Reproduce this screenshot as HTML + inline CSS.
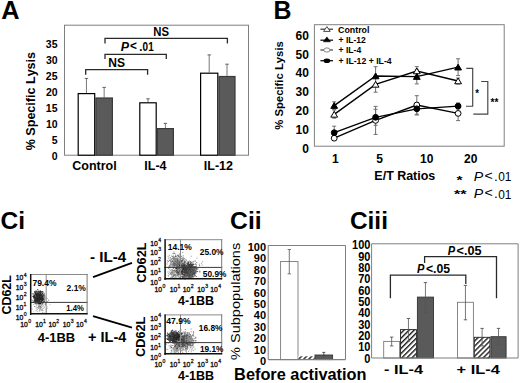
<!DOCTYPE html>
<html><head><meta charset="utf-8"><style>
html,body{margin:0;padding:0;background:#fff;}
svg{display:block;font-family:"Liberation Sans", sans-serif;font-kerning:none;}
</style></head><body>
<svg width="520" height="383" viewBox="0 0 520 383">
<defs>
<pattern id="hatch" patternUnits="userSpaceOnUse" width="3.6" height="4" patternTransform="rotate(45)">
<rect width="3.6" height="4" fill="#fff"/><line x1="0.7" y1="0" x2="0.7" y2="4" stroke="#111" stroke-width="1.35"/>
</pattern>
</defs>
<rect width="520" height="383" fill="#fff"/>
<text transform="translate(1.27,18.90) scale(0.9937,1.0000)" font-size="25.5" font-weight="bold" font-style="normal" fill="#000" >A</text>
<rect x="64.5" y="25.2" width="184" height="130" fill="none" stroke="#7f7f7f" stroke-width="1"/>
<text x="51.79" y="160.00" font-size="10.5" font-weight="bold">0</text>
<text x="51.65" y="143.98" font-size="10.5" font-weight="bold">5</text>
<text x="45.95" y="127.96" font-size="10.5" font-weight="bold">10</text>
<text x="45.81" y="111.94" font-size="10.5" font-weight="bold">15</text>
<text x="45.95" y="95.92" font-size="10.5" font-weight="bold">20</text>
<text x="45.81" y="79.90" font-size="10.5" font-weight="bold">25</text>
<text x="45.95" y="63.88" font-size="10.5" font-weight="bold">30</text>
<text x="45.81" y="47.86" font-size="10.5" font-weight="bold">35</text>
<text transform="translate(34.76,150.31) rotate(-90) scale(1.0058,1.0000)" font-size="12.5" font-weight="bold" font-style="normal" fill="#000">% Specific Lysis</text>
<line x1="86.44999999999999" y1="78.5" x2="86.44999999999999" y2="93.0" stroke="#6a6a6a" stroke-width="0.9"/>
<line x1="84.74999999999999" y1="78.5" x2="88.14999999999999" y2="78.5" stroke="#6a6a6a" stroke-width="1.1"/>
<line x1="104.15" y1="87.4" x2="104.15" y2="97.4" stroke="#6a6a6a" stroke-width="0.9"/>
<line x1="102.45" y1="87.4" x2="105.85000000000001" y2="87.4" stroke="#6a6a6a" stroke-width="1.1"/>
<line x1="148.0" y1="98.8" x2="148.0" y2="102.2" stroke="#6a6a6a" stroke-width="0.9"/>
<line x1="146.3" y1="98.8" x2="149.7" y2="98.8" stroke="#6a6a6a" stroke-width="1.1"/>
<line x1="165.4" y1="123.4" x2="165.4" y2="128.0" stroke="#6a6a6a" stroke-width="0.9"/>
<line x1="163.70000000000002" y1="123.4" x2="167.1" y2="123.4" stroke="#6a6a6a" stroke-width="1.1"/>
<line x1="209.2" y1="54.9" x2="209.2" y2="72.6" stroke="#6a6a6a" stroke-width="0.9"/>
<line x1="207.5" y1="54.9" x2="210.89999999999998" y2="54.9" stroke="#6a6a6a" stroke-width="1.1"/>
<line x1="227.0" y1="64.2" x2="227.0" y2="75.9" stroke="#6a6a6a" stroke-width="0.9"/>
<line x1="225.3" y1="64.2" x2="228.7" y2="64.2" stroke="#6a6a6a" stroke-width="1.1"/>
<rect x="78.19999999999999" y="93.6" width="16.500000000000014" height="61.599999999999994" fill="#fff" stroke="#000" stroke-width="1.2"/>
<rect x="95.89999999999999" y="98.0" width="16.500000000000014" height="57.19999999999999" fill="#5a5a5a" stroke="#3a3a3a" stroke-width="1.2"/>
<rect x="139.79999999999998" y="102.8" width="16.400000000000034" height="52.39999999999999" fill="#fff" stroke="#000" stroke-width="1.2"/>
<rect x="157.4" y="128.6" width="16.0" height="26.599999999999994" fill="#5a5a5a" stroke="#3a3a3a" stroke-width="1.2"/>
<rect x="200.6" y="73.19999999999999" width="17.200000000000017" height="82.0" fill="#fff" stroke="#000" stroke-width="1.2"/>
<rect x="219.0" y="76.5" width="16.0" height="78.69999999999999" fill="#5a5a5a" stroke="#3a3a3a" stroke-width="1.2"/>
<polyline points="105,43.5 105,38.4 227.4,38.4 227.4,43.5" fill="none" stroke="#2a2a2a" stroke-width="1.3"/>
<polyline points="105,58.9 105,54.3 166.3,54.3 166.3,58.9" fill="none" stroke="#2a2a2a" stroke-width="1.3"/>
<polyline points="85.7,74.8 85.7,69.7 147.6,69.7 147.6,74.8" fill="none" stroke="#2a2a2a" stroke-width="1.3"/>
<text transform="translate(153.24,36.30) scale(0.9481,1.0000)" font-size="12" font-weight="bold" font-style="normal" fill="#000" >NS</text>
<text transform="translate(108.19,66.60) scale(1.0066,1.0000)" font-size="12" font-weight="bold" font-style="normal" fill="#000" >NS</text>
<text transform="translate(120.78,50.70) scale(1.0371,1.0000)" font-size="12" font-weight="bold" font-style="italic" fill="#000" >P</text>
<text transform="translate(129.91,50.00) scale(0.9805,1.0000)" font-size="12" font-weight="bold" font-style="normal" fill="#000" >&lt;</text>
<text transform="translate(139.23,50.70) scale(0.9449,1.0000)" font-size="12" font-weight="bold" font-style="normal" fill="#000" >.</text>
<text transform="translate(142.61,50.90) scale(0.8294,1.0000)" font-size="12" font-weight="bold" font-style="normal" fill="#000" >01</text>
<text transform="translate(72.27,169.80) scale(1.0000,1.0000)" font-size="12.5" font-weight="bold" font-style="normal" fill="#000">Control</text>
<text transform="translate(144.30,169.80) scale(1.0000,1.0000)" font-size="12.5" font-weight="bold" font-style="normal" fill="#000">IL-4</text>
<text transform="translate(203.84,169.80) scale(1.0000,1.0000)" font-size="12.5" font-weight="bold" font-style="normal" fill="#000">IL-12</text>
<text transform="translate(273.43,18.90) scale(1.0257,1.0600)" font-size="24.3" font-weight="bold" font-style="normal" fill="#000" >B</text>
<rect x="314.4" y="24.7" width="189.8" height="121.5" fill="none" stroke="#7f7f7f" stroke-width="1"/>
<text x="302.22" y="153.00" font-size="12" font-weight="bold">0</text>
<text x="295.54" y="134.10" font-size="12" font-weight="bold">10</text>
<text x="295.54" y="115.20" font-size="12" font-weight="bold">20</text>
<text x="295.54" y="96.30" font-size="12" font-weight="bold">30</text>
<text x="295.54" y="77.40" font-size="12" font-weight="bold">40</text>
<text x="295.54" y="58.50" font-size="12" font-weight="bold">50</text>
<text x="295.54" y="39.60" font-size="12" font-weight="bold">60</text>
<text transform="translate(282.89,129.78) rotate(-90) scale(1.0021,1.0000)" font-size="11.3" font-weight="bold" font-style="normal" fill="#000">% Specific Lysis</text>
<line x1="334.2" y1="110" x2="334.2" y2="118.2" stroke="#6f6f6f" stroke-width="1"/>
<line x1="332.2" y1="110" x2="336.2" y2="110" stroke="#6f6f6f" stroke-width="1"/>
<line x1="332.2" y1="118.2" x2="336.2" y2="118.2" stroke="#6f6f6f" stroke-width="1"/>
<line x1="375.6" y1="76.6" x2="375.6" y2="92.2" stroke="#6f6f6f" stroke-width="1"/>
<line x1="373.6" y1="76.6" x2="377.6" y2="76.6" stroke="#6f6f6f" stroke-width="1"/>
<line x1="373.6" y1="92.2" x2="377.6" y2="92.2" stroke="#6f6f6f" stroke-width="1"/>
<line x1="416.8" y1="66.6" x2="416.8" y2="75.4" stroke="#6f6f6f" stroke-width="1"/>
<line x1="414.8" y1="66.6" x2="418.8" y2="66.6" stroke="#6f6f6f" stroke-width="1"/>
<line x1="414.8" y1="75.4" x2="418.8" y2="75.4" stroke="#6f6f6f" stroke-width="1"/>
<line x1="458.1" y1="78" x2="458.1" y2="84" stroke="#6f6f6f" stroke-width="1"/>
<line x1="456.1" y1="78" x2="460.1" y2="78" stroke="#6f6f6f" stroke-width="1"/>
<line x1="456.1" y1="84" x2="460.1" y2="84" stroke="#6f6f6f" stroke-width="1"/>
<line x1="334.2" y1="101.8" x2="334.2" y2="109.4" stroke="#6f6f6f" stroke-width="1"/>
<line x1="332.2" y1="101.8" x2="336.2" y2="101.8" stroke="#6f6f6f" stroke-width="1"/>
<line x1="332.2" y1="109.4" x2="336.2" y2="109.4" stroke="#6f6f6f" stroke-width="1"/>
<line x1="375.6" y1="66.7" x2="375.6" y2="85.3" stroke="#6f6f6f" stroke-width="1"/>
<line x1="373.6" y1="66.7" x2="377.6" y2="66.7" stroke="#6f6f6f" stroke-width="1"/>
<line x1="373.6" y1="85.3" x2="377.6" y2="85.3" stroke="#6f6f6f" stroke-width="1"/>
<line x1="416.8" y1="69.3" x2="416.8" y2="83.9" stroke="#6f6f6f" stroke-width="1"/>
<line x1="414.8" y1="69.3" x2="418.8" y2="69.3" stroke="#6f6f6f" stroke-width="1"/>
<line x1="414.8" y1="83.9" x2="418.8" y2="83.9" stroke="#6f6f6f" stroke-width="1"/>
<line x1="458.1" y1="58.8" x2="458.1" y2="75.6" stroke="#6f6f6f" stroke-width="1"/>
<line x1="456.1" y1="58.8" x2="460.1" y2="58.8" stroke="#6f6f6f" stroke-width="1"/>
<line x1="456.1" y1="75.6" x2="460.1" y2="75.6" stroke="#6f6f6f" stroke-width="1"/>
<line x1="334.2" y1="136" x2="334.2" y2="140.4" stroke="#6f6f6f" stroke-width="1"/>
<line x1="332.2" y1="136" x2="336.2" y2="136" stroke="#6f6f6f" stroke-width="1"/>
<line x1="332.2" y1="140.4" x2="336.2" y2="140.4" stroke="#6f6f6f" stroke-width="1"/>
<line x1="375.6" y1="106.4" x2="375.6" y2="134.4" stroke="#6f6f6f" stroke-width="1"/>
<line x1="373.6" y1="106.4" x2="377.6" y2="106.4" stroke="#6f6f6f" stroke-width="1"/>
<line x1="373.6" y1="134.4" x2="377.6" y2="134.4" stroke="#6f6f6f" stroke-width="1"/>
<line x1="416.8" y1="95.7" x2="416.8" y2="114.3" stroke="#6f6f6f" stroke-width="1"/>
<line x1="414.8" y1="95.7" x2="418.8" y2="95.7" stroke="#6f6f6f" stroke-width="1"/>
<line x1="414.8" y1="114.3" x2="418.8" y2="114.3" stroke="#6f6f6f" stroke-width="1"/>
<line x1="458.1" y1="106.2" x2="458.1" y2="120.6" stroke="#6f6f6f" stroke-width="1"/>
<line x1="456.1" y1="106.2" x2="460.1" y2="106.2" stroke="#6f6f6f" stroke-width="1"/>
<line x1="456.1" y1="120.6" x2="460.1" y2="120.6" stroke="#6f6f6f" stroke-width="1"/>
<line x1="334.2" y1="126.2" x2="334.2" y2="139.2" stroke="#6f6f6f" stroke-width="1"/>
<line x1="332.2" y1="126.2" x2="336.2" y2="126.2" stroke="#6f6f6f" stroke-width="1"/>
<line x1="332.2" y1="139.2" x2="336.2" y2="139.2" stroke="#6f6f6f" stroke-width="1"/>
<line x1="375.6" y1="109.3" x2="375.6" y2="125.3" stroke="#6f6f6f" stroke-width="1"/>
<line x1="373.6" y1="109.3" x2="377.6" y2="109.3" stroke="#6f6f6f" stroke-width="1"/>
<line x1="373.6" y1="125.3" x2="377.6" y2="125.3" stroke="#6f6f6f" stroke-width="1"/>
<line x1="416.8" y1="102.6" x2="416.8" y2="115" stroke="#6f6f6f" stroke-width="1"/>
<line x1="414.8" y1="102.6" x2="418.8" y2="102.6" stroke="#6f6f6f" stroke-width="1"/>
<line x1="414.8" y1="115" x2="418.8" y2="115" stroke="#6f6f6f" stroke-width="1"/>
<line x1="458.1" y1="103" x2="458.1" y2="109" stroke="#6f6f6f" stroke-width="1"/>
<line x1="456.1" y1="103" x2="460.1" y2="103" stroke="#6f6f6f" stroke-width="1"/>
<line x1="456.1" y1="109" x2="460.1" y2="109" stroke="#6f6f6f" stroke-width="1"/>
<polyline points="334.2,114.4 375.6,84.4 416.8,71.0 458.1,81.0" fill="none" stroke="#000" stroke-width="1.35"/>
<polyline points="334.2,105.6 375.6,76.0 416.8,76.6 458.1,67.2" fill="none" stroke="#000" stroke-width="1.35"/>
<polyline points="334.2,138.2 375.6,120.4 416.8,105.0 458.1,113.4" fill="none" stroke="#000" stroke-width="1.35"/>
<polyline points="334.2,132.7 375.6,117.3 416.8,108.8 458.1,106.1" fill="none" stroke="#000" stroke-width="1.35"/>
<polygon points="334.2,111.39 330.8,117.17 337.59999999999997,117.17" fill="#fff" stroke="#000" stroke-width="1"/>
<polygon points="375.6,81.39 372.20000000000005,87.17 379.0,87.17" fill="#fff" stroke="#000" stroke-width="1"/>
<polygon points="416.8,67.99 413.40000000000003,73.77 420.2,73.77" fill="#fff" stroke="#000" stroke-width="1"/>
<polygon points="458.1,77.99 454.70000000000005,83.77 461.5,83.77" fill="#fff" stroke="#000" stroke-width="1"/>
<polygon points="334.2,102.59 330.8,108.37 337.59999999999997,108.37" fill="#000" stroke="#000" stroke-width="1"/>
<polygon points="375.6,72.99 372.20000000000005,78.77 379.0,78.77" fill="#000" stroke="#000" stroke-width="1"/>
<polygon points="416.8,73.59 413.40000000000003,79.37 420.2,79.37" fill="#000" stroke="#000" stroke-width="1"/>
<polygon points="458.1,64.19 454.70000000000005,69.97 461.5,69.97" fill="#000" stroke="#000" stroke-width="1"/>
<circle cx="334.2" cy="138.2" r="2.9" fill="#fff" stroke="#000" stroke-width="1"/>
<circle cx="375.6" cy="120.4" r="2.9" fill="#fff" stroke="#000" stroke-width="1"/>
<circle cx="416.8" cy="105.0" r="2.9" fill="#fff" stroke="#000" stroke-width="1"/>
<circle cx="458.1" cy="113.4" r="2.9" fill="#fff" stroke="#000" stroke-width="1"/>
<circle cx="334.2" cy="132.7" r="2.9" fill="#000" stroke="#000" stroke-width="1"/>
<circle cx="375.6" cy="117.3" r="2.9" fill="#000" stroke="#000" stroke-width="1"/>
<circle cx="416.8" cy="108.8" r="2.9" fill="#000" stroke="#000" stroke-width="1"/>
<circle cx="458.1" cy="106.1" r="2.9" fill="#000" stroke="#000" stroke-width="1"/>
<line x1="320.4" y1="29.2" x2="333.0" y2="29.2" stroke="#333" stroke-width="1.2"/>
<line x1="320.4" y1="40.2" x2="333.0" y2="40.2" stroke="#111" stroke-width="1.3"/>
<line x1="320.4" y1="50.0" x2="333.0" y2="50.0" stroke="#444" stroke-width="1.2"/>
<line x1="320.4" y1="60.7" x2="333.0" y2="60.7" stroke="#111" stroke-width="1.3"/>
<polygon points="326.9,26.6 323.6,31.4 330.2,31.4" fill="#fff" stroke="#333" stroke-width="0.9"/>
<polygon points="326.9,36.9 323.4,41.8 330.4,41.8" fill="#000" stroke="#000" stroke-width="0.6"/>
<ellipse cx="326.9" cy="50.0" rx="3.1" ry="2.1" fill="#fff" stroke="#777" stroke-width="0.9"/>
<ellipse cx="326.9" cy="60.7" rx="3.3" ry="2.3" fill="#000"/>
<text transform="translate(338.04,32.60) scale(1.0067,1.0000)" font-size="8.8" font-weight="bold" font-style="normal" fill="#000" >Control</text>
<text transform="translate(338.54,43.40) scale(0.9708,1.0000)" font-size="8.8" font-weight="bold" font-style="normal" fill="#000" >+ IL-12</text>
<text transform="translate(338.54,53.40) scale(0.9776,1.0000)" font-size="8.8" font-weight="bold" font-style="normal" fill="#000" >+ IL-4</text>
<text transform="translate(338.54,63.70) scale(0.9873,1.0000)" font-size="8.8" font-weight="bold" font-style="normal" fill="#000" >+ IL-12 + IL-4</text>
<polyline points="466.3,68.4 472.7,68.4 472.7,106.2 466,106.2" fill="none" stroke="#444" stroke-width="1.15"/>
<polyline points="481.2,81.5 487.8,81.5 487.8,114.1 473.3,114.1" fill="none" stroke="#444" stroke-width="1.15"/>
<text transform="translate(475.37,96.80) scale(0.9604,1.0000)" font-size="10" font-weight="bold" font-style="normal" fill="#000" >*</text>
<text transform="translate(490.47,105.50) scale(1.0072,1.0000)" font-size="10" font-weight="bold" font-style="normal" fill="#000" >**</text>
<text transform="translate(331.95,162.80) scale(1.0000,1.0000)" font-size="12" font-weight="bold" font-style="normal" fill="#000">1</text>
<text transform="translate(376.15,162.80) scale(1.0000,1.0000)" font-size="12" font-weight="bold" font-style="normal" fill="#000">5</text>
<text transform="translate(419.99,162.80) scale(1.0000,1.0000)" font-size="12" font-weight="bold" font-style="normal" fill="#000">10</text>
<text transform="translate(464.06,162.80) scale(1.0000,1.0000)" font-size="12" font-weight="bold" font-style="normal" fill="#000">20</text>
<text transform="translate(374.37,180.10) scale(0.9971,1.0000)" font-size="12.5" font-weight="bold" font-style="normal" fill="#000" >E/T Ratios</text>
<text transform="translate(456.45,184.00) scale(1.4158,1.0000)" font-size="11" font-weight="bold" font-style="normal" fill="#000" >*</text>
<text transform="translate(473.67,180.60) scale(1.0466,1.0000)" font-size="13.5" font-weight="normal" font-style="italic" fill="#000" >P</text>
<text transform="translate(484.50,179.60) scale(1.0520,1.0000)" font-size="13.5" font-weight="normal" font-style="normal" fill="#000" >&lt;</text>
<text transform="translate(494.05,180.60) scale(1.0114,1.0000)" font-size="13.5" font-weight="normal" font-style="normal" fill="#000" >.</text>
<text transform="translate(498.13,180.80) scale(0.8822,1.0000)" font-size="13.5" font-weight="normal" font-style="normal" fill="#000" >01</text>
<text transform="translate(454.05,198.00) scale(1.4674,1.0000)" font-size="11" font-weight="bold" font-style="normal" fill="#000" >**</text>
<text transform="translate(473.67,198.30) scale(1.0466,1.0000)" font-size="13.5" font-weight="normal" font-style="italic" fill="#000" >P</text>
<text transform="translate(484.50,197.30) scale(1.0520,1.0000)" font-size="13.5" font-weight="normal" font-style="normal" fill="#000" >&lt;</text>
<text transform="translate(494.05,198.30) scale(1.0114,1.0000)" font-size="13.5" font-weight="normal" font-style="normal" fill="#000" >.</text>
<text transform="translate(498.13,198.50) scale(0.8822,1.0000)" font-size="13.5" font-weight="normal" font-style="normal" fill="#000" >01</text>
<text transform="translate(0.59,228.60) scale(1.0018,1.0000)" font-size="24.5" font-weight="bold" font-style="normal" fill="#000" >Ci</text>
<path d="M37.5 298.2h1.0v1.0h-1.0zM37.5 296.3h1.0v1.0h-1.0zM36.1 296.5h1.0v1.0h-1.0zM40.2 298.0h1.0v1.0h-1.0zM40.1 297.6h1.0v1.0h-1.0zM38.8 297.4h1.0v1.0h-1.0zM34.7 299.0h1.0v1.0h-1.0zM39.0 298.1h1.0v1.0h-1.0zM34.6 293.0h1.0v1.0h-1.0zM36.2 295.9h1.0v1.0h-1.0zM38.6 296.9h1.0v1.0h-1.0zM39.0 295.5h1.0v1.0h-1.0zM38.6 297.9h1.0v1.0h-1.0zM36.7 301.0h1.0v1.0h-1.0zM39.1 299.8h1.0v1.0h-1.0zM36.8 295.3h1.0v1.0h-1.0zM37.3 296.8h1.0v1.0h-1.0zM39.3 297.6h1.0v1.0h-1.0zM37.1 294.8h1.0v1.0h-1.0zM37.0 299.8h1.0v1.0h-1.0zM36.4 297.6h1.0v1.0h-1.0zM38.9 293.6h1.0v1.0h-1.0zM38.1 300.0h1.0v1.0h-1.0zM34.0 296.3h1.0v1.0h-1.0zM37.8 295.1h1.0v1.0h-1.0zM39.0 296.9h1.0v1.0h-1.0zM35.1 298.9h1.0v1.0h-1.0zM39.3 299.2h1.0v1.0h-1.0zM40.9 297.8h1.0v1.0h-1.0zM38.2 294.0h1.0v1.0h-1.0zM39.2 295.6h1.0v1.0h-1.0zM37.1 294.1h1.0v1.0h-1.0zM36.1 295.8h1.0v1.0h-1.0zM40.6 292.3h1.0v1.0h-1.0zM35.1 297.6h1.0v1.0h-1.0zM40.9 298.3h1.0v1.0h-1.0zM34.2 291.2h1.0v1.0h-1.0zM38.7 295.3h1.0v1.0h-1.0zM35.8 299.2h1.0v1.0h-1.0zM40.2 297.4h1.0v1.0h-1.0zM38.5 298.0h1.0v1.0h-1.0zM41.2 298.4h1.0v1.0h-1.0zM39.0 298.3h1.0v1.0h-1.0zM34.9 299.9h1.0v1.0h-1.0zM39.9 298.2h1.0v1.0h-1.0zM34.1 295.5h1.0v1.0h-1.0zM39.7 292.8h1.0v1.0h-1.0zM37.6 299.3h1.0v1.0h-1.0zM35.4 300.7h1.0v1.0h-1.0zM39.1 296.7h1.0v1.0h-1.0zM38.6 298.5h1.0v1.0h-1.0zM38.2 299.6h1.0v1.0h-1.0zM36.7 296.0h1.0v1.0h-1.0zM40.1 297.1h1.0v1.0h-1.0zM36.2 299.2h1.0v1.0h-1.0zM40.9 296.0h1.0v1.0h-1.0zM35.2 296.7h1.0v1.0h-1.0zM37.7 296.3h1.0v1.0h-1.0zM40.8 294.6h1.0v1.0h-1.0zM40.5 294.1h1.0v1.0h-1.0zM36.4 298.5h1.0v1.0h-1.0zM40.3 299.0h1.0v1.0h-1.0zM38.7 297.3h1.0v1.0h-1.0zM38.3 298.3h1.0v1.0h-1.0zM37.6 297.6h1.0v1.0h-1.0zM39.1 297.0h1.0v1.0h-1.0zM39.5 298.3h1.0v1.0h-1.0zM42.0 297.7h1.0v1.0h-1.0zM37.1 296.1h1.0v1.0h-1.0zM38.0 299.1h1.0v1.0h-1.0zM37.3 297.9h1.0v1.0h-1.0zM41.7 291.1h1.0v1.0h-1.0zM35.8 297.6h1.0v1.0h-1.0zM38.8 297.5h1.0v1.0h-1.0zM37.1 298.5h1.0v1.0h-1.0zM38.6 295.8h1.0v1.0h-1.0zM42.9 297.8h1.0v1.0h-1.0zM36.9 296.8h1.0v1.0h-1.0zM37.5 296.9h1.0v1.0h-1.0zM32.5 295.9h1.0v1.0h-1.0zM40.0 294.3h1.0v1.0h-1.0zM37.9 299.2h1.0v1.0h-1.0zM39.7 300.4h1.0v1.0h-1.0zM34.6 296.2h1.0v1.0h-1.0zM37.3 298.4h1.0v1.0h-1.0zM40.2 290.8h1.0v1.0h-1.0zM40.2 293.7h1.0v1.0h-1.0zM39.4 293.6h1.0v1.0h-1.0zM38.4 299.7h1.0v1.0h-1.0zM37.7 297.4h1.0v1.0h-1.0zM39.6 297.3h1.0v1.0h-1.0zM37.8 300.5h1.0v1.0h-1.0zM40.1 296.3h1.0v1.0h-1.0zM43.5 294.4h1.0v1.0h-1.0zM39.8 296.4h1.0v1.0h-1.0zM38.3 298.6h1.0v1.0h-1.0zM38.4 298.5h1.0v1.0h-1.0zM34.9 293.5h1.0v1.0h-1.0zM39.2 294.8h1.0v1.0h-1.0zM35.9 293.6h1.0v1.0h-1.0zM40.5 298.7h1.0v1.0h-1.0zM40.9 294.8h1.0v1.0h-1.0zM38.0 294.4h1.0v1.0h-1.0zM39.5 300.7h1.0v1.0h-1.0zM36.2 300.6h1.0v1.0h-1.0zM40.0 296.6h1.0v1.0h-1.0zM34.1 300.2h1.0v1.0h-1.0zM37.8 295.6h1.0v1.0h-1.0zM38.8 297.9h1.0v1.0h-1.0zM41.0 294.7h1.0v1.0h-1.0zM40.3 300.4h1.0v1.0h-1.0zM40.9 296.6h1.0v1.0h-1.0zM36.5 299.3h1.0v1.0h-1.0zM38.2 297.3h1.0v1.0h-1.0zM40.8 296.4h1.0v1.0h-1.0zM33.4 296.1h1.0v1.0h-1.0zM34.3 298.9h1.0v1.0h-1.0zM38.6 295.6h1.0v1.0h-1.0zM38.0 298.9h1.0v1.0h-1.0zM38.2 300.1h1.0v1.0h-1.0zM37.9 299.4h1.0v1.0h-1.0zM41.0 300.7h1.0v1.0h-1.0zM36.7 299.0h1.0v1.0h-1.0zM34.2 294.5h1.0v1.0h-1.0zM34.1 299.5h1.0v1.0h-1.0zM35.5 297.0h1.0v1.0h-1.0zM37.6 296.9h1.0v1.0h-1.0zM36.8 297.5h1.0v1.0h-1.0zM41.6 297.1h1.0v1.0h-1.0zM39.1 299.3h1.0v1.0h-1.0zM37.6 294.1h1.0v1.0h-1.0zM36.9 299.5h1.0v1.0h-1.0zM34.7 295.6h1.0v1.0h-1.0zM40.0 298.8h1.0v1.0h-1.0zM38.0 298.9h1.0v1.0h-1.0zM38.3 294.3h1.0v1.0h-1.0zM34.9 295.5h1.0v1.0h-1.0zM39.8 295.7h1.0v1.0h-1.0zM36.2 295.2h1.0v1.0h-1.0zM34.9 296.7h1.0v1.0h-1.0zM35.6 297.8h1.0v1.0h-1.0zM33.3 297.8h1.0v1.0h-1.0zM36.7 292.5h1.0v1.0h-1.0zM39.4 296.4h1.0v1.0h-1.0zM33.5 295.0h1.0v1.0h-1.0zM38.6 295.9h1.0v1.0h-1.0zM39.6 298.7h1.0v1.0h-1.0zM39.3 297.8h1.0v1.0h-1.0zM40.7 298.5h1.0v1.0h-1.0zM38.9 292.2h1.0v1.0h-1.0zM39.8 300.0h1.0v1.0h-1.0zM37.4 295.9h1.0v1.0h-1.0zM41.9 293.0h1.0v1.0h-1.0zM38.9 302.6h1.0v1.0h-1.0zM36.1 298.6h1.0v1.0h-1.0zM41.8 296.7h1.0v1.0h-1.0zM39.1 299.1h1.0v1.0h-1.0zM36.2 296.8h1.0v1.0h-1.0zM38.6 298.9h1.0v1.0h-1.0zM37.9 296.6h1.0v1.0h-1.0zM36.0 296.2h1.0v1.0h-1.0zM39.8 297.2h1.0v1.0h-1.0zM36.3 295.1h1.0v1.0h-1.0zM43.3 299.6h1.0v1.0h-1.0zM39.3 291.0h1.0v1.0h-1.0zM39.2 298.1h1.0v1.0h-1.0zM41.4 298.0h1.0v1.0h-1.0zM37.9 298.2h1.0v1.0h-1.0zM34.1 299.4h1.0v1.0h-1.0zM38.6 295.4h1.0v1.0h-1.0zM40.7 301.2h1.0v1.0h-1.0zM35.2 295.5h1.0v1.0h-1.0zM38.6 297.4h1.0v1.0h-1.0zM37.2 294.8h1.0v1.0h-1.0zM42.2 299.4h1.0v1.0h-1.0zM35.6 293.9h1.0v1.0h-1.0zM41.4 299.3h1.0v1.0h-1.0zM41.6 298.9h1.0v1.0h-1.0zM36.3 297.6h1.0v1.0h-1.0zM33.7 295.3h1.0v1.0h-1.0zM37.9 298.2h1.0v1.0h-1.0zM36.5 296.7h1.0v1.0h-1.0zM38.9 297.9h1.0v1.0h-1.0zM39.3 297.5h1.0v1.0h-1.0zM37.4 298.8h1.0v1.0h-1.0zM38.1 295.1h1.0v1.0h-1.0zM36.7 297.0h1.0v1.0h-1.0zM37.8 297.4h1.0v1.0h-1.0zM38.0 297.4h1.0v1.0h-1.0zM37.7 294.1h1.0v1.0h-1.0zM38.8 299.4h1.0v1.0h-1.0zM38.9 296.6h1.0v1.0h-1.0zM38.9 294.8h1.0v1.0h-1.0zM34.2 297.1h1.0v1.0h-1.0zM36.1 298.7h1.0v1.0h-1.0zM35.8 291.0h1.0v1.0h-1.0zM35.9 300.6h1.0v1.0h-1.0zM37.2 293.9h1.0v1.0h-1.0zM36.5 298.2h1.0v1.0h-1.0zM39.0 297.4h1.0v1.0h-1.0zM41.0 298.6h1.0v1.0h-1.0zM38.0 298.4h1.0v1.0h-1.0zM41.3 299.2h1.0v1.0h-1.0zM40.0 294.5h1.0v1.0h-1.0zM37.7 298.7h1.0v1.0h-1.0zM37.4 299.5h1.0v1.0h-1.0zM39.2 299.1h1.0v1.0h-1.0zM37.6 302.9h1.0v1.0h-1.0zM40.5 296.5h1.0v1.0h-1.0zM38.2 303.0h1.0v1.0h-1.0zM37.3 299.0h1.0v1.0h-1.0zM40.0 297.0h1.0v1.0h-1.0zM35.7 297.4h1.0v1.0h-1.0zM38.7 299.6h1.0v1.0h-1.0zM39.6 297.1h1.0v1.0h-1.0zM39.7 298.2h1.0v1.0h-1.0zM38.4 297.1h1.0v1.0h-1.0zM37.5 298.6h1.0v1.0h-1.0zM35.9 295.6h1.0v1.0h-1.0zM38.0 293.6h1.0v1.0h-1.0zM37.1 292.4h1.0v1.0h-1.0zM36.6 298.3h1.0v1.0h-1.0zM39.1 296.9h1.0v1.0h-1.0zM37.5 293.7h1.0v1.0h-1.0zM41.7 298.2h1.0v1.0h-1.0zM40.2 295.0h1.0v1.0h-1.0zM37.6 292.8h1.0v1.0h-1.0zM39.6 299.2h1.0v1.0h-1.0zM34.2 296.9h1.0v1.0h-1.0zM39.3 292.9h1.0v1.0h-1.0zM34.3 294.6h1.0v1.0h-1.0zM36.7 293.8h1.0v1.0h-1.0zM38.1 297.6h1.0v1.0h-1.0zM39.3 298.6h1.0v1.0h-1.0zM41.0 299.7h1.0v1.0h-1.0zM35.4 295.8h1.0v1.0h-1.0zM35.9 294.5h1.0v1.0h-1.0zM37.8 297.0h1.0v1.0h-1.0zM39.0 293.4h1.0v1.0h-1.0zM35.5 296.9h1.0v1.0h-1.0zM37.6 296.3h1.0v1.0h-1.0zM37.9 295.3h1.0v1.0h-1.0zM39.4 297.8h1.0v1.0h-1.0zM37.8 295.5h1.0v1.0h-1.0zM37.7 290.7h1.0v1.0h-1.0zM36.0 297.1h1.0v1.0h-1.0zM35.0 297.5h1.0v1.0h-1.0zM38.3 293.8h1.0v1.0h-1.0zM37.5 296.3h1.0v1.0h-1.0zM38.9 298.4h1.0v1.0h-1.0zM37.9 295.0h1.0v1.0h-1.0zM37.7 296.8h1.0v1.0h-1.0zM39.5 297.7h1.0v1.0h-1.0zM36.6 293.9h1.0v1.0h-1.0zM37.3 295.3h1.0v1.0h-1.0zM35.8 296.7h1.0v1.0h-1.0zM37.0 297.2h1.0v1.0h-1.0zM39.0 296.1h1.0v1.0h-1.0zM42.6 296.3h1.0v1.0h-1.0zM40.2 297.3h1.0v1.0h-1.0zM40.2 291.5h1.0v1.0h-1.0zM36.5 297.6h1.0v1.0h-1.0zM39.2 302.4h1.0v1.0h-1.0zM38.6 299.9h1.0v1.0h-1.0zM39.5 299.2h1.0v1.0h-1.0zM39.0 296.6h1.0v1.0h-1.0zM39.0 294.5h1.0v1.0h-1.0zM40.4 294.7h1.0v1.0h-1.0zM38.5 301.9h1.0v1.0h-1.0zM37.6 297.0h1.0v1.0h-1.0zM40.3 297.1h1.0v1.0h-1.0zM36.4 297.6h1.0v1.0h-1.0zM39.2 298.6h1.0v1.0h-1.0zM36.5 301.0h1.0v1.0h-1.0zM41.3 297.0h1.0v1.0h-1.0zM38.5 296.0h1.0v1.0h-1.0zM40.8 295.4h1.0v1.0h-1.0zM39.3 295.9h1.0v1.0h-1.0zM36.6 298.7h1.0v1.0h-1.0zM40.7 297.0h1.0v1.0h-1.0zM36.6 298.9h1.0v1.0h-1.0zM37.9 297.7h1.0v1.0h-1.0zM41.0 299.6h1.0v1.0h-1.0zM37.0 302.3h1.0v1.0h-1.0zM38.0 298.8h1.0v1.0h-1.0zM36.7 296.9h1.0v1.0h-1.0zM34.5 301.1h1.0v1.0h-1.0zM40.7 294.2h1.0v1.0h-1.0zM35.0 293.3h1.0v1.0h-1.0zM40.4 295.9h1.0v1.0h-1.0zM37.9 296.3h1.0v1.0h-1.0zM37.8 294.5h1.0v1.0h-1.0zM38.0 293.7h1.0v1.0h-1.0zM37.9 297.7h1.0v1.0h-1.0zM38.9 296.5h1.0v1.0h-1.0zM36.2 297.4h1.0v1.0h-1.0zM37.0 300.6h1.0v1.0h-1.0zM39.5 296.7h1.0v1.0h-1.0zM37.1 295.4h1.0v1.0h-1.0zM36.1 296.2h1.0v1.0h-1.0zM38.6 298.2h1.0v1.0h-1.0zM39.1 301.8h1.0v1.0h-1.0zM36.6 297.0h1.0v1.0h-1.0zM43.6 292.7h1.0v1.0h-1.0zM37.0 297.4h1.0v1.0h-1.0zM38.3 297.9h1.0v1.0h-1.0zM37.5 297.8h1.0v1.0h-1.0zM38.1 298.8h1.0v1.0h-1.0zM34.2 295.0h1.0v1.0h-1.0zM38.0 294.6h1.0v1.0h-1.0zM35.9 298.4h1.0v1.0h-1.0zM36.7 298.5h1.0v1.0h-1.0zM39.5 297.7h1.0v1.0h-1.0zM39.0 296.8h1.0v1.0h-1.0zM35.2 296.9h1.0v1.0h-1.0zM38.9 295.8h1.0v1.0h-1.0zM37.8 298.7h1.0v1.0h-1.0zM36.2 298.5h1.0v1.0h-1.0zM41.7 295.7h1.0v1.0h-1.0zM38.3 296.7h1.0v1.0h-1.0zM41.1 297.7h1.0v1.0h-1.0zM39.8 295.4h1.0v1.0h-1.0zM38.0 297.0h1.0v1.0h-1.0zM34.4 300.3h1.0v1.0h-1.0zM39.8 293.0h1.0v1.0h-1.0zM39.5 296.7h1.0v1.0h-1.0zM38.9 297.8h1.0v1.0h-1.0zM35.0 296.5h1.0v1.0h-1.0zM41.0 295.7h1.0v1.0h-1.0zM36.0 293.9h1.0v1.0h-1.0zM35.6 297.8h1.0v1.0h-1.0zM41.4 298.0h1.0v1.0h-1.0zM38.5 302.1h1.0v1.0h-1.0zM37.0 295.4h1.0v1.0h-1.0zM39.1 298.3h1.0v1.0h-1.0zM36.0 294.3h1.0v1.0h-1.0zM38.6 297.6h1.0v1.0h-1.0zM35.4 296.5h1.0v1.0h-1.0zM36.9 298.1h1.0v1.0h-1.0zM37.8 296.8h1.0v1.0h-1.0zM37.3 299.4h1.0v1.0h-1.0zM40.8 296.2h1.0v1.0h-1.0zM39.7 295.3h1.0v1.0h-1.0zM38.1 298.7h1.0v1.0h-1.0zM41.0 296.1h1.0v1.0h-1.0zM37.9 297.5h1.0v1.0h-1.0zM35.0 297.0h1.0v1.0h-1.0zM36.6 297.9h1.0v1.0h-1.0zM35.7 292.5h1.0v1.0h-1.0zM38.1 297.6h1.0v1.0h-1.0zM36.9 299.0h1.0v1.0h-1.0zM37.5 295.6h1.0v1.0h-1.0zM39.0 293.4h1.0v1.0h-1.0zM36.6 297.0h1.0v1.0h-1.0zM39.7 296.6h1.0v1.0h-1.0zM38.6 295.5h1.0v1.0h-1.0zM38.6 300.8h1.0v1.0h-1.0zM36.6 302.4h1.0v1.0h-1.0zM36.7 297.0h1.0v1.0h-1.0zM38.3 299.4h1.0v1.0h-1.0zM35.5 292.2h1.0v1.0h-1.0zM39.2 298.8h1.0v1.0h-1.0zM39.2 303.1h1.0v1.0h-1.0zM38.4 297.6h1.0v1.0h-1.0zM39.9 297.8h1.0v1.0h-1.0zM41.3 294.2h1.0v1.0h-1.0zM37.2 289.1h1.0v1.0h-1.0zM39.6 296.1h1.0v1.0h-1.0zM39.8 302.0h1.0v1.0h-1.0zM38.0 296.4h1.0v1.0h-1.0zM37.0 295.1h1.0v1.0h-1.0zM36.7 298.5h1.0v1.0h-1.0zM38.1 297.2h1.0v1.0h-1.0zM37.7 299.1h1.0v1.0h-1.0zM39.0 296.7h1.0v1.0h-1.0zM39.3 296.7h1.0v1.0h-1.0zM35.7 300.3h1.0v1.0h-1.0zM38.9 294.8h1.0v1.0h-1.0zM40.2 297.8h1.0v1.0h-1.0zM34.9 300.7h1.0v1.0h-1.0zM38.7 299.1h1.0v1.0h-1.0zM38.4 296.7h1.0v1.0h-1.0zM34.9 299.2h1.0v1.0h-1.0zM38.1 296.3h1.0v1.0h-1.0zM38.7 297.2h1.0v1.0h-1.0zM39.4 296.1h1.0v1.0h-1.0zM37.9 292.1h1.0v1.0h-1.0zM37.2 298.6h1.0v1.0h-1.0zM40.7 296.2h1.0v1.0h-1.0zM37.8 300.6h1.0v1.0h-1.0zM37.3 298.7h1.0v1.0h-1.0zM41.4 297.1h1.0v1.0h-1.0zM40.5 295.4h1.0v1.0h-1.0zM38.4 296.8h1.0v1.0h-1.0zM38.2 299.6h1.0v1.0h-1.0zM42.8 295.5h1.0v1.0h-1.0zM36.8 298.1h1.0v1.0h-1.0zM35.9 298.1h1.0v1.0h-1.0zM39.1 296.4h1.0v1.0h-1.0zM39.1 293.4h1.0v1.0h-1.0zM39.5 293.4h1.0v1.0h-1.0zM36.6 295.7h1.0v1.0h-1.0zM37.2 299.0h1.0v1.0h-1.0zM38.2 296.1h1.0v1.0h-1.0zM39.1 300.6h1.0v1.0h-1.0zM38.0 297.8h1.0v1.0h-1.0zM40.5 297.6h1.0v1.0h-1.0zM35.4 302.7h1.0v1.0h-1.0zM42.4 292.4h1.0v1.0h-1.0zM37.9 298.0h1.0v1.0h-1.0zM39.9 298.5h1.0v1.0h-1.0zM37.5 294.6h1.0v1.0h-1.0zM38.2 299.4h1.0v1.0h-1.0zM35.8 294.6h1.0v1.0h-1.0zM38.0 292.5h1.0v1.0h-1.0zM37.5 296.0h1.0v1.0h-1.0zM38.9 295.4h1.0v1.0h-1.0zM36.2 296.1h1.0v1.0h-1.0zM37.9 295.5h1.0v1.0h-1.0zM38.0 298.7h1.0v1.0h-1.0zM40.4 300.9h1.0v1.0h-1.0zM36.4 296.0h1.0v1.0h-1.0zM33.0 301.4h1.0v1.0h-1.0zM36.6 296.9h1.0v1.0h-1.0zM39.0 293.9h1.0v1.0h-1.0zM38.9 296.9h1.0v1.0h-1.0zM34.3 297.7h1.0v1.0h-1.0zM40.4 292.7h1.0v1.0h-1.0zM39.6 297.5h1.0v1.0h-1.0zM38.9 298.0h1.0v1.0h-1.0zM40.6 296.5h1.0v1.0h-1.0zM39.7 296.1h1.0v1.0h-1.0zM39.5 295.1h1.0v1.0h-1.0zM37.8 301.0h1.0v1.0h-1.0zM38.9 296.6h1.0v1.0h-1.0zM35.7 295.2h1.0v1.0h-1.0zM38.4 299.2h1.0v1.0h-1.0zM38.9 298.2h1.0v1.0h-1.0zM37.9 300.1h1.0v1.0h-1.0zM37.2 295.7h1.0v1.0h-1.0zM39.8 297.1h1.0v1.0h-1.0zM37.4 295.7h1.0v1.0h-1.0zM37.5 298.4h1.0v1.0h-1.0zM38.7 294.2h1.0v1.0h-1.0zM38.9 297.4h1.0v1.0h-1.0zM36.0 298.8h1.0v1.0h-1.0zM37.4 296.2h1.0v1.0h-1.0zM39.6 300.0h1.0v1.0h-1.0zM36.6 298.0h1.0v1.0h-1.0zM36.2 302.3h1.0v1.0h-1.0zM37.0 299.7h1.0v1.0h-1.0zM36.7 298.9h1.0v1.0h-1.0zM42.4 291.2h1.0v1.0h-1.0zM37.1 298.2h1.0v1.0h-1.0zM37.8 295.5h1.0v1.0h-1.0zM42.3 297.2h1.0v1.0h-1.0zM34.7 299.0h1.0v1.0h-1.0zM34.6 299.6h1.0v1.0h-1.0zM36.8 297.3h1.0v1.0h-1.0zM40.5 297.3h1.0v1.0h-1.0zM35.2 293.1h1.0v1.0h-1.0zM40.4 298.7h1.0v1.0h-1.0zM36.4 299.0h1.0v1.0h-1.0zM39.0 298.5h1.0v1.0h-1.0zM33.5 296.3h1.0v1.0h-1.0zM39.8 298.7h1.0v1.0h-1.0zM39.8 291.3h1.0v1.0h-1.0zM38.3 298.1h1.0v1.0h-1.0zM43.1 294.8h1.0v1.0h-1.0zM37.3 297.1h1.0v1.0h-1.0zM39.8 296.0h1.0v1.0h-1.0zM40.3 295.2h1.0v1.0h-1.0zM38.5 295.8h1.0v1.0h-1.0zM38.3 295.4h1.0v1.0h-1.0zM34.8 299.5h1.0v1.0h-1.0zM38.6 295.7h1.0v1.0h-1.0zM38.4 299.3h1.0v1.0h-1.0zM36.0 296.7h1.0v1.0h-1.0zM39.1 298.2h1.0v1.0h-1.0zM37.3 292.2h1.0v1.0h-1.0zM40.5 297.8h1.0v1.0h-1.0zM38.0 296.4h1.0v1.0h-1.0zM38.5 296.0h1.0v1.0h-1.0zM36.0 295.3h1.0v1.0h-1.0zM36.8 295.6h1.0v1.0h-1.0zM35.7 298.5h1.0v1.0h-1.0zM35.4 298.5h1.0v1.0h-1.0zM36.0 297.8h1.0v1.0h-1.0zM40.7 297.5h1.0v1.0h-1.0zM36.5 297.1h1.0v1.0h-1.0zM38.3 293.0h1.0v1.0h-1.0zM36.8 297.4h1.0v1.0h-1.0zM37.1 297.2h1.0v1.0h-1.0zM39.5 298.8h1.0v1.0h-1.0zM39.8 298.4h1.0v1.0h-1.0zM37.4 297.0h1.0v1.0h-1.0zM37.5 296.3h1.0v1.0h-1.0zM37.6 293.0h1.0v1.0h-1.0zM37.3 296.9h1.0v1.0h-1.0zM36.1 296.9h1.0v1.0h-1.0zM39.0 296.6h1.0v1.0h-1.0zM42.2 291.0h1.0v1.0h-1.0zM37.6 292.8h1.0v1.0h-1.0zM40.0 303.1h1.0v1.0h-1.0zM33.0 297.3h1.0v1.0h-1.0zM39.0 296.3h1.0v1.0h-1.0zM39.1 291.8h1.0v1.0h-1.0zM39.7 297.9h1.0v1.0h-1.0zM38.0 295.6h1.0v1.0h-1.0zM39.3 295.9h1.0v1.0h-1.0zM38.4 295.8h1.0v1.0h-1.0zM33.5 296.9h1.0v1.0h-1.0zM38.4 298.7h1.0v1.0h-1.0zM36.2 296.9h1.0v1.0h-1.0zM39.2 297.3h1.0v1.0h-1.0zM40.5 301.6h1.0v1.0h-1.0zM36.2 292.6h1.0v1.0h-1.0zM39.7 300.5h1.0v1.0h-1.0zM39.8 298.9h1.0v1.0h-1.0zM36.8 295.4h1.0v1.0h-1.0zM39.8 294.9h1.0v1.0h-1.0zM34.4 294.7h1.0v1.0h-1.0zM43.0 301.4h1.0v1.0h-1.0zM36.6 295.3h1.0v1.0h-1.0zM38.5 295.3h1.0v1.0h-1.0zM40.6 296.8h1.0v1.0h-1.0zM35.8 300.0h1.0v1.0h-1.0zM36.8 297.5h1.0v1.0h-1.0zM38.0 296.3h1.0v1.0h-1.0zM38.6 295.4h1.0v1.0h-1.0zM34.3 291.9h1.0v1.0h-1.0zM35.5 295.3h1.0v1.0h-1.0zM38.0 297.1h1.0v1.0h-1.0zM39.1 297.3h1.0v1.0h-1.0zM36.4 295.4h1.0v1.0h-1.0zM33.8 296.6h1.0v1.0h-1.0zM39.0 298.2h1.0v1.0h-1.0zM37.8 296.6h1.0v1.0h-1.0zM39.9 297.0h1.0v1.0h-1.0zM39.5 298.3h1.0v1.0h-1.0zM38.4 300.0h1.0v1.0h-1.0zM36.9 296.2h1.0v1.0h-1.0zM36.4 295.2h1.0v1.0h-1.0zM41.1 301.0h1.0v1.0h-1.0zM38.0 298.3h1.0v1.0h-1.0zM40.4 298.9h1.0v1.0h-1.0zM40.4 294.1h1.0v1.0h-1.0zM36.7 298.0h1.0v1.0h-1.0zM40.9 297.2h1.0v1.0h-1.0zM36.3 296.2h1.0v1.0h-1.0zM36.7 295.0h1.0v1.0h-1.0zM41.0 295.6h1.0v1.0h-1.0zM38.0 302.0h1.0v1.0h-1.0zM40.4 297.8h1.0v1.0h-1.0zM36.8 297.9h1.0v1.0h-1.0zM41.2 298.4h1.0v1.0h-1.0zM40.5 297.2h1.0v1.0h-1.0zM39.0 296.5h1.0v1.0h-1.0zM38.9 300.0h1.0v1.0h-1.0zM35.1 296.9h1.0v1.0h-1.0zM38.5 295.7h1.0v1.0h-1.0zM37.4 298.8h1.0v1.0h-1.0zM42.0 298.4h1.0v1.0h-1.0zM38.7 293.4h1.0v1.0h-1.0zM41.9 297.2h1.0v1.0h-1.0zM37.9 294.4h1.0v1.0h-1.0zM37.9 294.5h1.0v1.0h-1.0zM38.1 298.1h1.0v1.0h-1.0zM38.1 297.6h1.0v1.0h-1.0zM36.3 300.3h1.0v1.0h-1.0zM36.7 292.8h1.0v1.0h-1.0zM37.6 295.2h1.0v1.0h-1.0zM36.0 296.2h1.0v1.0h-1.0zM38.6 294.3h1.0v1.0h-1.0zM37.7 300.3h1.0v1.0h-1.0zM39.4 296.7h1.0v1.0h-1.0zM38.3 296.7h1.0v1.0h-1.0zM37.9 298.7h1.0v1.0h-1.0zM37.8 291.5h1.0v1.0h-1.0zM38.0 295.0h1.0v1.0h-1.0zM39.3 295.6h1.0v1.0h-1.0zM38.3 302.0h1.0v1.0h-1.0zM35.9 294.4h1.0v1.0h-1.0zM35.2 291.5h1.0v1.0h-1.0zM34.2 297.8h1.0v1.0h-1.0zM36.7 292.7h1.0v1.0h-1.0zM35.0 298.4h1.0v1.0h-1.0zM36.4 296.2h1.0v1.0h-1.0zM38.7 300.1h1.0v1.0h-1.0zM41.9 299.4h1.0v1.0h-1.0zM38.3 297.4h1.0v1.0h-1.0zM41.6 300.3h1.0v1.0h-1.0zM37.4 298.1h1.0v1.0h-1.0zM38.6 297.1h1.0v1.0h-1.0zM37.0 293.9h1.0v1.0h-1.0zM36.9 293.4h1.0v1.0h-1.0zM40.4 298.2h1.0v1.0h-1.0zM35.6 300.2h1.0v1.0h-1.0zM39.8 292.6h1.0v1.0h-1.0zM41.7 298.9h1.0v1.0h-1.0zM42.1 294.2h1.0v1.0h-1.0zM39.1 298.0h1.0v1.0h-1.0zM38.4 297.4h1.0v1.0h-1.0zM40.1 293.6h1.0v1.0h-1.0zM35.5 293.8h1.0v1.0h-1.0zM36.9 295.6h1.0v1.0h-1.0zM38.7 297.6h1.0v1.0h-1.0zM38.1 295.4h1.0v1.0h-1.0zM37.1 299.2h1.0v1.0h-1.0zM39.5 297.2h1.0v1.0h-1.0zM37.4 300.6h1.0v1.0h-1.0zM36.8 298.5h1.0v1.0h-1.0zM40.3 296.4h1.0v1.0h-1.0zM39.7 294.4h1.0v1.0h-1.0zM40.0 297.5h1.0v1.0h-1.0zM34.8 298.5h1.0v1.0h-1.0zM36.2 299.9h1.0v1.0h-1.0zM36.6 296.6h1.0v1.0h-1.0zM38.6 296.2h1.0v1.0h-1.0zM38.5 295.7h1.0v1.0h-1.0zM39.3 297.0h1.0v1.0h-1.0zM38.4 290.7h1.0v1.0h-1.0zM40.3 297.1h1.0v1.0h-1.0zM34.4 297.2h1.0v1.0h-1.0zM38.9 299.5h1.0v1.0h-1.0zM35.8 300.6h1.0v1.0h-1.0zM37.7 302.5h1.0v1.0h-1.0zM37.7 298.6h1.0v1.0h-1.0zM37.3 294.4h1.0v1.0h-1.0zM40.2 299.1h1.0v1.0h-1.0zM41.1 299.0h1.0v1.0h-1.0zM36.9 293.2h1.0v1.0h-1.0zM36.7 295.4h1.0v1.0h-1.0zM36.4 298.3h1.0v1.0h-1.0zM38.7 296.4h1.0v1.0h-1.0zM38.3 296.7h1.0v1.0h-1.0zM38.4 298.7h1.0v1.0h-1.0zM39.9 295.4h1.0v1.0h-1.0zM35.0 300.3h1.0v1.0h-1.0zM38.2 299.5h1.0v1.0h-1.0zM34.7 296.2h1.0v1.0h-1.0zM38.1 293.7h1.0v1.0h-1.0zM37.0 298.7h1.0v1.0h-1.0zM40.2 300.7h1.0v1.0h-1.0zM36.3 293.8h1.0v1.0h-1.0zM39.0 299.2h1.0v1.0h-1.0zM38.4 294.0h1.0v1.0h-1.0zM39.6 298.8h1.0v1.0h-1.0zM39.1 295.9h1.0v1.0h-1.0zM38.6 298.8h1.0v1.0h-1.0z" fill="#000" fill-opacity="0.7"/>
<path d="M36.8 291.2h1.0v1.0h-1.0zM39.7 299.1h1.0v1.0h-1.0zM38.6 300.5h1.0v1.0h-1.0zM36.7 297.2h1.0v1.0h-1.0zM37.6 299.4h1.0v1.0h-1.0zM43.7 296.6h1.0v1.0h-1.0zM45.2 302.7h1.0v1.0h-1.0zM41.1 299.5h1.0v1.0h-1.0zM44.3 296.9h1.0v1.0h-1.0zM38.2 293.9h1.0v1.0h-1.0zM40.1 302.1h1.0v1.0h-1.0zM40.3 298.9h1.0v1.0h-1.0zM38.0 298.1h1.0v1.0h-1.0zM34.0 301.1h1.0v1.0h-1.0zM37.3 293.7h1.0v1.0h-1.0zM36.2 294.7h1.0v1.0h-1.0zM41.3 301.1h1.0v1.0h-1.0zM34.3 300.6h1.0v1.0h-1.0zM41.4 295.5h1.0v1.0h-1.0zM33.8 295.0h1.0v1.0h-1.0zM36.6 298.7h1.0v1.0h-1.0zM37.5 290.6h1.0v1.0h-1.0zM39.3 292.3h1.0v1.0h-1.0zM41.5 293.4h1.0v1.0h-1.0zM36.4 294.6h1.0v1.0h-1.0zM36.9 301.9h1.0v1.0h-1.0zM41.3 299.5h1.0v1.0h-1.0zM39.6 292.2h1.0v1.0h-1.0zM36.9 295.6h1.0v1.0h-1.0zM35.5 299.2h1.0v1.0h-1.0zM36.2 295.1h1.0v1.0h-1.0zM35.3 290.5h1.0v1.0h-1.0zM40.5 302.0h1.0v1.0h-1.0zM39.2 294.2h1.0v1.0h-1.0zM42.5 298.5h1.0v1.0h-1.0zM41.6 302.5h1.0v1.0h-1.0zM42.2 296.0h1.0v1.0h-1.0zM42.0 300.1h1.0v1.0h-1.0zM33.7 296.1h1.0v1.0h-1.0zM34.0 297.1h1.0v1.0h-1.0zM40.5 293.9h1.0v1.0h-1.0zM32.0 301.9h1.0v1.0h-1.0zM39.8 302.5h1.0v1.0h-1.0zM34.4 301.1h1.0v1.0h-1.0zM45.2 304.3h1.0v1.0h-1.0zM37.9 298.4h1.0v1.0h-1.0zM38.1 300.9h1.0v1.0h-1.0zM41.9 297.8h1.0v1.0h-1.0zM34.3 300.0h1.0v1.0h-1.0zM37.1 299.6h1.0v1.0h-1.0zM39.4 303.0h1.0v1.0h-1.0zM42.2 296.0h1.0v1.0h-1.0zM39.7 303.5h1.0v1.0h-1.0zM36.9 299.0h1.0v1.0h-1.0zM42.4 301.8h1.0v1.0h-1.0zM40.3 293.0h1.0v1.0h-1.0zM34.6 298.3h1.0v1.0h-1.0zM39.8 306.2h1.0v1.0h-1.0zM35.8 301.4h1.0v1.0h-1.0zM41.1 291.8h1.0v1.0h-1.0zM36.0 298.1h1.0v1.0h-1.0zM37.0 297.0h1.0v1.0h-1.0zM40.1 294.7h1.0v1.0h-1.0zM40.1 295.3h1.0v1.0h-1.0zM36.9 299.3h1.0v1.0h-1.0zM36.8 298.5h1.0v1.0h-1.0zM43.7 297.6h1.0v1.0h-1.0zM38.1 300.0h1.0v1.0h-1.0zM37.4 301.2h1.0v1.0h-1.0zM34.5 299.6h1.0v1.0h-1.0zM37.0 294.8h1.0v1.0h-1.0zM44.3 294.6h1.0v1.0h-1.0zM44.2 299.7h1.0v1.0h-1.0zM43.2 294.2h1.0v1.0h-1.0zM42.4 302.5h1.0v1.0h-1.0zM38.2 297.1h1.0v1.0h-1.0zM46.5 298.1h1.0v1.0h-1.0zM37.2 295.4h1.0v1.0h-1.0zM40.0 298.6h1.0v1.0h-1.0zM39.2 303.4h1.0v1.0h-1.0zM37.6 299.1h1.0v1.0h-1.0zM43.3 294.1h1.0v1.0h-1.0zM41.9 303.7h1.0v1.0h-1.0zM34.3 293.8h1.0v1.0h-1.0zM35.3 291.2h1.0v1.0h-1.0zM40.0 291.2h1.0v1.0h-1.0zM40.2 302.4h1.0v1.0h-1.0zM33.4 296.4h1.0v1.0h-1.0zM32.5 300.1h1.0v1.0h-1.0zM36.2 296.6h1.0v1.0h-1.0zM38.8 299.4h1.0v1.0h-1.0zM37.5 297.6h1.0v1.0h-1.0zM36.9 297.9h1.0v1.0h-1.0zM34.8 297.7h1.0v1.0h-1.0zM32.4 295.8h1.0v1.0h-1.0zM44.7 297.8h1.0v1.0h-1.0zM34.6 298.4h1.0v1.0h-1.0zM35.5 291.9h1.0v1.0h-1.0zM36.2 300.0h1.0v1.0h-1.0zM39.8 297.2h1.0v1.0h-1.0zM35.6 293.8h1.0v1.0h-1.0zM42.9 298.3h1.0v1.0h-1.0zM35.6 290.3h1.0v1.0h-1.0zM34.2 305.9h1.0v1.0h-1.0zM34.9 297.2h1.0v1.0h-1.0zM39.3 297.0h1.0v1.0h-1.0zM37.7 292.8h1.0v1.0h-1.0zM35.2 303.2h1.0v1.0h-1.0zM36.2 300.4h1.0v1.0h-1.0zM33.2 296.6h1.0v1.0h-1.0zM39.4 301.0h1.0v1.0h-1.0zM35.0 299.5h1.0v1.0h-1.0zM39.8 295.0h1.0v1.0h-1.0zM40.1 294.4h1.0v1.0h-1.0zM36.1 297.4h1.0v1.0h-1.0zM35.4 292.5h1.0v1.0h-1.0zM37.2 300.1h1.0v1.0h-1.0zM37.3 301.8h1.0v1.0h-1.0zM34.9 293.0h1.0v1.0h-1.0zM43.6 298.9h1.0v1.0h-1.0zM41.6 294.7h1.0v1.0h-1.0zM41.2 298.4h1.0v1.0h-1.0zM40.7 297.6h1.0v1.0h-1.0zM42.5 295.3h1.0v1.0h-1.0zM35.5 292.5h1.0v1.0h-1.0zM42.3 295.0h1.0v1.0h-1.0zM35.3 294.3h1.0v1.0h-1.0zM37.2 293.2h1.0v1.0h-1.0zM37.7 295.4h1.0v1.0h-1.0zM36.8 294.2h1.0v1.0h-1.0zM38.7 295.9h1.0v1.0h-1.0zM39.0 298.3h1.0v1.0h-1.0zM39.7 290.1h1.0v1.0h-1.0zM36.9 294.8h1.0v1.0h-1.0zM41.1 292.1h1.0v1.0h-1.0zM36.3 296.5h1.0v1.0h-1.0zM37.5 300.9h1.0v1.0h-1.0zM37.2 300.8h1.0v1.0h-1.0zM33.9 291.3h1.0v1.0h-1.0zM42.5 299.0h1.0v1.0h-1.0zM40.2 297.9h1.0v1.0h-1.0zM40.1 293.4h1.0v1.0h-1.0zM41.6 295.7h1.0v1.0h-1.0zM41.8 297.8h1.0v1.0h-1.0zM32.3 293.1h1.0v1.0h-1.0zM42.2 297.0h1.0v1.0h-1.0zM37.3 298.3h1.0v1.0h-1.0zM37.2 295.6h1.0v1.0h-1.0zM38.9 298.0h1.0v1.0h-1.0zM43.5 297.7h1.0v1.0h-1.0zM44.6 303.6h1.0v1.0h-1.0zM44.1 301.1h1.0v1.0h-1.0zM39.0 298.0h1.0v1.0h-1.0zM38.1 295.0h1.0v1.0h-1.0zM38.4 295.3h1.0v1.0h-1.0zM43.8 299.3h1.0v1.0h-1.0zM37.2 291.0h1.0v1.0h-1.0zM38.4 296.1h1.0v1.0h-1.0zM35.1 293.6h1.0v1.0h-1.0zM31.4 299.4h1.0v1.0h-1.0zM38.4 306.3h1.0v1.0h-1.0zM38.5 297.0h1.0v1.0h-1.0zM43.2 298.0h1.0v1.0h-1.0zM39.1 296.2h1.0v1.0h-1.0zM36.7 302.6h1.0v1.0h-1.0zM41.8 303.3h1.0v1.0h-1.0zM37.5 297.6h1.0v1.0h-1.0zM35.8 300.8h1.0v1.0h-1.0zM34.1 299.4h1.0v1.0h-1.0zM42.1 302.3h1.0v1.0h-1.0zM35.6 301.2h1.0v1.0h-1.0zM36.3 294.9h1.0v1.0h-1.0zM34.4 301.4h1.0v1.0h-1.0zM43.9 295.5h1.0v1.0h-1.0zM36.2 296.3h1.0v1.0h-1.0zM46.6 300.9h1.0v1.0h-1.0zM36.9 291.4h1.0v1.0h-1.0zM36.4 301.5h1.0v1.0h-1.0zM44.6 296.6h1.0v1.0h-1.0zM36.4 295.8h1.0v1.0h-1.0zM32.6 300.6h1.0v1.0h-1.0zM35.1 301.1h1.0v1.0h-1.0zM33.1 293.2h1.0v1.0h-1.0zM39.5 294.9h1.0v1.0h-1.0zM41.1 297.5h1.0v1.0h-1.0zM34.8 299.6h1.0v1.0h-1.0zM41.3 291.0h1.0v1.0h-1.0zM44.4 299.2h1.0v1.0h-1.0zM41.0 291.2h1.0v1.0h-1.0zM36.3 296.3h1.0v1.0h-1.0zM42.0 292.5h1.0v1.0h-1.0zM35.8 290.6h1.0v1.0h-1.0zM37.8 298.7h1.0v1.0h-1.0zM33.2 295.5h1.0v1.0h-1.0zM40.2 302.9h1.0v1.0h-1.0zM40.7 296.5h1.0v1.0h-1.0zM34.8 294.3h1.0v1.0h-1.0zM36.5 298.0h1.0v1.0h-1.0zM38.4 303.2h1.0v1.0h-1.0zM39.5 293.9h1.0v1.0h-1.0zM43.5 300.7h1.0v1.0h-1.0zM38.9 295.0h1.0v1.0h-1.0zM32.6 294.0h1.0v1.0h-1.0zM41.5 294.8h1.0v1.0h-1.0zM34.4 298.2h1.0v1.0h-1.0zM39.4 299.6h1.0v1.0h-1.0zM40.7 302.3h1.0v1.0h-1.0zM35.9 300.8h1.0v1.0h-1.0zM35.4 299.9h1.0v1.0h-1.0zM39.2 298.3h1.0v1.0h-1.0zM41.7 297.4h1.0v1.0h-1.0zM42.2 300.5h1.0v1.0h-1.0zM39.0 295.6h1.0v1.0h-1.0zM36.2 295.7h1.0v1.0h-1.0zM38.0 297.4h1.0v1.0h-1.0zM48.1 299.7h1.0v1.0h-1.0zM41.1 294.6h1.0v1.0h-1.0zM36.3 296.4h1.0v1.0h-1.0z" fill="#000" fill-opacity="0.5"/>
<path d="M40.1 303.0h0.9v0.9h-0.9zM44.8 304.6h0.9v0.9h-0.9zM43.1 298.6h0.9v0.9h-0.9zM39.5 307.4h0.9v0.9h-0.9zM40.1 308.5h0.9v0.9h-0.9zM40.4 307.1h0.9v0.9h-0.9zM33.3 304.1h0.9v0.9h-0.9zM31.8 308.6h0.9v0.9h-0.9zM40.5 305.8h0.9v0.9h-0.9zM36.8 304.5h0.9v0.9h-0.9zM45.6 312.4h0.9v0.9h-0.9zM39.3 310.9h0.9v0.9h-0.9zM34.3 299.9h0.9v0.9h-0.9zM37.9 303.5h0.9v0.9h-0.9zM37.7 307.1h0.9v0.9h-0.9zM49.5 304.3h0.9v0.9h-0.9zM39.7 307.4h0.9v0.9h-0.9zM39.4 309.7h0.9v0.9h-0.9zM45.4 302.3h0.9v0.9h-0.9zM40.0 305.6h0.9v0.9h-0.9zM40.7 301.3h0.9v0.9h-0.9zM33.7 298.6h0.9v0.9h-0.9zM41.2 307.2h0.9v0.9h-0.9zM39.7 298.5h0.9v0.9h-0.9zM38.3 303.9h0.9v0.9h-0.9zM34.8 303.4h0.9v0.9h-0.9zM41.8 308.4h0.9v0.9h-0.9zM39.4 308.2h0.9v0.9h-0.9zM37.5 306.7h0.9v0.9h-0.9zM39.6 308.4h0.9v0.9h-0.9zM39.3 306.0h0.9v0.9h-0.9zM39.1 304.3h0.9v0.9h-0.9zM46.9 308.2h0.9v0.9h-0.9zM44.1 301.2h0.9v0.9h-0.9zM41.8 309.3h0.9v0.9h-0.9zM45.7 311.0h0.9v0.9h-0.9zM42.0 302.5h0.9v0.9h-0.9zM36.6 307.4h0.9v0.9h-0.9zM41.2 303.0h0.9v0.9h-0.9zM38.2 305.1h0.9v0.9h-0.9zM39.7 307.6h0.9v0.9h-0.9zM38.6 302.3h0.9v0.9h-0.9zM43.6 311.9h0.9v0.9h-0.9zM39.2 310.0h0.9v0.9h-0.9zM41.0 308.7h0.9v0.9h-0.9zM41.1 303.9h0.9v0.9h-0.9zM41.4 309.9h0.9v0.9h-0.9zM36.5 313.2h0.9v0.9h-0.9zM46.4 312.7h0.9v0.9h-0.9zM46.1 309.0h0.9v0.9h-0.9zM38.4 304.5h0.9v0.9h-0.9zM36.8 306.9h0.9v0.9h-0.9zM39.4 308.8h0.9v0.9h-0.9zM47.0 306.4h0.9v0.9h-0.9zM41.7 308.1h0.9v0.9h-0.9zM40.4 305.8h0.9v0.9h-0.9zM39.1 303.7h0.9v0.9h-0.9zM40.1 306.4h0.9v0.9h-0.9zM40.6 303.6h0.9v0.9h-0.9zM39.6 306.7h0.9v0.9h-0.9zM41.5 302.9h0.9v0.9h-0.9zM40.9 309.8h0.9v0.9h-0.9zM41.5 305.2h0.9v0.9h-0.9zM37.9 305.7h0.9v0.9h-0.9zM41.9 311.8h0.9v0.9h-0.9zM39.0 304.3h0.9v0.9h-0.9zM40.7 307.2h0.9v0.9h-0.9zM36.5 304.0h0.9v0.9h-0.9zM39.2 308.8h0.9v0.9h-0.9zM35.6 303.0h0.9v0.9h-0.9zM41.1 302.3h0.9v0.9h-0.9zM39.9 307.7h0.9v0.9h-0.9zM39.1 303.0h0.9v0.9h-0.9zM39.3 305.4h0.9v0.9h-0.9zM40.6 303.6h0.9v0.9h-0.9zM43.1 300.8h0.9v0.9h-0.9zM38.9 306.5h0.9v0.9h-0.9zM42.7 304.4h0.9v0.9h-0.9zM41.3 304.6h0.9v0.9h-0.9zM41.9 312.4h0.9v0.9h-0.9zM38.2 308.0h0.9v0.9h-0.9zM36.4 309.8h0.9v0.9h-0.9zM43.5 306.6h0.9v0.9h-0.9zM35.8 307.9h0.9v0.9h-0.9zM43.3 310.2h0.9v0.9h-0.9zM42.2 300.3h0.9v0.9h-0.9zM37.3 311.3h0.9v0.9h-0.9zM35.5 310.3h0.9v0.9h-0.9zM45.7 309.1h0.9v0.9h-0.9zM43.2 305.4h0.9v0.9h-0.9zM35.5 306.2h0.9v0.9h-0.9zM38.8 306.3h0.9v0.9h-0.9zM41.8 306.0h0.9v0.9h-0.9zM40.1 307.9h0.9v0.9h-0.9zM39.5 312.8h0.9v0.9h-0.9zM41.0 306.8h0.9v0.9h-0.9zM38.8 304.4h0.9v0.9h-0.9zM43.9 307.0h0.9v0.9h-0.9zM35.9 304.6h0.9v0.9h-0.9zM39.0 305.0h0.9v0.9h-0.9zM43.1 302.6h0.9v0.9h-0.9zM41.1 307.0h0.9v0.9h-0.9zM35.6 306.7h0.9v0.9h-0.9zM39.2 308.2h0.9v0.9h-0.9zM38.0 307.5h0.9v0.9h-0.9zM34.0 302.8h0.9v0.9h-0.9zM42.1 310.0h0.9v0.9h-0.9zM39.5 304.5h0.9v0.9h-0.9zM43.1 299.4h0.9v0.9h-0.9zM36.9 308.8h0.9v0.9h-0.9zM41.7 303.0h0.9v0.9h-0.9zM33.3 311.4h0.9v0.9h-0.9zM40.0 303.5h0.9v0.9h-0.9zM39.7 309.6h0.9v0.9h-0.9zM41.9 299.4h0.9v0.9h-0.9zM42.0 300.4h0.9v0.9h-0.9zM43.3 307.9h0.9v0.9h-0.9z" fill="#000" fill-opacity="0.35"/>
<line x1="46.2" y1="274.0" x2="46.2" y2="314.4" stroke="#8a8a8a" stroke-width="1"/>
<line x1="30.0" y1="302.4" x2="87.6" y2="302.4" stroke="#3a3a3a" stroke-width="1"/>
<line x1="30.0" y1="274.5" x2="87.6" y2="274.5" stroke="#8a8a8a" stroke-width="1"/>
<line x1="87.1" y1="274.0" x2="87.1" y2="314.4" stroke="#777" stroke-width="1"/>
<line x1="30.7" y1="274.0" x2="30.7" y2="315.0" stroke="#111" stroke-width="1.5"/>
<line x1="30.0" y1="313.7" x2="87.6" y2="313.7" stroke="#111" stroke-width="1.5"/>
<text transform="translate(15.78,280.40) scale(0.86,1.0)" font-size="7.9" fill="#111" stroke="#111" stroke-width="0.4">10</text>
<text transform="translate(23.86,276.90) scale(0.86,1)" font-size="6.00" fill="#111" stroke="#111" stroke-width="0.3">4</text>
<text transform="translate(15.78,289.70) scale(0.86,1.0)" font-size="7.9" fill="#111" stroke="#111" stroke-width="0.4">10</text>
<text transform="translate(23.78,286.20) scale(0.86,1)" font-size="6.00" fill="#111" stroke="#111" stroke-width="0.3">3</text>
<text transform="translate(15.78,299.70) scale(0.86,1.0)" font-size="7.9" fill="#111" stroke="#111" stroke-width="0.4">10</text>
<text transform="translate(23.71,296.20) scale(0.86,1)" font-size="6.00" fill="#111" stroke="#111" stroke-width="0.3">2</text>
<text transform="translate(15.78,309.80) scale(0.86,1.0)" font-size="7.9" fill="#111" stroke="#111" stroke-width="0.4">10</text>
<text transform="translate(23.58,306.30) scale(0.86,1)" font-size="6.00" fill="#111" stroke="#111" stroke-width="0.3">1</text>
<text transform="translate(15.78,319.60) scale(0.86,1.0)" font-size="7.9" fill="#111" stroke="#111" stroke-width="0.4">10</text>
<text transform="translate(23.77,316.10) scale(0.86,1)" font-size="6.00" fill="#111" stroke="#111" stroke-width="0.3">0</text>
<text transform="translate(20.18,326.80) scale(0.86,1.0)" font-size="7.9" fill="#111" stroke="#111" stroke-width="0.4">10</text>
<text transform="translate(28.17,323.30) scale(0.86,1)" font-size="6.00" fill="#111" stroke="#111" stroke-width="0.3">0</text>
<text transform="translate(35.28,326.80) scale(0.86,1.0)" font-size="7.9" fill="#111" stroke="#111" stroke-width="0.4">10</text>
<text transform="translate(43.08,323.30) scale(0.86,1)" font-size="6.00" fill="#111" stroke="#111" stroke-width="0.3">1</text>
<text transform="translate(48.38,326.80) scale(0.86,1.0)" font-size="7.9" fill="#111" stroke="#111" stroke-width="0.4">10</text>
<text transform="translate(56.31,323.30) scale(0.86,1)" font-size="6.00" fill="#111" stroke="#111" stroke-width="0.3">2</text>
<text transform="translate(62.78,326.80) scale(0.86,1.0)" font-size="7.9" fill="#111" stroke="#111" stroke-width="0.4">10</text>
<text transform="translate(70.78,323.30) scale(0.86,1)" font-size="6.00" fill="#111" stroke="#111" stroke-width="0.3">3</text>
<text transform="translate(75.88,326.80) scale(0.86,1.0)" font-size="7.9" fill="#111" stroke="#111" stroke-width="0.4">10</text>
<text transform="translate(83.96,323.30) scale(0.86,1)" font-size="6.00" fill="#111" stroke="#111" stroke-width="0.3">4</text>
<text transform="translate(32.43,286.00) scale(0.9879,1.0000)" font-size="8.6" font-weight="bold" font-style="normal" fill="#000" >79.4%</text>
<text transform="translate(66.61,290.80) scale(0.9855,1.0000)" font-size="8.6" font-weight="bold" font-style="normal" fill="#000" >2.1%</text>
<text transform="translate(66.21,311.20) scale(0.9026,1.0000)" font-size="8.6" font-weight="bold" font-style="normal" fill="#000" >1.4%</text>
<text transform="translate(11.03,314.41) rotate(-90) scale(0.9923,1.0000)" font-size="12.5" font-weight="bold" font-style="normal" fill="#000">CD62L</text>
<text transform="translate(37.80,341.60) scale(1.0518,1.0000)" font-size="12.3" font-weight="bold" font-style="normal" fill="#000" >4-1BB</text>
<path d="M196.6 268.3h1.0v1.0h-1.0zM188.5 273.8h1.0v1.0h-1.0zM186.2 268.0h1.0v1.0h-1.0zM187.2 270.1h1.0v1.0h-1.0zM184.6 271.9h1.0v1.0h-1.0zM190.5 270.5h1.0v1.0h-1.0zM194.6 269.2h1.0v1.0h-1.0zM193.2 268.5h1.0v1.0h-1.0zM191.2 263.9h1.0v1.0h-1.0zM189.2 269.7h1.0v1.0h-1.0zM186.7 268.3h1.0v1.0h-1.0zM187.2 267.9h1.0v1.0h-1.0zM180.6 268.3h1.0v1.0h-1.0zM186.5 268.6h1.0v1.0h-1.0zM184.7 269.9h1.0v1.0h-1.0zM191.3 269.5h1.0v1.0h-1.0zM186.7 274.8h1.0v1.0h-1.0zM192.0 273.3h1.0v1.0h-1.0zM192.7 269.2h1.0v1.0h-1.0zM188.0 274.0h1.0v1.0h-1.0zM186.5 269.9h1.0v1.0h-1.0zM189.9 271.5h1.0v1.0h-1.0zM187.5 273.5h1.0v1.0h-1.0zM187.9 272.7h1.0v1.0h-1.0zM192.4 272.5h1.0v1.0h-1.0zM191.1 266.5h1.0v1.0h-1.0zM183.8 268.3h1.0v1.0h-1.0zM190.2 275.3h1.0v1.0h-1.0zM184.1 271.3h1.0v1.0h-1.0zM185.4 267.9h1.0v1.0h-1.0zM187.5 272.6h1.0v1.0h-1.0zM189.3 274.2h1.0v1.0h-1.0zM185.0 273.2h1.0v1.0h-1.0zM191.8 270.5h1.0v1.0h-1.0zM190.2 268.4h1.0v1.0h-1.0zM184.6 269.0h1.0v1.0h-1.0zM186.8 275.7h1.0v1.0h-1.0zM189.2 271.3h1.0v1.0h-1.0zM191.2 267.7h1.0v1.0h-1.0zM191.8 271.5h1.0v1.0h-1.0zM183.0 272.3h1.0v1.0h-1.0zM190.5 271.8h1.0v1.0h-1.0zM194.2 268.9h1.0v1.0h-1.0zM190.3 272.8h1.0v1.0h-1.0zM185.3 274.3h1.0v1.0h-1.0zM183.3 266.0h1.0v1.0h-1.0zM190.4 266.7h1.0v1.0h-1.0zM188.1 264.9h1.0v1.0h-1.0zM188.7 266.6h1.0v1.0h-1.0zM189.7 265.2h1.0v1.0h-1.0zM190.1 269.4h1.0v1.0h-1.0zM188.7 270.1h1.0v1.0h-1.0zM189.0 265.9h1.0v1.0h-1.0zM179.3 270.4h1.0v1.0h-1.0zM185.1 268.8h1.0v1.0h-1.0zM190.0 263.7h1.0v1.0h-1.0zM185.8 268.3h1.0v1.0h-1.0zM184.7 271.4h1.0v1.0h-1.0zM188.0 267.6h1.0v1.0h-1.0zM185.0 273.0h1.0v1.0h-1.0zM186.1 272.2h1.0v1.0h-1.0zM190.1 264.1h1.0v1.0h-1.0zM184.6 270.3h1.0v1.0h-1.0zM189.7 272.9h1.0v1.0h-1.0zM191.4 273.7h1.0v1.0h-1.0zM187.2 269.6h1.0v1.0h-1.0zM191.3 268.9h1.0v1.0h-1.0zM192.3 265.1h1.0v1.0h-1.0zM190.9 269.7h1.0v1.0h-1.0zM181.4 273.5h1.0v1.0h-1.0zM189.6 270.4h1.0v1.0h-1.0zM184.6 268.8h1.0v1.0h-1.0zM193.9 267.6h1.0v1.0h-1.0zM176.0 267.5h1.0v1.0h-1.0zM184.2 269.9h1.0v1.0h-1.0zM187.1 267.3h1.0v1.0h-1.0zM185.5 273.8h1.0v1.0h-1.0zM183.3 276.8h1.0v1.0h-1.0zM186.5 266.7h1.0v1.0h-1.0zM191.3 272.2h1.0v1.0h-1.0zM184.7 272.8h1.0v1.0h-1.0zM181.9 267.3h1.0v1.0h-1.0zM192.6 269.5h1.0v1.0h-1.0zM183.8 272.0h1.0v1.0h-1.0zM191.8 270.2h1.0v1.0h-1.0zM182.0 269.2h1.0v1.0h-1.0zM190.0 272.8h1.0v1.0h-1.0zM195.2 269.5h1.0v1.0h-1.0zM186.8 270.2h1.0v1.0h-1.0zM192.8 267.2h1.0v1.0h-1.0zM193.2 261.2h1.0v1.0h-1.0zM191.4 268.1h1.0v1.0h-1.0zM190.2 272.6h1.0v1.0h-1.0zM184.2 270.0h1.0v1.0h-1.0zM189.4 272.2h1.0v1.0h-1.0zM185.2 267.0h1.0v1.0h-1.0zM187.8 269.6h1.0v1.0h-1.0zM183.1 273.4h1.0v1.0h-1.0zM186.6 275.0h1.0v1.0h-1.0zM191.6 270.4h1.0v1.0h-1.0zM191.1 266.6h1.0v1.0h-1.0zM187.3 268.4h1.0v1.0h-1.0zM183.9 270.4h1.0v1.0h-1.0zM188.0 275.0h1.0v1.0h-1.0zM176.4 268.1h1.0v1.0h-1.0zM185.2 268.8h1.0v1.0h-1.0zM190.0 271.6h1.0v1.0h-1.0zM188.6 268.7h1.0v1.0h-1.0zM190.3 271.5h1.0v1.0h-1.0zM181.9 269.4h1.0v1.0h-1.0zM183.6 266.4h1.0v1.0h-1.0zM189.0 270.5h1.0v1.0h-1.0zM188.9 267.4h1.0v1.0h-1.0zM187.8 267.3h1.0v1.0h-1.0zM189.9 272.6h1.0v1.0h-1.0zM194.8 274.5h1.0v1.0h-1.0zM185.6 268.8h1.0v1.0h-1.0zM185.1 271.3h1.0v1.0h-1.0zM195.6 272.6h1.0v1.0h-1.0zM180.6 266.2h1.0v1.0h-1.0zM183.8 272.0h1.0v1.0h-1.0zM188.5 271.3h1.0v1.0h-1.0zM194.9 267.6h1.0v1.0h-1.0zM185.4 276.8h1.0v1.0h-1.0zM189.7 267.7h1.0v1.0h-1.0zM181.2 265.3h1.0v1.0h-1.0zM179.7 270.5h1.0v1.0h-1.0zM188.7 273.6h1.0v1.0h-1.0zM188.0 268.0h1.0v1.0h-1.0zM185.8 276.6h1.0v1.0h-1.0zM182.1 270.9h1.0v1.0h-1.0zM188.6 272.3h1.0v1.0h-1.0zM187.0 271.9h1.0v1.0h-1.0zM191.4 269.8h1.0v1.0h-1.0zM186.9 269.7h1.0v1.0h-1.0zM185.0 269.6h1.0v1.0h-1.0zM187.4 271.0h1.0v1.0h-1.0zM193.3 274.6h1.0v1.0h-1.0zM186.9 272.3h1.0v1.0h-1.0zM189.6 272.8h1.0v1.0h-1.0zM188.6 271.2h1.0v1.0h-1.0zM186.8 267.7h1.0v1.0h-1.0zM191.6 274.6h1.0v1.0h-1.0zM190.9 271.7h1.0v1.0h-1.0zM189.5 268.8h1.0v1.0h-1.0zM182.1 272.5h1.0v1.0h-1.0zM189.2 268.5h1.0v1.0h-1.0zM185.0 274.5h1.0v1.0h-1.0zM182.0 276.1h1.0v1.0h-1.0zM190.8 278.1h1.0v1.0h-1.0zM185.9 270.2h1.0v1.0h-1.0zM186.7 270.8h1.0v1.0h-1.0zM187.7 267.8h1.0v1.0h-1.0zM192.4 267.7h1.0v1.0h-1.0zM186.7 272.1h1.0v1.0h-1.0zM186.6 268.9h1.0v1.0h-1.0zM189.8 269.1h1.0v1.0h-1.0zM184.0 270.0h1.0v1.0h-1.0zM187.7 275.9h1.0v1.0h-1.0zM184.6 273.5h1.0v1.0h-1.0zM185.7 269.1h1.0v1.0h-1.0zM187.3 271.2h1.0v1.0h-1.0zM191.6 276.1h1.0v1.0h-1.0zM186.2 274.7h1.0v1.0h-1.0zM192.1 273.0h1.0v1.0h-1.0zM185.8 273.3h1.0v1.0h-1.0zM188.1 271.5h1.0v1.0h-1.0zM187.5 272.5h1.0v1.0h-1.0zM192.5 274.0h1.0v1.0h-1.0zM187.8 273.6h1.0v1.0h-1.0zM193.7 267.2h1.0v1.0h-1.0zM193.8 265.9h1.0v1.0h-1.0zM190.5 272.3h1.0v1.0h-1.0zM193.8 271.2h1.0v1.0h-1.0zM186.8 267.7h1.0v1.0h-1.0zM184.0 272.8h1.0v1.0h-1.0zM187.6 267.9h1.0v1.0h-1.0zM190.4 267.8h1.0v1.0h-1.0zM186.9 268.8h1.0v1.0h-1.0zM194.5 275.1h1.0v1.0h-1.0zM187.9 265.1h1.0v1.0h-1.0zM189.5 270.5h1.0v1.0h-1.0zM189.8 272.2h1.0v1.0h-1.0zM187.3 273.4h1.0v1.0h-1.0zM191.5 271.0h1.0v1.0h-1.0zM187.0 268.7h1.0v1.0h-1.0zM191.0 266.7h1.0v1.0h-1.0zM187.9 267.8h1.0v1.0h-1.0zM183.5 272.3h1.0v1.0h-1.0zM188.4 270.4h1.0v1.0h-1.0zM191.6 265.4h1.0v1.0h-1.0zM188.3 271.3h1.0v1.0h-1.0zM191.5 266.7h1.0v1.0h-1.0zM191.1 271.0h1.0v1.0h-1.0zM193.4 274.1h1.0v1.0h-1.0zM190.5 277.4h1.0v1.0h-1.0zM188.5 268.9h1.0v1.0h-1.0zM187.3 267.2h1.0v1.0h-1.0zM188.4 264.1h1.0v1.0h-1.0zM188.2 271.7h1.0v1.0h-1.0zM192.1 269.2h1.0v1.0h-1.0zM193.5 268.2h1.0v1.0h-1.0zM188.0 264.1h1.0v1.0h-1.0zM185.8 267.7h1.0v1.0h-1.0zM193.8 272.0h1.0v1.0h-1.0zM184.6 272.0h1.0v1.0h-1.0zM190.2 269.5h1.0v1.0h-1.0zM188.6 269.3h1.0v1.0h-1.0zM186.6 264.6h1.0v1.0h-1.0zM188.2 274.4h1.0v1.0h-1.0zM193.5 269.4h1.0v1.0h-1.0zM185.9 269.6h1.0v1.0h-1.0zM191.7 271.4h1.0v1.0h-1.0zM186.4 271.5h1.0v1.0h-1.0zM187.8 272.0h1.0v1.0h-1.0zM187.1 265.6h1.0v1.0h-1.0zM188.7 272.7h1.0v1.0h-1.0zM184.6 270.0h1.0v1.0h-1.0zM191.6 269.1h1.0v1.0h-1.0zM186.2 276.8h1.0v1.0h-1.0zM191.4 273.6h1.0v1.0h-1.0zM185.2 275.5h1.0v1.0h-1.0zM182.7 268.6h1.0v1.0h-1.0zM191.1 274.6h1.0v1.0h-1.0zM185.2 268.2h1.0v1.0h-1.0zM189.2 264.1h1.0v1.0h-1.0zM190.7 272.1h1.0v1.0h-1.0zM186.9 272.0h1.0v1.0h-1.0zM191.2 271.3h1.0v1.0h-1.0zM190.3 275.2h1.0v1.0h-1.0zM186.8 270.8h1.0v1.0h-1.0zM186.7 273.6h1.0v1.0h-1.0zM187.1 271.8h1.0v1.0h-1.0zM189.0 270.5h1.0v1.0h-1.0zM194.5 270.0h1.0v1.0h-1.0zM193.4 272.9h1.0v1.0h-1.0zM193.1 269.8h1.0v1.0h-1.0zM191.7 272.7h1.0v1.0h-1.0zM186.4 271.2h1.0v1.0h-1.0zM188.1 270.2h1.0v1.0h-1.0zM193.0 268.0h1.0v1.0h-1.0zM182.6 264.7h1.0v1.0h-1.0zM186.9 268.2h1.0v1.0h-1.0zM188.5 272.1h1.0v1.0h-1.0zM194.6 271.3h1.0v1.0h-1.0zM190.1 268.0h1.0v1.0h-1.0zM190.5 274.6h1.0v1.0h-1.0zM193.2 264.1h1.0v1.0h-1.0zM191.6 275.3h1.0v1.0h-1.0zM191.4 265.5h1.0v1.0h-1.0zM187.4 272.2h1.0v1.0h-1.0zM189.9 267.7h1.0v1.0h-1.0zM185.4 273.4h1.0v1.0h-1.0zM183.9 274.9h1.0v1.0h-1.0zM188.6 271.3h1.0v1.0h-1.0zM183.9 268.4h1.0v1.0h-1.0zM190.9 265.6h1.0v1.0h-1.0zM195.7 265.8h1.0v1.0h-1.0zM184.3 270.4h1.0v1.0h-1.0zM190.2 272.6h1.0v1.0h-1.0zM187.2 269.6h1.0v1.0h-1.0zM187.7 268.5h1.0v1.0h-1.0zM179.6 273.4h1.0v1.0h-1.0zM189.4 270.8h1.0v1.0h-1.0zM186.3 271.1h1.0v1.0h-1.0zM188.5 270.1h1.0v1.0h-1.0zM192.3 264.8h1.0v1.0h-1.0zM189.4 266.9h1.0v1.0h-1.0zM187.4 275.1h1.0v1.0h-1.0zM184.8 270.0h1.0v1.0h-1.0zM186.5 273.3h1.0v1.0h-1.0zM185.1 265.0h1.0v1.0h-1.0zM190.3 269.2h1.0v1.0h-1.0zM187.4 273.7h1.0v1.0h-1.0zM185.4 269.1h1.0v1.0h-1.0zM189.0 271.6h1.0v1.0h-1.0zM186.7 273.6h1.0v1.0h-1.0zM196.2 269.0h1.0v1.0h-1.0zM195.0 263.6h1.0v1.0h-1.0zM193.4 269.2h1.0v1.0h-1.0zM189.0 269.2h1.0v1.0h-1.0zM186.3 266.3h1.0v1.0h-1.0zM187.1 274.4h1.0v1.0h-1.0zM192.4 269.2h1.0v1.0h-1.0zM186.7 268.1h1.0v1.0h-1.0zM184.4 276.0h1.0v1.0h-1.0zM190.8 270.7h1.0v1.0h-1.0zM186.8 267.1h1.0v1.0h-1.0zM193.1 272.8h1.0v1.0h-1.0zM185.2 273.4h1.0v1.0h-1.0zM184.7 272.3h1.0v1.0h-1.0zM185.2 269.0h1.0v1.0h-1.0zM190.2 271.7h1.0v1.0h-1.0zM192.0 267.6h1.0v1.0h-1.0zM194.0 274.6h1.0v1.0h-1.0zM188.5 271.8h1.0v1.0h-1.0zM185.8 269.8h1.0v1.0h-1.0zM183.9 270.6h1.0v1.0h-1.0zM189.2 274.6h1.0v1.0h-1.0zM191.8 272.9h1.0v1.0h-1.0zM187.2 269.6h1.0v1.0h-1.0zM187.3 271.0h1.0v1.0h-1.0zM181.8 272.7h1.0v1.0h-1.0zM183.1 268.7h1.0v1.0h-1.0zM188.6 268.7h1.0v1.0h-1.0zM194.2 270.0h1.0v1.0h-1.0zM193.9 274.0h1.0v1.0h-1.0zM186.8 271.6h1.0v1.0h-1.0zM193.0 269.2h1.0v1.0h-1.0zM188.8 268.5h1.0v1.0h-1.0zM188.7 269.2h1.0v1.0h-1.0zM188.8 273.5h1.0v1.0h-1.0zM193.3 270.7h1.0v1.0h-1.0zM189.2 273.0h1.0v1.0h-1.0zM187.5 266.9h1.0v1.0h-1.0zM192.3 267.3h1.0v1.0h-1.0zM191.7 267.2h1.0v1.0h-1.0zM194.8 267.0h1.0v1.0h-1.0zM191.4 275.1h1.0v1.0h-1.0zM185.2 275.0h1.0v1.0h-1.0zM185.7 264.7h1.0v1.0h-1.0zM191.0 272.5h1.0v1.0h-1.0zM187.8 262.3h1.0v1.0h-1.0zM188.3 269.3h1.0v1.0h-1.0zM187.2 269.4h1.0v1.0h-1.0zM182.3 268.5h1.0v1.0h-1.0zM194.7 275.2h1.0v1.0h-1.0zM187.3 268.0h1.0v1.0h-1.0zM189.9 273.7h1.0v1.0h-1.0zM191.0 266.6h1.0v1.0h-1.0zM189.1 270.7h1.0v1.0h-1.0zM193.5 274.1h1.0v1.0h-1.0zM190.3 274.2h1.0v1.0h-1.0zM187.1 275.2h1.0v1.0h-1.0zM187.0 271.6h1.0v1.0h-1.0zM191.7 267.4h1.0v1.0h-1.0zM186.1 264.7h1.0v1.0h-1.0zM189.1 270.1h1.0v1.0h-1.0zM187.4 271.9h1.0v1.0h-1.0zM181.2 270.2h1.0v1.0h-1.0zM188.8 269.5h1.0v1.0h-1.0zM191.2 275.9h1.0v1.0h-1.0zM187.0 267.3h1.0v1.0h-1.0zM186.4 270.6h1.0v1.0h-1.0zM190.5 267.6h1.0v1.0h-1.0zM192.0 267.1h1.0v1.0h-1.0zM191.4 271.7h1.0v1.0h-1.0zM190.1 277.1h1.0v1.0h-1.0zM187.6 269.8h1.0v1.0h-1.0zM190.1 273.0h1.0v1.0h-1.0zM183.9 271.2h1.0v1.0h-1.0zM185.9 272.3h1.0v1.0h-1.0zM193.2 270.5h1.0v1.0h-1.0zM188.1 270.9h1.0v1.0h-1.0zM178.3 272.7h1.0v1.0h-1.0zM190.4 270.8h1.0v1.0h-1.0zM187.1 268.0h1.0v1.0h-1.0zM187.9 274.1h1.0v1.0h-1.0zM188.1 274.6h1.0v1.0h-1.0zM179.6 268.8h1.0v1.0h-1.0zM189.4 270.3h1.0v1.0h-1.0zM182.8 268.2h1.0v1.0h-1.0zM192.8 266.2h1.0v1.0h-1.0zM185.1 266.8h1.0v1.0h-1.0zM186.6 272.3h1.0v1.0h-1.0zM190.6 263.9h1.0v1.0h-1.0zM193.5 268.4h1.0v1.0h-1.0zM186.5 275.6h1.0v1.0h-1.0zM188.2 266.4h1.0v1.0h-1.0zM186.3 268.0h1.0v1.0h-1.0zM185.0 269.2h1.0v1.0h-1.0zM191.5 271.4h1.0v1.0h-1.0zM185.1 270.7h1.0v1.0h-1.0zM188.6 272.7h1.0v1.0h-1.0zM187.4 271.7h1.0v1.0h-1.0zM195.8 270.6h1.0v1.0h-1.0zM184.8 271.3h1.0v1.0h-1.0zM185.7 269.1h1.0v1.0h-1.0zM189.2 271.4h1.0v1.0h-1.0zM187.5 273.0h1.0v1.0h-1.0zM187.8 266.2h1.0v1.0h-1.0zM191.5 269.1h1.0v1.0h-1.0zM192.7 268.2h1.0v1.0h-1.0zM190.5 271.3h1.0v1.0h-1.0zM179.2 265.6h1.0v1.0h-1.0zM184.6 274.8h1.0v1.0h-1.0zM182.0 273.2h1.0v1.0h-1.0zM192.3 271.9h1.0v1.0h-1.0zM190.8 268.7h1.0v1.0h-1.0zM188.5 271.0h1.0v1.0h-1.0zM190.0 272.5h1.0v1.0h-1.0zM187.8 268.1h1.0v1.0h-1.0zM186.6 271.6h1.0v1.0h-1.0zM182.8 266.3h1.0v1.0h-1.0zM187.1 268.5h1.0v1.0h-1.0zM187.6 261.9h1.0v1.0h-1.0zM187.3 269.5h1.0v1.0h-1.0zM191.2 264.0h1.0v1.0h-1.0zM187.4 271.8h1.0v1.0h-1.0zM190.2 274.1h1.0v1.0h-1.0zM192.1 267.0h1.0v1.0h-1.0zM190.7 269.2h1.0v1.0h-1.0zM185.7 275.2h1.0v1.0h-1.0zM186.3 267.6h1.0v1.0h-1.0zM187.1 267.6h1.0v1.0h-1.0zM192.0 271.5h1.0v1.0h-1.0zM193.3 271.6h1.0v1.0h-1.0zM186.4 273.6h1.0v1.0h-1.0zM186.2 268.8h1.0v1.0h-1.0zM187.9 270.4h1.0v1.0h-1.0zM192.6 268.4h1.0v1.0h-1.0zM189.7 270.2h1.0v1.0h-1.0zM184.1 266.8h1.0v1.0h-1.0zM187.7 271.6h1.0v1.0h-1.0zM189.6 271.8h1.0v1.0h-1.0zM188.7 268.9h1.0v1.0h-1.0zM190.0 267.1h1.0v1.0h-1.0zM183.8 269.2h1.0v1.0h-1.0zM183.5 268.7h1.0v1.0h-1.0zM185.9 268.5h1.0v1.0h-1.0zM188.3 267.8h1.0v1.0h-1.0zM187.0 264.9h1.0v1.0h-1.0zM189.0 267.5h1.0v1.0h-1.0zM189.9 261.3h1.0v1.0h-1.0zM185.7 271.1h1.0v1.0h-1.0zM180.0 269.2h1.0v1.0h-1.0zM188.8 270.6h1.0v1.0h-1.0zM183.3 271.0h1.0v1.0h-1.0zM189.0 267.2h1.0v1.0h-1.0zM191.1 270.1h1.0v1.0h-1.0zM188.6 268.9h1.0v1.0h-1.0zM190.4 270.6h1.0v1.0h-1.0zM192.4 271.7h1.0v1.0h-1.0zM186.4 269.6h1.0v1.0h-1.0zM191.7 269.1h1.0v1.0h-1.0zM189.8 272.0h1.0v1.0h-1.0zM187.9 262.9h1.0v1.0h-1.0zM189.0 271.0h1.0v1.0h-1.0zM189.0 267.9h1.0v1.0h-1.0zM192.7 269.9h1.0v1.0h-1.0zM186.3 268.0h1.0v1.0h-1.0zM189.7 266.8h1.0v1.0h-1.0zM185.0 276.7h1.0v1.0h-1.0zM193.1 273.7h1.0v1.0h-1.0zM193.3 272.2h1.0v1.0h-1.0zM182.6 274.1h1.0v1.0h-1.0zM192.8 271.9h1.0v1.0h-1.0zM181.7 274.3h1.0v1.0h-1.0zM193.3 268.7h1.0v1.0h-1.0zM188.9 272.8h1.0v1.0h-1.0zM188.2 273.8h1.0v1.0h-1.0zM188.8 272.5h1.0v1.0h-1.0zM188.8 265.6h1.0v1.0h-1.0zM189.5 274.5h1.0v1.0h-1.0zM192.5 275.8h1.0v1.0h-1.0zM190.4 268.4h1.0v1.0h-1.0zM188.6 264.2h1.0v1.0h-1.0zM187.8 273.2h1.0v1.0h-1.0zM181.0 270.9h1.0v1.0h-1.0zM191.4 274.5h1.0v1.0h-1.0zM185.3 268.2h1.0v1.0h-1.0zM181.9 267.0h1.0v1.0h-1.0zM190.4 276.9h1.0v1.0h-1.0zM184.5 274.7h1.0v1.0h-1.0zM190.0 268.7h1.0v1.0h-1.0zM196.2 262.2h1.0v1.0h-1.0zM188.3 271.0h1.0v1.0h-1.0zM195.9 276.1h1.0v1.0h-1.0zM196.4 270.7h1.0v1.0h-1.0zM191.9 274.7h1.0v1.0h-1.0zM190.3 271.5h1.0v1.0h-1.0zM187.9 269.0h1.0v1.0h-1.0zM184.2 276.6h1.0v1.0h-1.0zM186.9 263.6h1.0v1.0h-1.0zM189.4 270.2h1.0v1.0h-1.0zM189.1 276.1h1.0v1.0h-1.0zM188.1 269.4h1.0v1.0h-1.0zM185.9 270.2h1.0v1.0h-1.0zM187.0 271.0h1.0v1.0h-1.0zM199.4 271.6h1.0v1.0h-1.0zM185.5 276.5h1.0v1.0h-1.0zM191.5 272.9h1.0v1.0h-1.0zM191.0 272.9h1.0v1.0h-1.0zM190.9 274.8h1.0v1.0h-1.0zM192.0 274.6h1.0v1.0h-1.0zM186.7 270.3h1.0v1.0h-1.0zM185.9 273.4h1.0v1.0h-1.0zM191.4 268.8h1.0v1.0h-1.0zM192.8 266.7h1.0v1.0h-1.0zM188.2 272.3h1.0v1.0h-1.0zM188.4 271.5h1.0v1.0h-1.0zM192.6 271.4h1.0v1.0h-1.0zM184.7 272.6h1.0v1.0h-1.0zM188.2 270.7h1.0v1.0h-1.0zM186.5 265.9h1.0v1.0h-1.0zM184.1 269.2h1.0v1.0h-1.0zM184.8 261.6h1.0v1.0h-1.0zM192.5 266.6h1.0v1.0h-1.0zM186.0 272.0h1.0v1.0h-1.0zM180.0 274.6h1.0v1.0h-1.0zM185.8 272.4h1.0v1.0h-1.0zM186.8 271.3h1.0v1.0h-1.0zM188.9 270.3h1.0v1.0h-1.0zM182.1 265.6h1.0v1.0h-1.0zM188.4 274.8h1.0v1.0h-1.0zM186.6 272.0h1.0v1.0h-1.0zM189.1 271.9h1.0v1.0h-1.0zM192.0 265.5h1.0v1.0h-1.0zM189.5 269.7h1.0v1.0h-1.0zM187.4 267.6h1.0v1.0h-1.0zM185.7 267.0h1.0v1.0h-1.0zM184.6 278.4h1.0v1.0h-1.0zM194.5 270.3h1.0v1.0h-1.0zM191.1 267.2h1.0v1.0h-1.0zM178.7 264.4h1.0v1.0h-1.0zM189.0 274.9h1.0v1.0h-1.0zM188.4 267.1h1.0v1.0h-1.0zM187.7 267.1h1.0v1.0h-1.0zM183.6 269.6h1.0v1.0h-1.0zM187.1 267.7h1.0v1.0h-1.0zM185.4 267.3h1.0v1.0h-1.0zM189.3 274.8h1.0v1.0h-1.0zM187.8 277.5h1.0v1.0h-1.0zM182.8 271.2h1.0v1.0h-1.0zM184.4 269.8h1.0v1.0h-1.0zM188.9 272.1h1.0v1.0h-1.0zM192.5 268.5h1.0v1.0h-1.0zM184.1 269.7h1.0v1.0h-1.0zM189.5 268.1h1.0v1.0h-1.0zM191.6 275.7h1.0v1.0h-1.0zM183.5 271.5h1.0v1.0h-1.0zM192.1 264.1h1.0v1.0h-1.0zM189.2 269.6h1.0v1.0h-1.0zM183.5 274.5h1.0v1.0h-1.0zM189.3 268.8h1.0v1.0h-1.0zM190.1 272.4h1.0v1.0h-1.0zM191.2 272.2h1.0v1.0h-1.0zM189.9 266.5h1.0v1.0h-1.0zM187.0 270.7h1.0v1.0h-1.0zM178.8 277.2h1.0v1.0h-1.0zM187.2 266.9h1.0v1.0h-1.0zM182.1 271.1h1.0v1.0h-1.0zM188.6 268.4h1.0v1.0h-1.0zM187.0 267.4h1.0v1.0h-1.0zM185.9 270.0h1.0v1.0h-1.0zM186.2 272.5h1.0v1.0h-1.0zM188.0 270.7h1.0v1.0h-1.0zM189.9 274.4h1.0v1.0h-1.0zM190.6 271.0h1.0v1.0h-1.0zM187.9 267.7h1.0v1.0h-1.0zM187.3 272.5h1.0v1.0h-1.0zM189.3 269.1h1.0v1.0h-1.0zM183.8 265.4h1.0v1.0h-1.0zM189.6 273.6h1.0v1.0h-1.0zM189.8 265.9h1.0v1.0h-1.0zM187.8 271.0h1.0v1.0h-1.0zM185.3 271.4h1.0v1.0h-1.0zM187.8 267.6h1.0v1.0h-1.0zM184.1 272.9h1.0v1.0h-1.0zM189.8 267.4h1.0v1.0h-1.0zM184.9 273.2h1.0v1.0h-1.0zM190.6 269.3h1.0v1.0h-1.0zM194.1 269.4h1.0v1.0h-1.0zM184.8 273.8h1.0v1.0h-1.0zM187.8 271.4h1.0v1.0h-1.0zM188.6 267.1h1.0v1.0h-1.0zM184.3 269.7h1.0v1.0h-1.0zM193.4 267.1h1.0v1.0h-1.0zM193.3 271.0h1.0v1.0h-1.0zM184.6 271.2h1.0v1.0h-1.0zM190.5 267.4h1.0v1.0h-1.0zM181.0 271.4h1.0v1.0h-1.0zM184.6 271.7h1.0v1.0h-1.0zM181.8 269.8h1.0v1.0h-1.0zM185.7 265.5h1.0v1.0h-1.0zM187.7 270.9h1.0v1.0h-1.0zM186.5 266.5h1.0v1.0h-1.0zM189.2 264.7h1.0v1.0h-1.0zM190.4 271.9h1.0v1.0h-1.0zM194.4 273.1h1.0v1.0h-1.0zM189.7 271.1h1.0v1.0h-1.0zM188.6 266.0h1.0v1.0h-1.0zM193.6 272.0h1.0v1.0h-1.0zM187.5 266.6h1.0v1.0h-1.0zM193.7 272.0h1.0v1.0h-1.0zM184.4 272.5h1.0v1.0h-1.0zM195.1 270.2h1.0v1.0h-1.0zM189.9 269.0h1.0v1.0h-1.0zM186.3 273.7h1.0v1.0h-1.0zM199.3 270.7h1.0v1.0h-1.0zM188.1 272.8h1.0v1.0h-1.0zM187.4 272.6h1.0v1.0h-1.0zM191.4 267.0h1.0v1.0h-1.0zM184.8 270.1h1.0v1.0h-1.0zM191.4 271.2h1.0v1.0h-1.0zM192.8 265.9h1.0v1.0h-1.0zM190.2 268.3h1.0v1.0h-1.0zM188.8 271.3h1.0v1.0h-1.0zM185.1 269.6h1.0v1.0h-1.0zM184.4 271.2h1.0v1.0h-1.0zM185.5 268.7h1.0v1.0h-1.0zM189.3 268.2h1.0v1.0h-1.0zM192.5 268.3h1.0v1.0h-1.0zM191.5 271.2h1.0v1.0h-1.0zM184.9 269.6h1.0v1.0h-1.0zM185.6 269.1h1.0v1.0h-1.0zM187.6 276.1h1.0v1.0h-1.0zM187.0 275.3h1.0v1.0h-1.0zM190.1 266.1h1.0v1.0h-1.0zM180.4 272.5h1.0v1.0h-1.0zM181.6 272.6h1.0v1.0h-1.0zM192.1 271.5h1.0v1.0h-1.0zM187.8 269.5h1.0v1.0h-1.0zM189.4 269.3h1.0v1.0h-1.0zM186.6 269.1h1.0v1.0h-1.0zM192.6 268.3h1.0v1.0h-1.0zM189.8 266.6h1.0v1.0h-1.0zM186.0 265.9h1.0v1.0h-1.0zM187.8 272.5h1.0v1.0h-1.0zM189.6 268.7h1.0v1.0h-1.0zM190.6 269.2h1.0v1.0h-1.0zM189.8 271.2h1.0v1.0h-1.0zM190.4 262.4h1.0v1.0h-1.0zM184.0 272.8h1.0v1.0h-1.0zM188.1 277.5h1.0v1.0h-1.0zM187.7 268.5h1.0v1.0h-1.0zM193.7 272.1h1.0v1.0h-1.0zM195.1 271.9h1.0v1.0h-1.0zM187.8 272.6h1.0v1.0h-1.0zM185.8 268.9h1.0v1.0h-1.0zM186.6 269.6h1.0v1.0h-1.0zM191.2 268.8h1.0v1.0h-1.0zM189.6 268.7h1.0v1.0h-1.0zM191.6 261.5h1.0v1.0h-1.0zM187.8 270.8h1.0v1.0h-1.0zM184.7 273.5h1.0v1.0h-1.0zM189.3 274.4h1.0v1.0h-1.0zM191.8 272.3h1.0v1.0h-1.0zM188.0 266.8h1.0v1.0h-1.0zM187.7 268.8h1.0v1.0h-1.0zM189.4 268.8h1.0v1.0h-1.0zM199.1 265.2h1.0v1.0h-1.0zM192.6 268.8h1.0v1.0h-1.0zM187.7 273.3h1.0v1.0h-1.0zM188.5 266.4h1.0v1.0h-1.0zM189.9 269.7h1.0v1.0h-1.0zM181.3 270.9h1.0v1.0h-1.0zM184.8 267.9h1.0v1.0h-1.0zM190.2 271.3h1.0v1.0h-1.0zM187.5 277.2h1.0v1.0h-1.0zM190.0 268.3h1.0v1.0h-1.0zM189.3 269.9h1.0v1.0h-1.0zM180.8 265.3h1.0v1.0h-1.0zM183.7 276.9h1.0v1.0h-1.0zM187.9 269.4h1.0v1.0h-1.0zM186.5 273.4h1.0v1.0h-1.0zM188.6 275.7h1.0v1.0h-1.0zM191.2 275.5h1.0v1.0h-1.0zM188.1 271.5h1.0v1.0h-1.0zM187.0 269.8h1.0v1.0h-1.0zM182.5 268.4h1.0v1.0h-1.0zM185.2 268.2h1.0v1.0h-1.0zM192.7 271.1h1.0v1.0h-1.0zM192.8 273.0h1.0v1.0h-1.0zM191.7 273.5h1.0v1.0h-1.0zM186.4 272.9h1.0v1.0h-1.0zM187.4 268.6h1.0v1.0h-1.0zM192.6 277.2h1.0v1.0h-1.0zM185.1 275.8h1.0v1.0h-1.0zM191.4 267.6h1.0v1.0h-1.0zM189.4 271.5h1.0v1.0h-1.0zM189.8 269.2h1.0v1.0h-1.0zM184.0 270.4h1.0v1.0h-1.0zM191.5 272.8h1.0v1.0h-1.0zM190.8 273.8h1.0v1.0h-1.0zM185.1 270.2h1.0v1.0h-1.0zM189.7 273.5h1.0v1.0h-1.0zM189.0 271.9h1.0v1.0h-1.0zM189.0 277.0h1.0v1.0h-1.0zM180.9 270.2h1.0v1.0h-1.0zM197.1 271.0h1.0v1.0h-1.0zM182.1 270.7h1.0v1.0h-1.0zM183.5 268.1h1.0v1.0h-1.0zM189.3 275.7h1.0v1.0h-1.0zM190.1 272.4h1.0v1.0h-1.0zM192.0 270.9h1.0v1.0h-1.0zM185.5 270.0h1.0v1.0h-1.0zM189.7 269.4h1.0v1.0h-1.0zM186.2 269.2h1.0v1.0h-1.0zM183.3 267.0h1.0v1.0h-1.0zM188.2 269.2h1.0v1.0h-1.0zM188.6 274.8h1.0v1.0h-1.0zM189.5 270.2h1.0v1.0h-1.0zM184.4 266.9h1.0v1.0h-1.0zM189.8 267.5h1.0v1.0h-1.0zM190.0 266.9h1.0v1.0h-1.0zM189.0 270.1h1.0v1.0h-1.0zM192.0 269.1h1.0v1.0h-1.0zM187.2 271.1h1.0v1.0h-1.0zM188.7 275.7h1.0v1.0h-1.0zM187.6 268.6h1.0v1.0h-1.0zM187.4 271.8h1.0v1.0h-1.0zM189.3 272.5h1.0v1.0h-1.0zM183.7 278.2h1.0v1.0h-1.0zM194.9 270.2h1.0v1.0h-1.0zM184.3 270.8h1.0v1.0h-1.0zM189.9 263.2h1.0v1.0h-1.0zM188.5 265.6h1.0v1.0h-1.0zM190.1 274.7h1.0v1.0h-1.0zM192.1 265.5h1.0v1.0h-1.0zM193.3 273.2h1.0v1.0h-1.0zM187.2 271.9h1.0v1.0h-1.0zM193.8 269.2h1.0v1.0h-1.0zM188.4 268.5h1.0v1.0h-1.0zM192.5 263.5h1.0v1.0h-1.0zM193.4 267.2h1.0v1.0h-1.0zM191.7 265.1h1.0v1.0h-1.0zM185.3 268.4h1.0v1.0h-1.0zM191.4 265.2h1.0v1.0h-1.0zM190.6 268.3h1.0v1.0h-1.0zM192.8 269.3h1.0v1.0h-1.0zM190.2 269.8h1.0v1.0h-1.0zM194.7 269.2h1.0v1.0h-1.0zM188.4 276.6h1.0v1.0h-1.0zM188.8 272.5h1.0v1.0h-1.0zM185.9 270.9h1.0v1.0h-1.0zM180.6 270.6h1.0v1.0h-1.0zM186.3 265.5h1.0v1.0h-1.0zM183.6 273.9h1.0v1.0h-1.0zM190.0 265.5h1.0v1.0h-1.0zM194.8 268.1h1.0v1.0h-1.0zM187.2 271.1h1.0v1.0h-1.0zM184.6 265.2h1.0v1.0h-1.0zM185.9 274.1h1.0v1.0h-1.0zM191.8 265.3h1.0v1.0h-1.0zM192.7 270.4h1.0v1.0h-1.0zM190.2 270.5h1.0v1.0h-1.0zM189.9 267.1h1.0v1.0h-1.0zM185.4 268.1h1.0v1.0h-1.0zM187.2 272.3h1.0v1.0h-1.0zM184.3 275.4h1.0v1.0h-1.0zM186.3 268.4h1.0v1.0h-1.0zM190.9 271.7h1.0v1.0h-1.0zM187.3 266.9h1.0v1.0h-1.0zM185.0 265.2h1.0v1.0h-1.0zM192.5 273.7h1.0v1.0h-1.0zM195.0 271.9h1.0v1.0h-1.0zM189.7 272.7h1.0v1.0h-1.0zM191.8 269.5h1.0v1.0h-1.0zM189.7 277.1h1.0v1.0h-1.0zM182.6 265.8h1.0v1.0h-1.0zM185.2 272.7h1.0v1.0h-1.0zM192.6 269.2h1.0v1.0h-1.0zM190.8 270.1h1.0v1.0h-1.0zM189.5 268.6h1.0v1.0h-1.0zM188.4 270.3h1.0v1.0h-1.0zM192.4 277.4h1.0v1.0h-1.0zM182.2 272.0h1.0v1.0h-1.0zM188.5 273.4h1.0v1.0h-1.0zM192.2 272.8h1.0v1.0h-1.0zM191.3 267.3h1.0v1.0h-1.0zM182.6 275.6h1.0v1.0h-1.0zM192.7 267.3h1.0v1.0h-1.0zM193.0 272.4h1.0v1.0h-1.0zM180.0 273.2h1.0v1.0h-1.0zM185.1 274.0h1.0v1.0h-1.0zM186.1 267.9h1.0v1.0h-1.0zM183.1 269.6h1.0v1.0h-1.0zM192.0 268.2h1.0v1.0h-1.0zM182.1 277.1h1.0v1.0h-1.0zM194.9 272.5h1.0v1.0h-1.0zM186.6 266.4h1.0v1.0h-1.0zM182.8 272.1h1.0v1.0h-1.0zM193.0 266.9h1.0v1.0h-1.0zM188.5 269.4h1.0v1.0h-1.0zM187.6 271.9h1.0v1.0h-1.0zM195.8 268.3h1.0v1.0h-1.0zM191.4 273.8h1.0v1.0h-1.0zM187.5 269.8h1.0v1.0h-1.0zM183.8 273.7h1.0v1.0h-1.0zM186.7 268.2h1.0v1.0h-1.0zM188.7 267.6h1.0v1.0h-1.0zM184.9 269.4h1.0v1.0h-1.0zM193.7 269.6h1.0v1.0h-1.0zM190.3 265.6h1.0v1.0h-1.0zM181.7 276.1h1.0v1.0h-1.0zM187.1 265.4h1.0v1.0h-1.0zM188.1 272.2h1.0v1.0h-1.0zM182.5 267.5h1.0v1.0h-1.0zM189.4 267.4h1.0v1.0h-1.0zM191.3 273.4h1.0v1.0h-1.0zM190.0 268.9h1.0v1.0h-1.0zM188.3 268.3h1.0v1.0h-1.0zM188.0 271.3h1.0v1.0h-1.0zM187.5 273.4h1.0v1.0h-1.0zM197.5 268.6h1.0v1.0h-1.0zM189.7 272.9h1.0v1.0h-1.0zM190.7 269.5h1.0v1.0h-1.0zM186.8 273.5h1.0v1.0h-1.0zM190.7 271.9h1.0v1.0h-1.0zM185.7 272.3h1.0v1.0h-1.0zM191.3 269.7h1.0v1.0h-1.0zM190.7 277.2h1.0v1.0h-1.0zM182.0 272.2h1.0v1.0h-1.0zM184.4 266.0h1.0v1.0h-1.0zM187.7 272.0h1.0v1.0h-1.0zM188.7 266.6h1.0v1.0h-1.0zM183.5 268.5h1.0v1.0h-1.0zM188.5 267.7h1.0v1.0h-1.0zM183.3 275.9h1.0v1.0h-1.0zM185.6 269.8h1.0v1.0h-1.0zM186.6 268.4h1.0v1.0h-1.0zM188.6 269.3h1.0v1.0h-1.0zM190.7 266.5h1.0v1.0h-1.0zM183.3 276.5h1.0v1.0h-1.0zM188.2 272.8h1.0v1.0h-1.0zM192.6 272.1h1.0v1.0h-1.0zM188.6 265.3h1.0v1.0h-1.0zM182.9 273.4h1.0v1.0h-1.0zM190.9 272.1h1.0v1.0h-1.0zM182.7 263.5h1.0v1.0h-1.0zM184.8 266.5h1.0v1.0h-1.0zM189.1 267.0h1.0v1.0h-1.0zM194.0 268.3h1.0v1.0h-1.0zM186.5 273.1h1.0v1.0h-1.0zM189.6 267.4h1.0v1.0h-1.0zM191.4 276.4h1.0v1.0h-1.0zM184.2 269.5h1.0v1.0h-1.0zM184.7 264.1h1.0v1.0h-1.0zM190.7 272.5h1.0v1.0h-1.0zM191.9 271.7h1.0v1.0h-1.0zM181.5 270.2h1.0v1.0h-1.0zM186.2 266.5h1.0v1.0h-1.0zM184.6 272.8h1.0v1.0h-1.0zM187.5 276.6h1.0v1.0h-1.0zM190.1 264.2h1.0v1.0h-1.0zM191.6 274.3h1.0v1.0h-1.0zM188.6 266.4h1.0v1.0h-1.0zM194.7 266.1h1.0v1.0h-1.0zM188.2 264.2h1.0v1.0h-1.0zM184.1 264.8h1.0v1.0h-1.0zM192.3 274.1h1.0v1.0h-1.0zM187.1 265.9h1.0v1.0h-1.0zM188.3 271.5h1.0v1.0h-1.0zM183.2 266.6h1.0v1.0h-1.0zM188.1 272.6h1.0v1.0h-1.0zM188.8 271.7h1.0v1.0h-1.0zM184.1 262.3h1.0v1.0h-1.0zM189.6 267.3h1.0v1.0h-1.0zM188.1 269.1h1.0v1.0h-1.0zM190.2 267.8h1.0v1.0h-1.0zM193.6 270.4h1.0v1.0h-1.0zM190.4 272.3h1.0v1.0h-1.0zM192.1 271.6h1.0v1.0h-1.0zM182.4 268.3h1.0v1.0h-1.0zM195.0 271.8h1.0v1.0h-1.0zM190.5 271.8h1.0v1.0h-1.0zM186.2 268.1h1.0v1.0h-1.0zM186.2 274.0h1.0v1.0h-1.0zM189.8 276.0h1.0v1.0h-1.0zM190.3 276.4h1.0v1.0h-1.0zM190.1 266.5h1.0v1.0h-1.0zM194.6 271.4h1.0v1.0h-1.0zM192.7 271.0h1.0v1.0h-1.0zM187.3 270.8h1.0v1.0h-1.0zM184.5 266.4h1.0v1.0h-1.0zM185.4 268.6h1.0v1.0h-1.0zM183.7 270.0h1.0v1.0h-1.0zM189.6 276.9h1.0v1.0h-1.0zM195.0 270.1h1.0v1.0h-1.0zM191.6 269.6h1.0v1.0h-1.0zM189.9 270.2h1.0v1.0h-1.0zM186.6 270.5h1.0v1.0h-1.0zM183.3 271.7h1.0v1.0h-1.0zM187.5 266.8h1.0v1.0h-1.0zM187.2 272.1h1.0v1.0h-1.0zM186.1 271.8h1.0v1.0h-1.0zM190.5 275.4h1.0v1.0h-1.0zM184.7 269.9h1.0v1.0h-1.0zM190.3 275.2h1.0v1.0h-1.0zM189.4 272.7h1.0v1.0h-1.0zM183.3 268.4h1.0v1.0h-1.0zM194.4 269.4h1.0v1.0h-1.0zM196.2 267.9h1.0v1.0h-1.0zM187.5 265.1h1.0v1.0h-1.0zM190.8 271.2h1.0v1.0h-1.0zM195.7 270.8h1.0v1.0h-1.0zM187.6 265.7h1.0v1.0h-1.0zM188.2 273.4h1.0v1.0h-1.0zM191.1 274.3h1.0v1.0h-1.0zM191.6 270.1h1.0v1.0h-1.0zM190.6 270.9h1.0v1.0h-1.0zM183.8 275.9h1.0v1.0h-1.0zM189.8 266.9h1.0v1.0h-1.0zM189.9 271.2h1.0v1.0h-1.0zM192.0 275.0h1.0v1.0h-1.0zM177.7 272.1h1.0v1.0h-1.0zM193.9 267.2h1.0v1.0h-1.0zM181.9 271.2h1.0v1.0h-1.0zM189.7 271.4h1.0v1.0h-1.0zM184.5 268.8h1.0v1.0h-1.0zM189.2 272.7h1.0v1.0h-1.0zM196.3 271.3h1.0v1.0h-1.0zM186.4 262.6h1.0v1.0h-1.0zM192.3 269.9h1.0v1.0h-1.0zM188.1 267.1h1.0v1.0h-1.0zM191.1 264.4h1.0v1.0h-1.0zM188.9 270.7h1.0v1.0h-1.0zM189.6 274.6h1.0v1.0h-1.0zM188.1 270.6h1.0v1.0h-1.0zM191.6 265.2h1.0v1.0h-1.0zM187.5 270.5h1.0v1.0h-1.0zM191.9 267.7h1.0v1.0h-1.0zM191.4 271.6h1.0v1.0h-1.0zM183.2 265.5h1.0v1.0h-1.0zM183.4 270.8h1.0v1.0h-1.0zM189.2 272.7h1.0v1.0h-1.0zM191.4 268.5h1.0v1.0h-1.0zM192.3 273.0h1.0v1.0h-1.0zM190.2 271.9h1.0v1.0h-1.0zM183.9 271.5h1.0v1.0h-1.0zM184.8 266.4h1.0v1.0h-1.0zM187.2 270.8h1.0v1.0h-1.0zM188.3 269.2h1.0v1.0h-1.0zM184.9 270.9h1.0v1.0h-1.0zM185.8 265.7h1.0v1.0h-1.0zM188.8 275.1h1.0v1.0h-1.0zM187.1 266.8h1.0v1.0h-1.0zM193.5 275.9h1.0v1.0h-1.0zM187.4 269.6h1.0v1.0h-1.0zM189.0 273.6h1.0v1.0h-1.0zM190.1 264.3h1.0v1.0h-1.0zM184.6 266.3h1.0v1.0h-1.0zM190.1 270.6h1.0v1.0h-1.0zM194.9 269.4h1.0v1.0h-1.0zM189.6 270.5h1.0v1.0h-1.0zM189.0 277.9h1.0v1.0h-1.0zM189.5 275.1h1.0v1.0h-1.0zM193.2 268.3h1.0v1.0h-1.0zM191.0 269.0h1.0v1.0h-1.0zM188.9 270.8h1.0v1.0h-1.0zM188.6 268.8h1.0v1.0h-1.0zM194.1 269.4h1.0v1.0h-1.0zM191.0 275.8h1.0v1.0h-1.0z" fill="#000" fill-opacity="0.62"/>
<path d="M178.4 265.7h1.0v1.0h-1.0zM181.3 265.9h1.0v1.0h-1.0zM182.5 256.9h1.0v1.0h-1.0zM183.4 262.1h1.0v1.0h-1.0zM169.4 259.7h1.0v1.0h-1.0zM170.7 261.9h1.0v1.0h-1.0zM170.4 258.4h1.0v1.0h-1.0zM177.1 262.6h1.0v1.0h-1.0zM173.0 261.2h1.0v1.0h-1.0zM175.6 262.3h1.0v1.0h-1.0zM176.0 261.2h1.0v1.0h-1.0zM179.3 256.2h1.0v1.0h-1.0zM174.1 262.5h1.0v1.0h-1.0zM174.5 260.0h1.0v1.0h-1.0zM174.3 262.8h1.0v1.0h-1.0zM180.7 261.3h1.0v1.0h-1.0zM175.0 263.3h1.0v1.0h-1.0zM175.1 255.0h1.0v1.0h-1.0zM177.0 260.6h1.0v1.0h-1.0zM173.8 264.3h1.0v1.0h-1.0zM176.2 260.0h1.0v1.0h-1.0zM167.7 255.8h1.0v1.0h-1.0zM176.1 261.6h1.0v1.0h-1.0zM177.7 262.8h1.0v1.0h-1.0zM174.2 257.4h1.0v1.0h-1.0zM171.8 261.5h1.0v1.0h-1.0zM171.6 264.7h1.0v1.0h-1.0zM171.0 255.6h1.0v1.0h-1.0zM175.3 255.6h1.0v1.0h-1.0zM182.2 258.4h1.0v1.0h-1.0zM175.8 261.1h1.0v1.0h-1.0zM172.9 255.6h1.0v1.0h-1.0zM168.9 265.1h1.0v1.0h-1.0zM179.9 269.8h1.0v1.0h-1.0zM170.4 264.0h1.0v1.0h-1.0zM175.9 265.0h1.0v1.0h-1.0zM174.0 264.6h1.0v1.0h-1.0zM179.4 264.2h1.0v1.0h-1.0zM181.5 261.4h1.0v1.0h-1.0zM181.9 259.5h1.0v1.0h-1.0zM182.3 252.1h1.0v1.0h-1.0zM176.1 259.1h1.0v1.0h-1.0zM176.0 265.7h1.0v1.0h-1.0zM178.7 262.3h1.0v1.0h-1.0zM182.5 256.7h1.0v1.0h-1.0zM172.9 267.4h1.0v1.0h-1.0zM177.2 254.5h1.0v1.0h-1.0zM177.3 257.7h1.0v1.0h-1.0zM181.6 266.1h1.0v1.0h-1.0zM173.9 266.7h1.0v1.0h-1.0zM172.8 265.3h1.0v1.0h-1.0zM178.2 261.5h1.0v1.0h-1.0zM170.6 261.0h1.0v1.0h-1.0zM167.3 260.0h1.0v1.0h-1.0zM169.0 266.4h1.0v1.0h-1.0zM172.3 253.2h1.0v1.0h-1.0zM178.2 263.3h1.0v1.0h-1.0zM174.1 269.6h1.0v1.0h-1.0zM178.9 262.2h1.0v1.0h-1.0zM173.5 251.4h1.0v1.0h-1.0zM177.8 265.5h1.0v1.0h-1.0zM173.8 256.9h1.0v1.0h-1.0zM175.8 256.0h1.0v1.0h-1.0zM176.0 264.8h1.0v1.0h-1.0zM181.7 263.0h1.0v1.0h-1.0zM176.7 264.7h1.0v1.0h-1.0zM181.3 260.9h1.0v1.0h-1.0zM171.3 259.2h1.0v1.0h-1.0zM171.2 258.8h1.0v1.0h-1.0zM175.5 263.2h1.0v1.0h-1.0zM176.6 262.3h1.0v1.0h-1.0zM174.6 263.5h1.0v1.0h-1.0zM179.4 264.7h1.0v1.0h-1.0zM181.7 261.0h1.0v1.0h-1.0zM175.0 268.1h1.0v1.0h-1.0zM176.8 263.5h1.0v1.0h-1.0zM174.7 265.5h1.0v1.0h-1.0zM174.5 258.4h1.0v1.0h-1.0zM175.8 260.4h1.0v1.0h-1.0zM179.2 260.6h1.0v1.0h-1.0zM176.5 261.2h1.0v1.0h-1.0zM177.3 259.7h1.0v1.0h-1.0zM180.2 256.9h1.0v1.0h-1.0zM174.5 259.4h1.0v1.0h-1.0zM178.5 262.1h1.0v1.0h-1.0zM177.8 260.8h1.0v1.0h-1.0zM173.3 258.0h1.0v1.0h-1.0zM174.7 260.1h1.0v1.0h-1.0zM177.1 263.3h1.0v1.0h-1.0zM179.7 261.6h1.0v1.0h-1.0zM173.2 258.2h1.0v1.0h-1.0zM176.2 263.3h1.0v1.0h-1.0zM183.4 262.7h1.0v1.0h-1.0zM182.7 268.7h1.0v1.0h-1.0zM172.0 266.4h1.0v1.0h-1.0zM180.3 266.8h1.0v1.0h-1.0zM176.0 265.4h1.0v1.0h-1.0zM174.2 261.7h1.0v1.0h-1.0zM176.1 268.4h1.0v1.0h-1.0zM175.2 265.4h1.0v1.0h-1.0zM176.3 259.4h1.0v1.0h-1.0zM176.9 264.4h1.0v1.0h-1.0zM173.3 264.3h1.0v1.0h-1.0zM173.3 258.8h1.0v1.0h-1.0zM176.8 261.2h1.0v1.0h-1.0zM172.3 256.1h1.0v1.0h-1.0zM176.1 262.9h1.0v1.0h-1.0zM174.3 262.7h1.0v1.0h-1.0zM170.2 263.4h1.0v1.0h-1.0zM177.6 263.0h1.0v1.0h-1.0zM173.7 262.3h1.0v1.0h-1.0zM176.5 265.8h1.0v1.0h-1.0zM177.0 262.9h1.0v1.0h-1.0zM173.3 265.1h1.0v1.0h-1.0zM180.5 260.2h1.0v1.0h-1.0zM178.4 263.1h1.0v1.0h-1.0zM175.8 257.4h1.0v1.0h-1.0zM182.7 255.3h1.0v1.0h-1.0zM177.2 260.6h1.0v1.0h-1.0zM180.3 260.5h1.0v1.0h-1.0zM176.1 264.2h1.0v1.0h-1.0zM177.7 260.1h1.0v1.0h-1.0zM178.6 263.4h1.0v1.0h-1.0zM179.8 260.2h1.0v1.0h-1.0zM175.8 260.6h1.0v1.0h-1.0zM172.8 262.9h1.0v1.0h-1.0zM177.6 267.1h1.0v1.0h-1.0zM174.8 263.4h1.0v1.0h-1.0zM180.3 261.6h1.0v1.0h-1.0zM176.2 262.5h1.0v1.0h-1.0zM173.4 258.5h1.0v1.0h-1.0zM180.2 262.6h1.0v1.0h-1.0zM175.7 257.5h1.0v1.0h-1.0zM176.4 266.2h1.0v1.0h-1.0zM171.6 258.8h1.0v1.0h-1.0zM180.2 267.1h1.0v1.0h-1.0zM181.9 260.0h1.0v1.0h-1.0zM178.3 259.3h1.0v1.0h-1.0zM178.0 260.7h1.0v1.0h-1.0zM176.7 266.8h1.0v1.0h-1.0zM177.3 261.1h1.0v1.0h-1.0zM176.2 263.0h1.0v1.0h-1.0zM174.1 262.7h1.0v1.0h-1.0zM178.3 267.6h1.0v1.0h-1.0zM168.2 257.7h1.0v1.0h-1.0zM171.3 265.1h1.0v1.0h-1.0zM185.2 262.7h1.0v1.0h-1.0zM176.5 266.1h1.0v1.0h-1.0zM166.8 261.4h1.0v1.0h-1.0zM174.1 260.3h1.0v1.0h-1.0zM177.3 259.9h1.0v1.0h-1.0zM180.2 262.0h1.0v1.0h-1.0zM177.4 271.1h1.0v1.0h-1.0zM174.3 265.3h1.0v1.0h-1.0zM172.9 266.5h1.0v1.0h-1.0zM179.6 262.5h1.0v1.0h-1.0zM179.7 267.8h1.0v1.0h-1.0zM181.2 262.0h1.0v1.0h-1.0zM175.8 266.0h1.0v1.0h-1.0zM170.5 259.8h1.0v1.0h-1.0zM177.8 264.0h1.0v1.0h-1.0zM183.0 268.3h1.0v1.0h-1.0zM177.2 263.6h1.0v1.0h-1.0zM171.0 261.3h1.0v1.0h-1.0zM177.0 261.2h1.0v1.0h-1.0zM176.2 264.2h1.0v1.0h-1.0zM172.4 260.0h1.0v1.0h-1.0zM169.3 266.1h1.0v1.0h-1.0zM172.0 255.9h1.0v1.0h-1.0zM178.9 261.2h1.0v1.0h-1.0zM179.6 260.7h1.0v1.0h-1.0zM184.0 264.5h1.0v1.0h-1.0zM176.6 262.4h1.0v1.0h-1.0zM175.2 264.9h1.0v1.0h-1.0zM183.5 260.5h1.0v1.0h-1.0zM171.9 264.1h1.0v1.0h-1.0zM180.0 256.7h1.0v1.0h-1.0zM173.4 258.5h1.0v1.0h-1.0zM178.1 263.8h1.0v1.0h-1.0zM173.2 258.0h1.0v1.0h-1.0zM178.6 254.7h1.0v1.0h-1.0zM178.4 261.4h1.0v1.0h-1.0zM183.2 265.5h1.0v1.0h-1.0zM173.8 261.0h1.0v1.0h-1.0zM175.0 259.4h1.0v1.0h-1.0zM176.3 265.4h1.0v1.0h-1.0zM170.3 261.2h1.0v1.0h-1.0zM181.6 264.6h1.0v1.0h-1.0zM173.0 259.1h1.0v1.0h-1.0zM172.8 256.3h1.0v1.0h-1.0zM180.3 262.2h1.0v1.0h-1.0zM173.4 256.9h1.0v1.0h-1.0zM174.6 260.2h1.0v1.0h-1.0zM182.4 260.4h1.0v1.0h-1.0zM176.4 265.8h1.0v1.0h-1.0zM178.5 261.4h1.0v1.0h-1.0zM167.8 267.0h1.0v1.0h-1.0zM178.2 260.5h1.0v1.0h-1.0zM175.7 258.6h1.0v1.0h-1.0zM172.6 256.7h1.0v1.0h-1.0zM177.9 263.8h1.0v1.0h-1.0zM176.7 264.8h1.0v1.0h-1.0zM178.0 262.4h1.0v1.0h-1.0zM172.7 264.1h1.0v1.0h-1.0zM180.4 264.2h1.0v1.0h-1.0zM180.7 260.3h1.0v1.0h-1.0zM172.3 266.4h1.0v1.0h-1.0zM173.8 262.9h1.0v1.0h-1.0zM175.3 262.1h1.0v1.0h-1.0zM175.0 260.1h1.0v1.0h-1.0zM169.3 268.7h1.0v1.0h-1.0zM176.8 255.2h1.0v1.0h-1.0zM172.6 258.0h1.0v1.0h-1.0zM173.2 253.0h1.0v1.0h-1.0zM178.1 267.8h1.0v1.0h-1.0zM175.1 264.6h1.0v1.0h-1.0zM178.2 257.6h1.0v1.0h-1.0zM180.5 256.0h1.0v1.0h-1.0zM173.9 260.7h1.0v1.0h-1.0zM180.7 262.4h1.0v1.0h-1.0zM175.5 259.2h1.0v1.0h-1.0zM176.3 262.1h1.0v1.0h-1.0zM178.7 266.9h1.0v1.0h-1.0zM178.7 262.1h1.0v1.0h-1.0zM175.4 267.6h1.0v1.0h-1.0zM176.7 261.9h1.0v1.0h-1.0zM182.7 267.5h1.0v1.0h-1.0zM178.1 261.6h1.0v1.0h-1.0zM173.6 265.8h1.0v1.0h-1.0zM174.3 265.4h1.0v1.0h-1.0zM173.1 262.4h1.0v1.0h-1.0zM177.5 262.5h1.0v1.0h-1.0zM176.9 263.3h1.0v1.0h-1.0zM171.8 258.1h1.0v1.0h-1.0zM175.5 268.4h1.0v1.0h-1.0zM175.5 258.7h1.0v1.0h-1.0zM173.5 262.1h1.0v1.0h-1.0zM180.4 260.0h1.0v1.0h-1.0zM178.1 262.7h1.0v1.0h-1.0zM174.7 258.7h1.0v1.0h-1.0zM175.4 259.5h1.0v1.0h-1.0zM178.0 255.8h1.0v1.0h-1.0zM180.2 264.7h1.0v1.0h-1.0zM178.1 267.3h1.0v1.0h-1.0zM178.2 256.0h1.0v1.0h-1.0zM176.2 263.6h1.0v1.0h-1.0zM173.5 258.0h1.0v1.0h-1.0zM177.6 263.8h1.0v1.0h-1.0zM174.4 261.1h1.0v1.0h-1.0zM174.1 260.0h1.0v1.0h-1.0zM175.8 265.8h1.0v1.0h-1.0zM170.0 260.8h1.0v1.0h-1.0zM182.0 263.1h1.0v1.0h-1.0zM176.6 264.9h1.0v1.0h-1.0zM172.3 257.8h1.0v1.0h-1.0zM169.8 256.9h1.0v1.0h-1.0zM176.9 265.0h1.0v1.0h-1.0zM174.5 259.6h1.0v1.0h-1.0zM177.5 264.2h1.0v1.0h-1.0zM177.0 255.3h1.0v1.0h-1.0zM174.0 253.1h1.0v1.0h-1.0zM176.9 259.0h1.0v1.0h-1.0zM173.6 267.3h1.0v1.0h-1.0zM180.9 263.7h1.0v1.0h-1.0zM177.0 262.6h1.0v1.0h-1.0zM173.8 261.8h1.0v1.0h-1.0zM183.1 258.9h1.0v1.0h-1.0zM173.6 262.6h1.0v1.0h-1.0zM179.3 264.9h1.0v1.0h-1.0zM172.4 261.5h1.0v1.0h-1.0zM175.0 257.7h1.0v1.0h-1.0zM176.3 260.3h1.0v1.0h-1.0zM179.4 263.5h1.0v1.0h-1.0zM173.1 262.3h1.0v1.0h-1.0zM174.7 259.8h1.0v1.0h-1.0zM174.2 265.7h1.0v1.0h-1.0zM174.5 256.0h1.0v1.0h-1.0zM173.1 264.8h1.0v1.0h-1.0zM184.0 258.3h1.0v1.0h-1.0zM174.7 260.8h1.0v1.0h-1.0zM170.8 263.4h1.0v1.0h-1.0zM175.8 263.0h1.0v1.0h-1.0zM184.3 261.1h1.0v1.0h-1.0zM178.9 264.9h1.0v1.0h-1.0zM173.7 259.9h1.0v1.0h-1.0zM181.8 264.5h1.0v1.0h-1.0zM176.5 258.2h1.0v1.0h-1.0zM179.3 263.8h1.0v1.0h-1.0zM184.1 267.2h1.0v1.0h-1.0zM179.0 262.9h1.0v1.0h-1.0zM176.2 260.1h1.0v1.0h-1.0zM177.1 262.9h1.0v1.0h-1.0zM178.4 265.8h1.0v1.0h-1.0zM177.2 260.1h1.0v1.0h-1.0zM179.0 267.4h1.0v1.0h-1.0zM172.9 263.5h1.0v1.0h-1.0zM178.0 263.9h1.0v1.0h-1.0zM177.9 261.7h1.0v1.0h-1.0zM175.6 267.9h1.0v1.0h-1.0zM182.4 257.1h1.0v1.0h-1.0zM166.6 263.5h1.0v1.0h-1.0zM173.5 260.2h1.0v1.0h-1.0zM170.1 263.2h1.0v1.0h-1.0zM175.8 260.1h1.0v1.0h-1.0zM179.3 270.5h1.0v1.0h-1.0zM181.4 266.1h1.0v1.0h-1.0zM174.5 264.3h1.0v1.0h-1.0zM175.9 266.0h1.0v1.0h-1.0zM178.2 261.9h1.0v1.0h-1.0zM178.0 259.5h1.0v1.0h-1.0zM178.9 267.3h1.0v1.0h-1.0zM174.7 263.9h1.0v1.0h-1.0zM169.9 265.3h1.0v1.0h-1.0zM179.2 258.4h1.0v1.0h-1.0zM182.4 262.4h1.0v1.0h-1.0zM169.6 257.2h1.0v1.0h-1.0zM179.2 261.0h1.0v1.0h-1.0zM180.1 256.6h1.0v1.0h-1.0zM175.6 265.4h1.0v1.0h-1.0zM173.5 264.4h1.0v1.0h-1.0zM174.7 263.2h1.0v1.0h-1.0zM177.2 269.8h1.0v1.0h-1.0zM171.4 264.7h1.0v1.0h-1.0zM180.8 258.1h1.0v1.0h-1.0zM176.3 270.1h1.0v1.0h-1.0zM179.9 251.6h1.0v1.0h-1.0zM175.1 256.0h1.0v1.0h-1.0zM177.1 259.5h1.0v1.0h-1.0zM173.9 259.1h1.0v1.0h-1.0zM177.1 260.4h1.0v1.0h-1.0zM172.7 261.2h1.0v1.0h-1.0zM177.5 259.0h1.0v1.0h-1.0zM180.1 256.2h1.0v1.0h-1.0zM177.5 260.6h1.0v1.0h-1.0zM181.8 259.8h1.0v1.0h-1.0zM173.6 257.3h1.0v1.0h-1.0zM183.3 264.2h1.0v1.0h-1.0zM172.0 260.8h1.0v1.0h-1.0zM172.5 267.3h1.0v1.0h-1.0zM177.5 254.9h1.0v1.0h-1.0zM176.8 265.2h1.0v1.0h-1.0zM176.0 263.7h1.0v1.0h-1.0zM175.6 262.7h1.0v1.0h-1.0zM176.8 259.5h1.0v1.0h-1.0zM177.3 262.6h1.0v1.0h-1.0zM175.9 259.6h1.0v1.0h-1.0zM172.3 262.9h1.0v1.0h-1.0zM179.0 253.5h1.0v1.0h-1.0zM174.0 266.7h1.0v1.0h-1.0z" fill="#000" fill-opacity="0.45"/>
<path d="M187.8 263.8h1.0v1.0h-1.0zM190.4 262.6h1.0v1.0h-1.0zM177.9 275.7h1.0v1.0h-1.0zM180.0 266.0h1.0v1.0h-1.0zM172.9 262.5h1.0v1.0h-1.0zM175.6 266.4h1.0v1.0h-1.0zM171.8 271.8h1.0v1.0h-1.0zM180.4 264.3h1.0v1.0h-1.0zM178.8 270.3h1.0v1.0h-1.0zM191.4 265.2h1.0v1.0h-1.0zM191.9 274.2h1.0v1.0h-1.0zM190.3 268.3h1.0v1.0h-1.0zM173.8 270.0h1.0v1.0h-1.0zM180.1 267.9h1.0v1.0h-1.0zM171.5 265.7h1.0v1.0h-1.0zM183.9 262.8h1.0v1.0h-1.0zM184.2 274.5h1.0v1.0h-1.0zM183.8 263.9h1.0v1.0h-1.0zM196.4 257.4h1.0v1.0h-1.0zM177.1 268.8h1.0v1.0h-1.0zM179.0 256.7h1.0v1.0h-1.0zM184.0 270.7h1.0v1.0h-1.0zM177.9 273.6h1.0v1.0h-1.0zM185.4 272.3h1.0v1.0h-1.0zM173.6 267.0h1.0v1.0h-1.0zM191.8 276.0h1.0v1.0h-1.0zM190.2 267.0h1.0v1.0h-1.0zM183.6 264.2h1.0v1.0h-1.0zM188.9 263.9h1.0v1.0h-1.0zM183.2 257.8h1.0v1.0h-1.0zM173.7 275.0h1.0v1.0h-1.0zM182.8 268.0h1.0v1.0h-1.0zM169.7 266.9h1.0v1.0h-1.0zM194.6 260.3h1.0v1.0h-1.0zM168.6 266.3h1.0v1.0h-1.0zM179.4 266.1h1.0v1.0h-1.0zM175.1 260.9h1.0v1.0h-1.0zM175.3 269.9h1.0v1.0h-1.0zM182.2 270.7h1.0v1.0h-1.0zM176.2 269.7h1.0v1.0h-1.0zM179.9 267.4h1.0v1.0h-1.0zM188.0 267.1h1.0v1.0h-1.0zM180.4 259.5h1.0v1.0h-1.0zM182.9 270.5h1.0v1.0h-1.0zM178.8 266.7h1.0v1.0h-1.0zM172.1 261.0h1.0v1.0h-1.0zM184.9 272.8h1.0v1.0h-1.0zM180.7 259.5h1.0v1.0h-1.0zM180.3 260.0h1.0v1.0h-1.0zM180.9 275.7h1.0v1.0h-1.0zM184.3 266.3h1.0v1.0h-1.0zM188.6 265.3h1.0v1.0h-1.0zM184.5 267.9h1.0v1.0h-1.0zM185.1 260.4h1.0v1.0h-1.0zM186.7 271.0h1.0v1.0h-1.0zM169.1 254.8h1.0v1.0h-1.0zM177.2 273.7h1.0v1.0h-1.0zM182.6 270.1h1.0v1.0h-1.0zM185.8 271.0h1.0v1.0h-1.0zM178.7 264.4h1.0v1.0h-1.0zM184.7 269.7h1.0v1.0h-1.0zM185.9 268.5h1.0v1.0h-1.0zM179.6 272.0h1.0v1.0h-1.0zM185.3 271.8h1.0v1.0h-1.0zM167.5 271.6h1.0v1.0h-1.0zM168.1 268.0h1.0v1.0h-1.0zM178.6 267.5h1.0v1.0h-1.0zM179.7 265.6h1.0v1.0h-1.0zM183.6 268.6h1.0v1.0h-1.0zM177.8 255.5h1.0v1.0h-1.0zM177.9 269.5h1.0v1.0h-1.0zM177.5 268.9h1.0v1.0h-1.0zM180.3 262.7h1.0v1.0h-1.0zM189.4 274.5h1.0v1.0h-1.0zM181.9 266.8h1.0v1.0h-1.0zM188.2 261.0h1.0v1.0h-1.0zM177.3 272.1h1.0v1.0h-1.0zM187.8 264.8h1.0v1.0h-1.0zM177.9 268.6h1.0v1.0h-1.0zM174.2 264.7h1.0v1.0h-1.0zM181.1 255.8h1.0v1.0h-1.0zM186.0 270.5h1.0v1.0h-1.0zM188.8 260.5h1.0v1.0h-1.0zM174.9 263.3h1.0v1.0h-1.0zM174.8 276.3h1.0v1.0h-1.0zM176.7 265.6h1.0v1.0h-1.0zM183.7 269.1h1.0v1.0h-1.0zM191.1 262.0h1.0v1.0h-1.0zM187.7 267.7h1.0v1.0h-1.0zM175.5 267.7h1.0v1.0h-1.0zM174.2 274.4h1.0v1.0h-1.0zM178.2 271.6h1.0v1.0h-1.0zM190.2 264.2h1.0v1.0h-1.0zM177.2 267.6h1.0v1.0h-1.0zM176.3 271.1h1.0v1.0h-1.0zM183.5 263.5h1.0v1.0h-1.0zM178.4 270.3h1.0v1.0h-1.0zM173.9 274.7h1.0v1.0h-1.0zM177.8 266.1h1.0v1.0h-1.0zM177.0 274.4h1.0v1.0h-1.0zM187.4 272.9h1.0v1.0h-1.0zM186.4 267.4h1.0v1.0h-1.0zM192.6 270.0h1.0v1.0h-1.0zM185.1 269.6h1.0v1.0h-1.0zM186.9 268.3h1.0v1.0h-1.0zM181.5 259.7h1.0v1.0h-1.0zM194.8 261.0h1.0v1.0h-1.0zM169.6 263.7h1.0v1.0h-1.0zM194.1 272.6h1.0v1.0h-1.0zM178.9 268.2h1.0v1.0h-1.0zM182.4 257.9h1.0v1.0h-1.0zM180.5 268.3h1.0v1.0h-1.0zM189.5 261.5h1.0v1.0h-1.0zM169.0 259.8h1.0v1.0h-1.0zM184.5 267.4h1.0v1.0h-1.0zM183.4 267.7h1.0v1.0h-1.0zM180.3 260.7h1.0v1.0h-1.0zM185.2 268.8h1.0v1.0h-1.0zM186.0 272.7h1.0v1.0h-1.0zM175.1 256.3h1.0v1.0h-1.0zM171.8 276.8h1.0v1.0h-1.0zM177.0 268.8h1.0v1.0h-1.0zM182.4 270.3h1.0v1.0h-1.0zM201.7 264.6h1.0v1.0h-1.0zM181.5 264.3h1.0v1.0h-1.0zM184.0 269.4h1.0v1.0h-1.0zM176.7 273.1h1.0v1.0h-1.0zM189.4 269.0h1.0v1.0h-1.0zM181.8 265.9h1.0v1.0h-1.0zM172.6 270.0h1.0v1.0h-1.0zM176.7 264.7h1.0v1.0h-1.0zM188.5 262.8h1.0v1.0h-1.0zM179.4 270.9h1.0v1.0h-1.0zM193.6 263.8h1.0v1.0h-1.0zM189.1 264.0h1.0v1.0h-1.0zM184.8 269.2h1.0v1.0h-1.0zM175.7 271.7h1.0v1.0h-1.0zM193.3 267.2h1.0v1.0h-1.0zM184.1 261.6h1.0v1.0h-1.0zM193.2 267.3h1.0v1.0h-1.0zM174.8 270.5h1.0v1.0h-1.0zM173.7 263.8h1.0v1.0h-1.0zM169.7 273.3h1.0v1.0h-1.0zM195.8 264.1h1.0v1.0h-1.0zM178.6 264.3h1.0v1.0h-1.0zM179.1 269.5h1.0v1.0h-1.0zM191.3 262.4h1.0v1.0h-1.0zM185.1 258.7h1.0v1.0h-1.0zM191.6 266.6h1.0v1.0h-1.0zM178.3 274.0h1.0v1.0h-1.0zM181.9 273.3h1.0v1.0h-1.0zM188.9 274.6h1.0v1.0h-1.0zM177.7 267.3h1.0v1.0h-1.0zM184.7 266.1h1.0v1.0h-1.0zM191.6 263.7h1.0v1.0h-1.0zM188.5 273.3h1.0v1.0h-1.0zM170.8 262.5h1.0v1.0h-1.0zM177.1 264.5h1.0v1.0h-1.0zM184.8 266.2h1.0v1.0h-1.0zM183.0 264.9h1.0v1.0h-1.0zM182.0 269.2h1.0v1.0h-1.0zM187.0 263.4h1.0v1.0h-1.0zM181.8 263.5h1.0v1.0h-1.0zM181.4 260.4h1.0v1.0h-1.0zM188.2 270.1h1.0v1.0h-1.0zM181.8 263.9h1.0v1.0h-1.0zM179.8 263.9h1.0v1.0h-1.0zM173.2 274.5h1.0v1.0h-1.0zM202.2 261.3h1.0v1.0h-1.0zM175.5 269.7h1.0v1.0h-1.0zM186.1 259.8h1.0v1.0h-1.0zM171.0 269.5h1.0v1.0h-1.0zM170.6 273.5h1.0v1.0h-1.0zM179.5 267.4h1.0v1.0h-1.0zM182.5 264.4h1.0v1.0h-1.0zM181.6 265.6h1.0v1.0h-1.0zM190.0 266.6h1.0v1.0h-1.0zM182.3 264.6h1.0v1.0h-1.0zM178.7 263.6h1.0v1.0h-1.0zM182.6 275.4h1.0v1.0h-1.0zM189.2 268.1h1.0v1.0h-1.0zM192.5 271.7h1.0v1.0h-1.0zM183.7 266.2h1.0v1.0h-1.0zM175.9 268.1h1.0v1.0h-1.0zM180.6 259.7h1.0v1.0h-1.0zM174.8 275.9h1.0v1.0h-1.0zM183.8 269.3h1.0v1.0h-1.0zM183.7 264.9h1.0v1.0h-1.0zM185.3 272.0h1.0v1.0h-1.0zM180.6 269.4h1.0v1.0h-1.0zM188.7 264.8h1.0v1.0h-1.0zM183.5 263.6h1.0v1.0h-1.0zM186.1 265.3h1.0v1.0h-1.0zM189.4 263.5h1.0v1.0h-1.0zM192.6 265.6h1.0v1.0h-1.0zM177.5 262.8h1.0v1.0h-1.0zM186.5 263.1h1.0v1.0h-1.0zM193.3 272.9h1.0v1.0h-1.0zM185.6 260.5h1.0v1.0h-1.0zM182.4 263.7h1.0v1.0h-1.0zM171.6 269.0h1.0v1.0h-1.0zM195.7 264.5h1.0v1.0h-1.0zM187.4 272.9h1.0v1.0h-1.0zM176.7 265.4h1.0v1.0h-1.0zM184.1 269.2h1.0v1.0h-1.0zM175.6 268.0h1.0v1.0h-1.0zM181.9 271.4h1.0v1.0h-1.0zM172.9 264.4h1.0v1.0h-1.0zM179.5 265.5h1.0v1.0h-1.0zM186.8 264.1h1.0v1.0h-1.0zM198.9 263.7h1.0v1.0h-1.0zM187.5 271.7h1.0v1.0h-1.0zM188.3 266.1h1.0v1.0h-1.0zM177.5 265.8h1.0v1.0h-1.0zM186.5 267.6h1.0v1.0h-1.0zM186.0 269.6h1.0v1.0h-1.0zM177.2 262.7h1.0v1.0h-1.0zM191.1 264.8h1.0v1.0h-1.0zM173.0 275.6h1.0v1.0h-1.0zM177.5 262.7h1.0v1.0h-1.0zM188.3 261.8h1.0v1.0h-1.0zM177.3 271.8h1.0v1.0h-1.0zM183.3 267.3h1.0v1.0h-1.0zM178.7 266.0h1.0v1.0h-1.0zM179.5 266.9h1.0v1.0h-1.0zM187.1 261.2h1.0v1.0h-1.0zM177.0 257.4h1.0v1.0h-1.0zM191.5 266.7h1.0v1.0h-1.0zM182.4 266.7h1.0v1.0h-1.0zM188.5 268.5h1.0v1.0h-1.0zM187.6 266.2h1.0v1.0h-1.0zM181.8 266.7h1.0v1.0h-1.0zM171.3 272.0h1.0v1.0h-1.0zM173.0 262.4h1.0v1.0h-1.0zM186.5 267.3h1.0v1.0h-1.0zM187.4 274.8h1.0v1.0h-1.0zM193.7 273.4h1.0v1.0h-1.0zM181.1 276.4h1.0v1.0h-1.0zM177.2 266.6h1.0v1.0h-1.0zM188.5 266.0h1.0v1.0h-1.0zM181.8 265.4h1.0v1.0h-1.0zM190.7 255.7h1.0v1.0h-1.0zM190.1 271.9h1.0v1.0h-1.0zM182.1 269.6h1.0v1.0h-1.0zM176.7 272.1h1.0v1.0h-1.0zM200.9 262.8h1.0v1.0h-1.0zM190.9 266.7h1.0v1.0h-1.0zM180.5 264.8h1.0v1.0h-1.0zM181.4 261.2h1.0v1.0h-1.0zM174.4 274.6h1.0v1.0h-1.0zM182.4 269.5h1.0v1.0h-1.0zM184.4 269.2h1.0v1.0h-1.0zM173.3 262.6h1.0v1.0h-1.0zM186.3 271.6h1.0v1.0h-1.0zM175.6 264.3h1.0v1.0h-1.0zM176.1 270.0h1.0v1.0h-1.0zM184.6 267.2h1.0v1.0h-1.0zM178.6 268.6h1.0v1.0h-1.0zM182.7 263.6h1.0v1.0h-1.0zM184.5 263.9h1.0v1.0h-1.0zM188.2 269.9h1.0v1.0h-1.0zM178.4 269.7h1.0v1.0h-1.0zM182.9 263.8h1.0v1.0h-1.0zM177.0 259.4h1.0v1.0h-1.0zM175.7 268.6h1.0v1.0h-1.0zM189.7 264.1h1.0v1.0h-1.0zM183.5 268.6h1.0v1.0h-1.0zM187.2 269.0h1.0v1.0h-1.0zM189.9 270.5h1.0v1.0h-1.0zM177.9 268.8h1.0v1.0h-1.0zM168.4 266.2h1.0v1.0h-1.0zM182.6 269.7h1.0v1.0h-1.0zM180.7 270.8h1.0v1.0h-1.0zM190.4 263.1h1.0v1.0h-1.0zM179.2 268.2h1.0v1.0h-1.0zM185.4 267.7h1.0v1.0h-1.0zM187.5 261.6h1.0v1.0h-1.0zM187.2 272.4h1.0v1.0h-1.0zM189.2 269.0h1.0v1.0h-1.0zM181.1 268.8h1.0v1.0h-1.0zM182.1 259.7h1.0v1.0h-1.0zM178.9 266.8h1.0v1.0h-1.0zM179.4 262.7h1.0v1.0h-1.0zM181.1 265.3h1.0v1.0h-1.0zM182.9 266.8h1.0v1.0h-1.0zM183.5 271.6h1.0v1.0h-1.0zM183.3 268.9h1.0v1.0h-1.0zM175.2 253.4h1.0v1.0h-1.0zM180.1 270.1h1.0v1.0h-1.0zM180.5 264.1h1.0v1.0h-1.0zM175.1 271.1h1.0v1.0h-1.0zM179.3 268.1h1.0v1.0h-1.0zM189.3 269.5h1.0v1.0h-1.0zM196.0 266.4h1.0v1.0h-1.0zM188.2 270.2h1.0v1.0h-1.0zM178.6 267.2h1.0v1.0h-1.0zM179.1 262.3h1.0v1.0h-1.0zM184.3 263.4h1.0v1.0h-1.0zM192.6 263.6h1.0v1.0h-1.0zM179.2 267.4h1.0v1.0h-1.0zM179.4 267.2h1.0v1.0h-1.0zM178.9 260.5h1.0v1.0h-1.0zM168.0 261.1h1.0v1.0h-1.0zM191.6 269.0h1.0v1.0h-1.0zM183.4 264.9h1.0v1.0h-1.0zM181.6 268.4h1.0v1.0h-1.0zM174.2 263.3h1.0v1.0h-1.0zM177.2 272.8h1.0v1.0h-1.0zM176.2 272.4h1.0v1.0h-1.0zM182.0 267.1h1.0v1.0h-1.0zM190.6 271.0h1.0v1.0h-1.0zM188.1 262.1h1.0v1.0h-1.0zM189.3 274.7h1.0v1.0h-1.0zM181.9 264.8h1.0v1.0h-1.0zM176.0 271.7h1.0v1.0h-1.0zM184.3 267.0h1.0v1.0h-1.0zM175.1 274.5h1.0v1.0h-1.0zM187.8 266.9h1.0v1.0h-1.0zM191.4 262.6h1.0v1.0h-1.0zM187.8 262.4h1.0v1.0h-1.0zM191.0 265.7h1.0v1.0h-1.0zM189.8 265.1h1.0v1.0h-1.0zM184.9 272.3h1.0v1.0h-1.0zM177.1 267.4h1.0v1.0h-1.0zM177.5 270.9h1.0v1.0h-1.0zM178.9 265.3h1.0v1.0h-1.0zM181.3 272.4h1.0v1.0h-1.0zM176.3 266.9h1.0v1.0h-1.0zM180.5 264.5h1.0v1.0h-1.0zM177.8 266.3h1.0v1.0h-1.0zM183.7 259.9h1.0v1.0h-1.0zM183.9 261.6h1.0v1.0h-1.0zM182.6 277.5h1.0v1.0h-1.0zM176.7 266.7h1.0v1.0h-1.0zM181.0 271.5h1.0v1.0h-1.0zM179.7 258.8h1.0v1.0h-1.0zM172.8 267.8h1.0v1.0h-1.0zM184.0 271.9h1.0v1.0h-1.0zM179.3 270.1h1.0v1.0h-1.0zM176.1 273.0h1.0v1.0h-1.0zM182.1 263.9h1.0v1.0h-1.0zM183.6 275.0h1.0v1.0h-1.0zM177.4 261.3h1.0v1.0h-1.0zM176.4 261.7h1.0v1.0h-1.0zM182.2 268.6h1.0v1.0h-1.0zM181.5 267.9h1.0v1.0h-1.0zM189.6 265.7h1.0v1.0h-1.0z" fill="#000" fill-opacity="0.4"/>
<path d="M170.0 266.6h1.0v1.0h-1.0zM176.0 271.5h1.0v1.0h-1.0zM174.0 274.7h1.0v1.0h-1.0zM176.9 268.8h1.0v1.0h-1.0zM171.2 273.7h1.0v1.0h-1.0zM174.4 276.9h1.0v1.0h-1.0zM173.0 267.3h1.0v1.0h-1.0zM179.7 268.6h1.0v1.0h-1.0zM171.1 274.7h1.0v1.0h-1.0zM176.0 275.1h1.0v1.0h-1.0zM177.2 271.3h1.0v1.0h-1.0zM180.0 268.4h1.0v1.0h-1.0zM172.7 274.4h1.0v1.0h-1.0zM175.6 270.6h1.0v1.0h-1.0zM181.3 277.9h1.0v1.0h-1.0zM171.3 274.6h1.0v1.0h-1.0zM172.5 272.2h1.0v1.0h-1.0zM178.9 273.9h1.0v1.0h-1.0zM174.6 273.8h1.0v1.0h-1.0zM170.3 277.2h1.0v1.0h-1.0zM172.0 277.4h1.0v1.0h-1.0zM173.2 272.1h1.0v1.0h-1.0zM180.9 274.1h1.0v1.0h-1.0zM172.4 271.9h1.0v1.0h-1.0zM177.5 272.3h1.0v1.0h-1.0zM170.5 271.5h1.0v1.0h-1.0zM174.5 274.2h1.0v1.0h-1.0zM172.4 277.3h1.0v1.0h-1.0zM171.2 271.4h1.0v1.0h-1.0zM177.0 274.9h1.0v1.0h-1.0zM173.4 276.4h1.0v1.0h-1.0zM175.2 277.5h1.0v1.0h-1.0zM174.2 274.1h1.0v1.0h-1.0zM177.1 268.3h1.0v1.0h-1.0zM178.7 274.5h1.0v1.0h-1.0zM175.8 277.7h1.0v1.0h-1.0zM176.3 267.8h1.0v1.0h-1.0zM171.2 272.6h1.0v1.0h-1.0zM175.6 272.2h1.0v1.0h-1.0zM178.7 275.3h1.0v1.0h-1.0zM175.1 273.7h1.0v1.0h-1.0zM176.5 274.2h1.0v1.0h-1.0zM172.1 275.8h1.0v1.0h-1.0zM171.7 273.4h1.0v1.0h-1.0zM173.6 270.0h1.0v1.0h-1.0zM177.4 273.3h1.0v1.0h-1.0zM170.3 273.3h1.0v1.0h-1.0zM169.5 277.8h1.0v1.0h-1.0zM172.7 275.6h1.0v1.0h-1.0zM171.1 270.9h1.0v1.0h-1.0zM174.6 274.7h1.0v1.0h-1.0zM178.7 272.7h1.0v1.0h-1.0zM179.4 276.4h1.0v1.0h-1.0zM171.5 273.0h1.0v1.0h-1.0zM172.8 276.1h1.0v1.0h-1.0zM178.6 272.7h1.0v1.0h-1.0zM173.1 274.5h1.0v1.0h-1.0zM171.9 269.7h1.0v1.0h-1.0zM171.1 274.5h1.0v1.0h-1.0zM167.7 275.0h1.0v1.0h-1.0zM170.4 277.0h1.0v1.0h-1.0zM177.8 273.9h1.0v1.0h-1.0zM180.9 272.4h1.0v1.0h-1.0zM172.9 270.4h1.0v1.0h-1.0zM172.4 273.8h1.0v1.0h-1.0zM177.7 277.3h1.0v1.0h-1.0zM173.9 271.3h1.0v1.0h-1.0zM173.7 272.2h1.0v1.0h-1.0zM173.1 272.3h1.0v1.0h-1.0zM171.5 273.3h1.0v1.0h-1.0zM173.0 273.0h1.0v1.0h-1.0zM169.5 273.9h1.0v1.0h-1.0zM177.3 275.4h1.0v1.0h-1.0zM172.8 270.1h1.0v1.0h-1.0zM169.8 270.0h1.0v1.0h-1.0zM172.4 272.6h1.0v1.0h-1.0zM168.0 275.5h1.0v1.0h-1.0zM168.9 271.5h1.0v1.0h-1.0zM172.1 276.0h1.0v1.0h-1.0zM182.3 272.4h1.0v1.0h-1.0zM173.9 272.3h1.0v1.0h-1.0zM174.2 273.0h1.0v1.0h-1.0zM184.8 270.3h1.0v1.0h-1.0zM174.6 271.2h1.0v1.0h-1.0zM176.4 272.0h1.0v1.0h-1.0zM177.3 270.3h1.0v1.0h-1.0zM183.4 274.1h1.0v1.0h-1.0zM168.0 275.6h1.0v1.0h-1.0zM173.1 270.1h1.0v1.0h-1.0zM176.7 272.0h1.0v1.0h-1.0zM177.9 271.9h1.0v1.0h-1.0zM178.6 273.9h1.0v1.0h-1.0zM176.4 274.0h1.0v1.0h-1.0zM173.6 272.4h1.0v1.0h-1.0zM176.8 275.6h1.0v1.0h-1.0zM181.7 270.1h1.0v1.0h-1.0zM179.3 273.3h1.0v1.0h-1.0zM175.9 271.2h1.0v1.0h-1.0zM181.5 271.1h1.0v1.0h-1.0zM174.7 271.4h1.0v1.0h-1.0zM182.6 277.2h1.0v1.0h-1.0zM169.8 272.2h1.0v1.0h-1.0zM176.4 272.2h1.0v1.0h-1.0zM173.6 270.3h1.0v1.0h-1.0zM176.0 270.3h1.0v1.0h-1.0zM173.7 278.4h1.0v1.0h-1.0zM176.5 271.5h1.0v1.0h-1.0zM173.6 270.7h1.0v1.0h-1.0zM175.5 275.6h1.0v1.0h-1.0zM178.7 272.7h1.0v1.0h-1.0zM170.3 273.3h1.0v1.0h-1.0zM181.6 274.3h1.0v1.0h-1.0zM174.8 267.4h1.0v1.0h-1.0zM173.3 275.1h1.0v1.0h-1.0zM171.3 277.5h1.0v1.0h-1.0zM172.8 270.9h1.0v1.0h-1.0zM172.7 273.2h1.0v1.0h-1.0zM178.9 271.8h1.0v1.0h-1.0zM168.0 273.3h1.0v1.0h-1.0zM177.1 278.0h1.0v1.0h-1.0zM170.6 277.9h1.0v1.0h-1.0zM177.7 274.8h1.0v1.0h-1.0zM172.0 270.9h1.0v1.0h-1.0zM171.2 276.3h1.0v1.0h-1.0zM175.9 276.7h1.0v1.0h-1.0z" fill="#000" fill-opacity="0.35"/>
<line x1="180.5" y1="239.2" x2="180.5" y2="279.4" stroke="#8a8a8a" stroke-width="1"/>
<line x1="164.4" y1="267.4" x2="222.2" y2="267.4" stroke="#3a3a3a" stroke-width="1"/>
<line x1="164.4" y1="239.7" x2="222.2" y2="239.7" stroke="#8a8a8a" stroke-width="1"/>
<line x1="221.7" y1="239.2" x2="221.7" y2="279.4" stroke="#777" stroke-width="1"/>
<line x1="165.1" y1="239.2" x2="165.1" y2="280.0" stroke="#111" stroke-width="1.5"/>
<line x1="164.4" y1="278.7" x2="222.2" y2="278.7" stroke="#111" stroke-width="1.5"/>
<text transform="translate(150.18,245.60) scale(0.86,1.0)" font-size="7.9" fill="#111" stroke="#111" stroke-width="0.4">10</text>
<text transform="translate(158.26,242.10) scale(0.86,1)" font-size="6.00" fill="#111" stroke="#111" stroke-width="0.3">4</text>
<text transform="translate(150.18,254.90) scale(0.86,1.0)" font-size="7.9" fill="#111" stroke="#111" stroke-width="0.4">10</text>
<text transform="translate(158.18,251.40) scale(0.86,1)" font-size="6.00" fill="#111" stroke="#111" stroke-width="0.3">3</text>
<text transform="translate(150.18,264.90) scale(0.86,1.0)" font-size="7.9" fill="#111" stroke="#111" stroke-width="0.4">10</text>
<text transform="translate(158.11,261.40) scale(0.86,1)" font-size="6.00" fill="#111" stroke="#111" stroke-width="0.3">2</text>
<text transform="translate(150.18,275.00) scale(0.86,1.0)" font-size="7.9" fill="#111" stroke="#111" stroke-width="0.4">10</text>
<text transform="translate(157.98,271.50) scale(0.86,1)" font-size="6.00" fill="#111" stroke="#111" stroke-width="0.3">1</text>
<text transform="translate(150.18,284.80) scale(0.86,1.0)" font-size="7.9" fill="#111" stroke="#111" stroke-width="0.4">10</text>
<text transform="translate(158.17,281.30) scale(0.86,1)" font-size="6.00" fill="#111" stroke="#111" stroke-width="0.3">0</text>
<text transform="translate(154.58,291.80) scale(0.86,1.0)" font-size="7.9" fill="#111" stroke="#111" stroke-width="0.4">10</text>
<text transform="translate(162.57,288.30) scale(0.86,1)" font-size="6.00" fill="#111" stroke="#111" stroke-width="0.3">0</text>
<text transform="translate(169.68,291.80) scale(0.86,1.0)" font-size="7.9" fill="#111" stroke="#111" stroke-width="0.4">10</text>
<text transform="translate(177.48,288.30) scale(0.86,1)" font-size="6.00" fill="#111" stroke="#111" stroke-width="0.3">1</text>
<text transform="translate(182.78,291.80) scale(0.86,1.0)" font-size="7.9" fill="#111" stroke="#111" stroke-width="0.4">10</text>
<text transform="translate(190.71,288.30) scale(0.86,1)" font-size="6.00" fill="#111" stroke="#111" stroke-width="0.3">2</text>
<text transform="translate(197.18,291.80) scale(0.86,1.0)" font-size="7.9" fill="#111" stroke="#111" stroke-width="0.4">10</text>
<text transform="translate(205.18,288.30) scale(0.86,1)" font-size="6.00" fill="#111" stroke="#111" stroke-width="0.3">3</text>
<text transform="translate(210.28,291.80) scale(0.86,1.0)" font-size="7.9" fill="#111" stroke="#111" stroke-width="0.4">10</text>
<text transform="translate(218.36,288.30) scale(0.86,1)" font-size="6.00" fill="#111" stroke="#111" stroke-width="0.3">4</text>
<text transform="translate(167.87,250.00) scale(0.9824,1.0000)" font-size="8.6" font-weight="bold" font-style="normal" fill="#000" >14.1%</text>
<text transform="translate(199.71,255.00) scale(0.9807,1.0000)" font-size="8.6" font-weight="bold" font-style="normal" fill="#000" >25.0%</text>
<text transform="translate(202.84,276.90) scale(0.9710,1.0000)" font-size="8.6" font-weight="bold" font-style="normal" fill="#000" >50.9%</text>
<text transform="translate(145.83,282.82) rotate(-90) scale(1.0182,1.0000)" font-size="12.5" font-weight="bold" font-style="normal" fill="#000">CD62L</text>
<text transform="translate(178.01,304.60) scale(1.0173,1.0000)" font-size="12.3" font-weight="bold" font-style="normal" fill="#000" >4-1BB</text>
<path d="M177.5 336.0h1.0v1.0h-1.0zM172.9 340.3h1.0v1.0h-1.0zM169.8 335.0h1.0v1.0h-1.0zM172.1 335.2h1.0v1.0h-1.0zM173.4 334.1h1.0v1.0h-1.0zM175.9 332.9h1.0v1.0h-1.0zM171.0 332.2h1.0v1.0h-1.0zM169.6 337.3h1.0v1.0h-1.0zM174.5 335.6h1.0v1.0h-1.0zM175.1 337.4h1.0v1.0h-1.0zM171.6 335.9h1.0v1.0h-1.0zM173.9 340.5h1.0v1.0h-1.0zM171.9 336.8h1.0v1.0h-1.0zM174.3 338.8h1.0v1.0h-1.0zM174.0 338.4h1.0v1.0h-1.0zM170.4 335.4h1.0v1.0h-1.0zM168.2 335.9h1.0v1.0h-1.0zM178.7 336.6h1.0v1.0h-1.0zM173.2 336.6h1.0v1.0h-1.0zM173.4 333.0h1.0v1.0h-1.0zM171.3 335.6h1.0v1.0h-1.0zM173.4 334.1h1.0v1.0h-1.0zM172.7 334.4h1.0v1.0h-1.0zM169.8 334.5h1.0v1.0h-1.0zM171.0 337.9h1.0v1.0h-1.0zM176.3 337.3h1.0v1.0h-1.0zM172.5 334.8h1.0v1.0h-1.0zM169.1 334.8h1.0v1.0h-1.0zM176.8 338.6h1.0v1.0h-1.0zM173.6 335.5h1.0v1.0h-1.0zM173.0 337.0h1.0v1.0h-1.0zM173.0 337.0h1.0v1.0h-1.0zM171.1 336.1h1.0v1.0h-1.0zM172.1 338.4h1.0v1.0h-1.0zM170.0 338.9h1.0v1.0h-1.0zM172.8 334.9h1.0v1.0h-1.0zM173.1 336.3h1.0v1.0h-1.0zM172.4 337.0h1.0v1.0h-1.0zM171.6 332.2h1.0v1.0h-1.0zM174.7 336.0h1.0v1.0h-1.0zM177.1 336.9h1.0v1.0h-1.0zM168.1 338.8h1.0v1.0h-1.0zM171.3 337.2h1.0v1.0h-1.0zM178.5 338.5h1.0v1.0h-1.0zM170.3 335.8h1.0v1.0h-1.0zM169.1 337.5h1.0v1.0h-1.0zM174.4 333.7h1.0v1.0h-1.0zM174.1 338.1h1.0v1.0h-1.0zM175.0 334.5h1.0v1.0h-1.0zM171.3 333.5h1.0v1.0h-1.0zM169.8 336.7h1.0v1.0h-1.0zM173.1 338.9h1.0v1.0h-1.0zM173.7 335.3h1.0v1.0h-1.0zM169.5 339.5h1.0v1.0h-1.0zM173.4 335.9h1.0v1.0h-1.0zM170.5 333.7h1.0v1.0h-1.0zM174.6 333.8h1.0v1.0h-1.0zM174.4 337.4h1.0v1.0h-1.0zM172.1 332.4h1.0v1.0h-1.0zM174.0 339.2h1.0v1.0h-1.0zM171.0 333.2h1.0v1.0h-1.0zM175.7 336.3h1.0v1.0h-1.0zM171.5 338.8h1.0v1.0h-1.0zM172.3 337.0h1.0v1.0h-1.0zM172.0 334.3h1.0v1.0h-1.0zM173.5 334.1h1.0v1.0h-1.0zM168.6 334.8h1.0v1.0h-1.0zM176.0 338.5h1.0v1.0h-1.0zM178.3 338.2h1.0v1.0h-1.0zM177.0 336.6h1.0v1.0h-1.0zM171.9 337.1h1.0v1.0h-1.0zM170.7 337.7h1.0v1.0h-1.0zM171.9 336.6h1.0v1.0h-1.0zM170.9 335.7h1.0v1.0h-1.0zM175.4 335.5h1.0v1.0h-1.0zM171.3 336.7h1.0v1.0h-1.0zM175.2 335.6h1.0v1.0h-1.0zM170.1 332.5h1.0v1.0h-1.0zM169.7 338.4h1.0v1.0h-1.0zM172.8 337.1h1.0v1.0h-1.0zM175.6 336.7h1.0v1.0h-1.0zM174.2 334.9h1.0v1.0h-1.0zM169.1 337.4h1.0v1.0h-1.0zM172.8 337.3h1.0v1.0h-1.0zM170.4 335.7h1.0v1.0h-1.0zM177.9 334.2h1.0v1.0h-1.0zM173.2 338.9h1.0v1.0h-1.0zM172.4 336.3h1.0v1.0h-1.0zM167.8 337.8h1.0v1.0h-1.0zM171.9 338.9h1.0v1.0h-1.0zM172.8 335.2h1.0v1.0h-1.0zM174.1 335.5h1.0v1.0h-1.0zM171.7 339.5h1.0v1.0h-1.0zM175.4 336.3h1.0v1.0h-1.0zM175.0 337.9h1.0v1.0h-1.0zM174.4 336.1h1.0v1.0h-1.0zM173.2 336.9h1.0v1.0h-1.0zM174.4 336.8h1.0v1.0h-1.0zM171.7 335.9h1.0v1.0h-1.0zM174.1 333.8h1.0v1.0h-1.0zM173.0 337.7h1.0v1.0h-1.0zM173.4 335.4h1.0v1.0h-1.0zM172.9 335.0h1.0v1.0h-1.0zM175.4 335.2h1.0v1.0h-1.0zM168.9 333.4h1.0v1.0h-1.0zM173.7 336.5h1.0v1.0h-1.0zM171.8 333.1h1.0v1.0h-1.0zM172.6 334.2h1.0v1.0h-1.0zM171.4 336.0h1.0v1.0h-1.0zM171.1 336.7h1.0v1.0h-1.0zM171.2 335.0h1.0v1.0h-1.0zM172.4 339.3h1.0v1.0h-1.0zM176.9 338.1h1.0v1.0h-1.0zM171.2 336.0h1.0v1.0h-1.0zM175.2 337.8h1.0v1.0h-1.0zM169.0 335.9h1.0v1.0h-1.0zM171.2 337.7h1.0v1.0h-1.0zM174.6 334.9h1.0v1.0h-1.0zM178.2 335.4h1.0v1.0h-1.0zM179.0 335.7h1.0v1.0h-1.0zM172.8 340.2h1.0v1.0h-1.0zM171.7 335.0h1.0v1.0h-1.0zM176.6 335.9h1.0v1.0h-1.0zM174.2 333.3h1.0v1.0h-1.0zM177.4 338.2h1.0v1.0h-1.0zM173.9 337.6h1.0v1.0h-1.0zM171.8 335.0h1.0v1.0h-1.0zM169.2 336.8h1.0v1.0h-1.0zM176.0 337.9h1.0v1.0h-1.0zM175.3 337.6h1.0v1.0h-1.0zM170.7 333.2h1.0v1.0h-1.0zM174.6 336.4h1.0v1.0h-1.0zM175.4 335.4h1.0v1.0h-1.0zM170.8 337.0h1.0v1.0h-1.0zM171.6 332.4h1.0v1.0h-1.0zM171.5 334.1h1.0v1.0h-1.0zM170.3 334.8h1.0v1.0h-1.0zM175.3 341.2h1.0v1.0h-1.0zM177.2 335.1h1.0v1.0h-1.0zM175.8 335.9h1.0v1.0h-1.0zM174.0 334.6h1.0v1.0h-1.0zM172.8 332.4h1.0v1.0h-1.0zM177.4 334.4h1.0v1.0h-1.0zM174.4 334.8h1.0v1.0h-1.0zM173.7 333.5h1.0v1.0h-1.0zM172.1 338.0h1.0v1.0h-1.0zM174.5 331.8h1.0v1.0h-1.0zM175.1 333.2h1.0v1.0h-1.0zM173.7 337.2h1.0v1.0h-1.0zM171.4 335.3h1.0v1.0h-1.0zM172.4 336.9h1.0v1.0h-1.0zM175.2 339.0h1.0v1.0h-1.0zM173.8 340.4h1.0v1.0h-1.0zM170.7 339.9h1.0v1.0h-1.0zM172.4 337.7h1.0v1.0h-1.0zM172.7 336.2h1.0v1.0h-1.0zM170.8 336.9h1.0v1.0h-1.0zM178.0 336.4h1.0v1.0h-1.0zM172.9 336.0h1.0v1.0h-1.0zM174.7 335.6h1.0v1.0h-1.0zM173.0 336.5h1.0v1.0h-1.0zM176.2 338.1h1.0v1.0h-1.0zM170.4 334.7h1.0v1.0h-1.0zM173.0 337.9h1.0v1.0h-1.0zM175.4 335.6h1.0v1.0h-1.0zM178.2 335.7h1.0v1.0h-1.0zM176.4 339.1h1.0v1.0h-1.0zM176.9 336.5h1.0v1.0h-1.0zM174.4 332.7h1.0v1.0h-1.0zM168.6 334.7h1.0v1.0h-1.0zM174.8 338.4h1.0v1.0h-1.0zM172.7 338.3h1.0v1.0h-1.0zM174.4 339.4h1.0v1.0h-1.0zM169.1 334.2h1.0v1.0h-1.0zM170.7 333.8h1.0v1.0h-1.0zM177.0 334.0h1.0v1.0h-1.0zM171.0 335.2h1.0v1.0h-1.0zM175.2 335.0h1.0v1.0h-1.0zM174.8 337.2h1.0v1.0h-1.0zM171.4 330.9h1.0v1.0h-1.0zM170.8 333.3h1.0v1.0h-1.0zM177.0 334.5h1.0v1.0h-1.0zM170.4 336.9h1.0v1.0h-1.0zM173.1 334.0h1.0v1.0h-1.0zM175.7 338.0h1.0v1.0h-1.0zM173.7 334.4h1.0v1.0h-1.0zM170.9 331.6h1.0v1.0h-1.0zM173.9 336.9h1.0v1.0h-1.0zM170.7 336.1h1.0v1.0h-1.0zM181.0 333.6h1.0v1.0h-1.0zM168.8 337.4h1.0v1.0h-1.0zM172.0 335.0h1.0v1.0h-1.0zM174.5 335.7h1.0v1.0h-1.0zM175.4 337.2h1.0v1.0h-1.0zM175.8 336.3h1.0v1.0h-1.0zM167.7 339.0h1.0v1.0h-1.0zM168.8 338.3h1.0v1.0h-1.0zM173.6 333.0h1.0v1.0h-1.0zM173.2 338.0h1.0v1.0h-1.0zM170.5 336.1h1.0v1.0h-1.0zM171.2 333.8h1.0v1.0h-1.0zM171.5 338.8h1.0v1.0h-1.0zM174.7 336.0h1.0v1.0h-1.0zM172.8 336.3h1.0v1.0h-1.0zM173.7 336.4h1.0v1.0h-1.0zM168.8 338.0h1.0v1.0h-1.0zM170.9 330.3h1.0v1.0h-1.0zM174.7 333.4h1.0v1.0h-1.0zM172.7 335.8h1.0v1.0h-1.0zM171.6 337.2h1.0v1.0h-1.0zM172.3 335.4h1.0v1.0h-1.0zM170.7 335.4h1.0v1.0h-1.0zM170.5 336.1h1.0v1.0h-1.0zM176.2 338.2h1.0v1.0h-1.0zM174.1 333.0h1.0v1.0h-1.0zM175.5 338.1h1.0v1.0h-1.0zM178.1 331.1h1.0v1.0h-1.0zM173.0 335.3h1.0v1.0h-1.0zM175.7 333.6h1.0v1.0h-1.0zM172.1 341.1h1.0v1.0h-1.0zM175.4 331.7h1.0v1.0h-1.0zM173.1 339.0h1.0v1.0h-1.0zM171.5 337.3h1.0v1.0h-1.0zM173.2 332.8h1.0v1.0h-1.0zM171.5 338.5h1.0v1.0h-1.0zM175.9 334.7h1.0v1.0h-1.0zM175.8 334.5h1.0v1.0h-1.0zM173.6 336.0h1.0v1.0h-1.0zM169.9 336.7h1.0v1.0h-1.0zM172.0 330.0h1.0v1.0h-1.0zM171.0 334.2h1.0v1.0h-1.0zM170.9 333.9h1.0v1.0h-1.0zM171.3 330.6h1.0v1.0h-1.0zM175.2 336.2h1.0v1.0h-1.0zM173.6 335.4h1.0v1.0h-1.0zM173.2 335.4h1.0v1.0h-1.0zM170.3 332.7h1.0v1.0h-1.0zM173.2 338.2h1.0v1.0h-1.0zM173.6 339.6h1.0v1.0h-1.0zM169.6 335.4h1.0v1.0h-1.0zM171.5 338.7h1.0v1.0h-1.0zM177.2 334.9h1.0v1.0h-1.0zM174.8 335.5h1.0v1.0h-1.0zM170.5 335.8h1.0v1.0h-1.0zM170.4 339.4h1.0v1.0h-1.0zM174.5 338.6h1.0v1.0h-1.0zM173.9 330.7h1.0v1.0h-1.0zM175.0 336.2h1.0v1.0h-1.0zM167.1 336.2h1.0v1.0h-1.0zM175.5 339.8h1.0v1.0h-1.0zM170.5 337.7h1.0v1.0h-1.0zM173.8 335.6h1.0v1.0h-1.0zM172.3 337.2h1.0v1.0h-1.0zM174.4 337.5h1.0v1.0h-1.0zM172.0 333.1h1.0v1.0h-1.0zM176.2 338.9h1.0v1.0h-1.0zM171.6 335.9h1.0v1.0h-1.0zM175.0 332.1h1.0v1.0h-1.0zM174.2 341.3h1.0v1.0h-1.0zM173.7 334.5h1.0v1.0h-1.0zM178.0 336.0h1.0v1.0h-1.0zM173.5 335.1h1.0v1.0h-1.0zM173.4 332.1h1.0v1.0h-1.0zM169.8 332.8h1.0v1.0h-1.0zM175.2 335.8h1.0v1.0h-1.0zM175.8 331.5h1.0v1.0h-1.0zM171.5 339.2h1.0v1.0h-1.0zM171.1 331.9h1.0v1.0h-1.0zM171.2 335.2h1.0v1.0h-1.0zM173.0 338.9h1.0v1.0h-1.0zM176.3 339.4h1.0v1.0h-1.0zM174.4 334.9h1.0v1.0h-1.0zM171.8 332.7h1.0v1.0h-1.0zM176.1 338.8h1.0v1.0h-1.0zM173.2 334.0h1.0v1.0h-1.0zM174.7 337.1h1.0v1.0h-1.0zM173.4 333.4h1.0v1.0h-1.0zM173.6 334.8h1.0v1.0h-1.0zM174.8 337.3h1.0v1.0h-1.0zM174.1 335.1h1.0v1.0h-1.0zM176.7 337.7h1.0v1.0h-1.0zM176.1 337.9h1.0v1.0h-1.0zM174.6 336.9h1.0v1.0h-1.0zM170.4 332.0h1.0v1.0h-1.0zM170.7 337.4h1.0v1.0h-1.0zM175.2 336.4h1.0v1.0h-1.0zM173.2 340.1h1.0v1.0h-1.0zM172.0 332.1h1.0v1.0h-1.0zM169.2 335.3h1.0v1.0h-1.0zM174.7 337.6h1.0v1.0h-1.0zM172.5 337.8h1.0v1.0h-1.0zM172.9 334.4h1.0v1.0h-1.0zM172.1 337.7h1.0v1.0h-1.0zM175.3 333.5h1.0v1.0h-1.0zM170.6 336.3h1.0v1.0h-1.0zM178.2 333.4h1.0v1.0h-1.0zM169.9 336.9h1.0v1.0h-1.0zM174.2 334.7h1.0v1.0h-1.0zM172.9 337.1h1.0v1.0h-1.0zM168.7 336.0h1.0v1.0h-1.0zM174.5 338.0h1.0v1.0h-1.0zM175.9 335.8h1.0v1.0h-1.0zM169.5 339.0h1.0v1.0h-1.0zM174.9 334.6h1.0v1.0h-1.0zM175.5 338.3h1.0v1.0h-1.0zM172.7 330.8h1.0v1.0h-1.0zM171.9 334.3h1.0v1.0h-1.0zM170.9 335.8h1.0v1.0h-1.0zM170.4 336.9h1.0v1.0h-1.0zM177.6 333.4h1.0v1.0h-1.0zM175.6 334.8h1.0v1.0h-1.0zM174.3 335.7h1.0v1.0h-1.0zM176.1 334.4h1.0v1.0h-1.0zM174.8 334.3h1.0v1.0h-1.0zM173.6 336.0h1.0v1.0h-1.0zM175.7 332.5h1.0v1.0h-1.0zM169.7 339.1h1.0v1.0h-1.0zM173.9 339.7h1.0v1.0h-1.0zM170.5 336.5h1.0v1.0h-1.0zM174.5 339.9h1.0v1.0h-1.0zM172.9 335.0h1.0v1.0h-1.0zM174.8 335.8h1.0v1.0h-1.0zM171.2 337.7h1.0v1.0h-1.0zM168.3 333.8h1.0v1.0h-1.0zM176.3 334.9h1.0v1.0h-1.0zM172.2 336.8h1.0v1.0h-1.0zM175.7 337.2h1.0v1.0h-1.0zM170.6 334.7h1.0v1.0h-1.0zM175.6 335.7h1.0v1.0h-1.0zM171.5 337.9h1.0v1.0h-1.0zM175.8 340.8h1.0v1.0h-1.0zM170.4 334.4h1.0v1.0h-1.0zM171.3 336.8h1.0v1.0h-1.0zM171.8 338.5h1.0v1.0h-1.0zM166.4 338.1h1.0v1.0h-1.0zM171.4 335.4h1.0v1.0h-1.0zM174.4 336.4h1.0v1.0h-1.0zM170.5 339.3h1.0v1.0h-1.0zM174.4 334.9h1.0v1.0h-1.0zM173.5 333.6h1.0v1.0h-1.0zM170.0 335.3h1.0v1.0h-1.0zM173.9 336.2h1.0v1.0h-1.0zM171.1 332.9h1.0v1.0h-1.0zM168.9 339.5h1.0v1.0h-1.0zM173.9 334.2h1.0v1.0h-1.0zM175.9 337.2h1.0v1.0h-1.0zM172.0 334.6h1.0v1.0h-1.0zM175.8 336.7h1.0v1.0h-1.0zM177.0 336.8h1.0v1.0h-1.0zM171.6 334.7h1.0v1.0h-1.0zM171.3 336.6h1.0v1.0h-1.0zM173.6 337.3h1.0v1.0h-1.0zM174.1 333.7h1.0v1.0h-1.0zM172.5 333.9h1.0v1.0h-1.0zM174.2 333.1h1.0v1.0h-1.0zM171.6 334.1h1.0v1.0h-1.0zM171.5 335.4h1.0v1.0h-1.0zM176.7 335.4h1.0v1.0h-1.0zM169.5 335.3h1.0v1.0h-1.0zM174.8 337.2h1.0v1.0h-1.0zM173.6 340.4h1.0v1.0h-1.0zM175.7 336.2h1.0v1.0h-1.0zM176.0 333.0h1.0v1.0h-1.0zM172.6 334.1h1.0v1.0h-1.0zM173.4 339.6h1.0v1.0h-1.0zM171.8 339.5h1.0v1.0h-1.0zM170.5 339.1h1.0v1.0h-1.0zM168.9 334.1h1.0v1.0h-1.0zM175.4 335.8h1.0v1.0h-1.0zM173.4 336.0h1.0v1.0h-1.0zM173.4 335.6h1.0v1.0h-1.0zM170.6 335.4h1.0v1.0h-1.0zM173.3 334.0h1.0v1.0h-1.0zM174.1 339.9h1.0v1.0h-1.0zM169.0 334.8h1.0v1.0h-1.0zM172.3 336.0h1.0v1.0h-1.0zM173.2 334.4h1.0v1.0h-1.0zM172.9 336.0h1.0v1.0h-1.0zM172.8 339.4h1.0v1.0h-1.0zM173.3 332.7h1.0v1.0h-1.0zM169.2 337.3h1.0v1.0h-1.0zM172.2 334.6h1.0v1.0h-1.0zM169.7 335.3h1.0v1.0h-1.0zM172.8 334.5h1.0v1.0h-1.0zM172.1 338.0h1.0v1.0h-1.0zM174.9 337.2h1.0v1.0h-1.0zM172.6 333.0h1.0v1.0h-1.0zM174.9 339.3h1.0v1.0h-1.0zM176.1 338.6h1.0v1.0h-1.0zM173.7 336.8h1.0v1.0h-1.0zM173.0 338.8h1.0v1.0h-1.0zM172.3 340.7h1.0v1.0h-1.0zM174.9 335.3h1.0v1.0h-1.0zM173.0 332.5h1.0v1.0h-1.0zM171.2 335.3h1.0v1.0h-1.0zM178.9 334.2h1.0v1.0h-1.0zM175.2 336.2h1.0v1.0h-1.0zM172.3 337.4h1.0v1.0h-1.0zM168.2 338.1h1.0v1.0h-1.0zM177.7 336.7h1.0v1.0h-1.0zM172.9 336.4h1.0v1.0h-1.0zM174.6 334.9h1.0v1.0h-1.0zM173.3 337.1h1.0v1.0h-1.0zM172.2 336.9h1.0v1.0h-1.0zM173.8 337.6h1.0v1.0h-1.0zM170.6 334.8h1.0v1.0h-1.0zM172.0 338.6h1.0v1.0h-1.0zM173.6 332.4h1.0v1.0h-1.0zM169.9 340.3h1.0v1.0h-1.0zM173.8 333.1h1.0v1.0h-1.0zM170.8 336.3h1.0v1.0h-1.0zM176.5 339.6h1.0v1.0h-1.0zM172.1 335.3h1.0v1.0h-1.0zM177.7 333.8h1.0v1.0h-1.0zM176.8 336.7h1.0v1.0h-1.0zM173.2 338.8h1.0v1.0h-1.0zM174.2 334.2h1.0v1.0h-1.0zM169.3 336.0h1.0v1.0h-1.0zM174.2 339.0h1.0v1.0h-1.0zM166.7 339.0h1.0v1.0h-1.0zM174.5 339.3h1.0v1.0h-1.0zM174.9 336.5h1.0v1.0h-1.0zM174.0 336.9h1.0v1.0h-1.0zM171.5 335.7h1.0v1.0h-1.0zM173.3 335.0h1.0v1.0h-1.0zM169.4 332.8h1.0v1.0h-1.0zM174.2 337.2h1.0v1.0h-1.0zM173.3 333.4h1.0v1.0h-1.0zM175.1 335.1h1.0v1.0h-1.0zM168.0 339.5h1.0v1.0h-1.0zM169.4 341.0h1.0v1.0h-1.0zM174.3 335.0h1.0v1.0h-1.0zM167.3 334.4h1.0v1.0h-1.0zM176.6 339.0h1.0v1.0h-1.0zM173.6 332.2h1.0v1.0h-1.0zM172.1 335.4h1.0v1.0h-1.0zM174.1 335.7h1.0v1.0h-1.0zM173.8 332.4h1.0v1.0h-1.0zM171.4 339.2h1.0v1.0h-1.0zM169.5 338.0h1.0v1.0h-1.0zM178.6 337.4h1.0v1.0h-1.0zM169.6 338.8h1.0v1.0h-1.0zM168.5 336.7h1.0v1.0h-1.0zM172.0 338.7h1.0v1.0h-1.0zM175.9 336.4h1.0v1.0h-1.0zM177.4 338.2h1.0v1.0h-1.0zM171.8 333.8h1.0v1.0h-1.0zM179.0 335.1h1.0v1.0h-1.0zM174.0 335.7h1.0v1.0h-1.0zM171.9 332.4h1.0v1.0h-1.0zM172.6 335.7h1.0v1.0h-1.0zM175.4 334.9h1.0v1.0h-1.0zM169.2 333.6h1.0v1.0h-1.0zM172.9 336.6h1.0v1.0h-1.0zM174.8 335.2h1.0v1.0h-1.0zM174.3 336.3h1.0v1.0h-1.0zM177.1 335.9h1.0v1.0h-1.0zM173.4 337.3h1.0v1.0h-1.0zM176.0 334.0h1.0v1.0h-1.0zM171.9 335.4h1.0v1.0h-1.0zM167.8 338.9h1.0v1.0h-1.0zM175.6 336.0h1.0v1.0h-1.0zM181.2 338.8h1.0v1.0h-1.0zM177.9 339.5h1.0v1.0h-1.0zM175.2 332.9h1.0v1.0h-1.0zM176.7 336.9h1.0v1.0h-1.0zM170.1 336.1h1.0v1.0h-1.0zM174.8 338.2h1.0v1.0h-1.0zM173.4 334.8h1.0v1.0h-1.0zM174.9 334.3h1.0v1.0h-1.0zM172.8 337.7h1.0v1.0h-1.0zM169.5 336.8h1.0v1.0h-1.0zM168.2 333.9h1.0v1.0h-1.0zM170.0 335.8h1.0v1.0h-1.0zM174.7 335.9h1.0v1.0h-1.0zM175.2 336.2h1.0v1.0h-1.0zM172.5 337.1h1.0v1.0h-1.0zM172.4 336.3h1.0v1.0h-1.0zM175.5 334.7h1.0v1.0h-1.0zM175.8 333.5h1.0v1.0h-1.0zM172.5 332.2h1.0v1.0h-1.0zM171.7 339.5h1.0v1.0h-1.0zM173.9 338.8h1.0v1.0h-1.0zM169.4 333.8h1.0v1.0h-1.0zM174.1 337.8h1.0v1.0h-1.0zM175.0 332.3h1.0v1.0h-1.0zM174.2 335.8h1.0v1.0h-1.0zM173.3 337.1h1.0v1.0h-1.0zM172.3 332.2h1.0v1.0h-1.0zM170.4 332.8h1.0v1.0h-1.0zM169.8 335.7h1.0v1.0h-1.0zM176.2 334.4h1.0v1.0h-1.0zM171.1 333.5h1.0v1.0h-1.0zM168.8 336.1h1.0v1.0h-1.0zM171.8 335.5h1.0v1.0h-1.0zM170.7 337.1h1.0v1.0h-1.0zM170.1 337.2h1.0v1.0h-1.0zM171.4 337.7h1.0v1.0h-1.0zM170.8 337.0h1.0v1.0h-1.0zM174.1 335.8h1.0v1.0h-1.0zM177.0 336.4h1.0v1.0h-1.0zM170.8 337.5h1.0v1.0h-1.0zM171.0 334.8h1.0v1.0h-1.0zM173.0 336.4h1.0v1.0h-1.0zM177.1 332.1h1.0v1.0h-1.0zM172.4 338.5h1.0v1.0h-1.0zM172.6 336.7h1.0v1.0h-1.0zM176.7 333.3h1.0v1.0h-1.0zM173.1 337.8h1.0v1.0h-1.0zM171.6 332.1h1.0v1.0h-1.0zM170.6 336.4h1.0v1.0h-1.0zM173.5 340.1h1.0v1.0h-1.0zM176.2 332.6h1.0v1.0h-1.0zM175.5 338.0h1.0v1.0h-1.0zM176.9 335.7h1.0v1.0h-1.0zM171.6 336.3h1.0v1.0h-1.0zM176.8 337.4h1.0v1.0h-1.0zM177.1 337.7h1.0v1.0h-1.0zM171.6 333.8h1.0v1.0h-1.0zM177.5 332.6h1.0v1.0h-1.0zM172.1 335.3h1.0v1.0h-1.0zM170.8 334.7h1.0v1.0h-1.0zM173.0 341.3h1.0v1.0h-1.0zM172.8 334.8h1.0v1.0h-1.0zM173.3 338.1h1.0v1.0h-1.0zM171.0 335.1h1.0v1.0h-1.0zM168.7 337.6h1.0v1.0h-1.0zM174.7 339.3h1.0v1.0h-1.0zM170.1 340.8h1.0v1.0h-1.0zM175.1 335.4h1.0v1.0h-1.0zM172.0 335.3h1.0v1.0h-1.0zM170.0 337.7h1.0v1.0h-1.0zM171.5 334.4h1.0v1.0h-1.0zM174.3 336.3h1.0v1.0h-1.0zM171.6 335.5h1.0v1.0h-1.0zM171.8 339.0h1.0v1.0h-1.0zM175.4 334.4h1.0v1.0h-1.0zM172.9 339.1h1.0v1.0h-1.0zM172.3 340.0h1.0v1.0h-1.0zM174.1 337.5h1.0v1.0h-1.0zM167.9 337.9h1.0v1.0h-1.0zM173.8 337.3h1.0v1.0h-1.0zM174.2 337.2h1.0v1.0h-1.0zM171.8 338.0h1.0v1.0h-1.0zM173.2 333.7h1.0v1.0h-1.0zM170.5 336.4h1.0v1.0h-1.0zM173.8 331.1h1.0v1.0h-1.0zM168.0 338.3h1.0v1.0h-1.0zM173.0 342.3h1.0v1.0h-1.0zM169.3 335.4h1.0v1.0h-1.0zM171.5 337.2h1.0v1.0h-1.0zM176.4 339.6h1.0v1.0h-1.0zM170.5 338.8h1.0v1.0h-1.0zM170.0 336.7h1.0v1.0h-1.0zM173.4 337.4h1.0v1.0h-1.0zM171.0 339.0h1.0v1.0h-1.0zM172.8 336.0h1.0v1.0h-1.0zM172.4 333.6h1.0v1.0h-1.0zM174.8 336.7h1.0v1.0h-1.0zM174.1 340.2h1.0v1.0h-1.0zM170.9 335.4h1.0v1.0h-1.0zM173.0 337.9h1.0v1.0h-1.0zM172.6 338.1h1.0v1.0h-1.0zM174.1 332.1h1.0v1.0h-1.0zM171.3 331.5h1.0v1.0h-1.0zM172.3 335.1h1.0v1.0h-1.0zM174.4 336.4h1.0v1.0h-1.0zM172.8 338.8h1.0v1.0h-1.0zM174.5 333.3h1.0v1.0h-1.0zM171.3 336.7h1.0v1.0h-1.0zM177.2 335.6h1.0v1.0h-1.0zM172.6 336.6h1.0v1.0h-1.0zM174.9 335.8h1.0v1.0h-1.0zM173.7 335.1h1.0v1.0h-1.0zM171.7 334.2h1.0v1.0h-1.0zM174.6 334.8h1.0v1.0h-1.0zM174.3 336.9h1.0v1.0h-1.0zM175.4 330.0h1.0v1.0h-1.0zM170.6 333.3h1.0v1.0h-1.0zM172.6 337.8h1.0v1.0h-1.0zM179.2 339.4h1.0v1.0h-1.0zM176.3 336.9h1.0v1.0h-1.0zM172.1 337.2h1.0v1.0h-1.0zM167.7 338.1h1.0v1.0h-1.0zM173.0 337.4h1.0v1.0h-1.0zM170.5 333.6h1.0v1.0h-1.0zM171.4 335.9h1.0v1.0h-1.0zM173.9 335.2h1.0v1.0h-1.0zM173.9 337.5h1.0v1.0h-1.0zM170.2 335.8h1.0v1.0h-1.0zM169.2 334.8h1.0v1.0h-1.0zM175.2 334.4h1.0v1.0h-1.0zM177.6 337.1h1.0v1.0h-1.0zM175.2 336.2h1.0v1.0h-1.0zM175.1 338.4h1.0v1.0h-1.0zM173.3 334.8h1.0v1.0h-1.0zM171.7 340.3h1.0v1.0h-1.0zM172.6 335.0h1.0v1.0h-1.0zM171.3 332.2h1.0v1.0h-1.0zM171.8 336.7h1.0v1.0h-1.0zM171.8 334.3h1.0v1.0h-1.0zM174.0 337.0h1.0v1.0h-1.0zM171.9 336.7h1.0v1.0h-1.0zM170.6 337.9h1.0v1.0h-1.0zM170.6 335.2h1.0v1.0h-1.0zM173.3 335.1h1.0v1.0h-1.0zM170.2 340.7h1.0v1.0h-1.0zM176.7 332.1h1.0v1.0h-1.0zM173.3 333.2h1.0v1.0h-1.0zM173.8 333.1h1.0v1.0h-1.0zM174.4 337.2h1.0v1.0h-1.0zM177.2 338.7h1.0v1.0h-1.0zM171.9 338.1h1.0v1.0h-1.0zM171.9 335.7h1.0v1.0h-1.0zM171.8 332.1h1.0v1.0h-1.0zM174.5 331.5h1.0v1.0h-1.0zM172.4 337.2h1.0v1.0h-1.0zM173.3 332.5h1.0v1.0h-1.0zM171.4 337.5h1.0v1.0h-1.0zM175.7 339.6h1.0v1.0h-1.0zM168.6 337.0h1.0v1.0h-1.0zM171.8 337.7h1.0v1.0h-1.0zM168.9 335.7h1.0v1.0h-1.0zM174.7 334.6h1.0v1.0h-1.0zM172.1 333.8h1.0v1.0h-1.0zM175.7 333.0h1.0v1.0h-1.0zM170.8 335.3h1.0v1.0h-1.0zM172.2 340.7h1.0v1.0h-1.0zM173.7 334.1h1.0v1.0h-1.0zM174.4 336.8h1.0v1.0h-1.0zM173.7 335.9h1.0v1.0h-1.0zM174.1 333.4h1.0v1.0h-1.0zM170.1 335.0h1.0v1.0h-1.0zM170.3 337.6h1.0v1.0h-1.0zM177.7 338.8h1.0v1.0h-1.0zM174.1 336.8h1.0v1.0h-1.0zM171.3 333.1h1.0v1.0h-1.0zM174.3 332.7h1.0v1.0h-1.0zM173.7 335.7h1.0v1.0h-1.0zM174.8 336.1h1.0v1.0h-1.0zM173.3 334.7h1.0v1.0h-1.0zM168.8 335.2h1.0v1.0h-1.0zM174.7 338.3h1.0v1.0h-1.0zM176.4 333.8h1.0v1.0h-1.0zM170.7 337.6h1.0v1.0h-1.0zM171.9 341.8h1.0v1.0h-1.0zM173.8 332.6h1.0v1.0h-1.0zM171.6 339.5h1.0v1.0h-1.0zM168.5 336.3h1.0v1.0h-1.0zM169.6 339.6h1.0v1.0h-1.0zM171.9 333.7h1.0v1.0h-1.0zM168.8 334.4h1.0v1.0h-1.0zM166.8 334.9h1.0v1.0h-1.0zM178.3 336.2h1.0v1.0h-1.0zM172.4 333.4h1.0v1.0h-1.0zM173.8 334.9h1.0v1.0h-1.0zM170.9 339.1h1.0v1.0h-1.0zM174.1 334.0h1.0v1.0h-1.0zM176.6 335.9h1.0v1.0h-1.0zM174.2 336.3h1.0v1.0h-1.0zM175.9 337.4h1.0v1.0h-1.0zM172.2 337.6h1.0v1.0h-1.0zM172.0 336.3h1.0v1.0h-1.0zM177.0 333.6h1.0v1.0h-1.0zM170.5 335.1h1.0v1.0h-1.0zM171.8 338.9h1.0v1.0h-1.0zM169.1 341.1h1.0v1.0h-1.0zM176.9 335.0h1.0v1.0h-1.0zM173.5 335.2h1.0v1.0h-1.0zM174.6 337.5h1.0v1.0h-1.0zM174.8 337.7h1.0v1.0h-1.0zM177.7 335.6h1.0v1.0h-1.0zM174.7 335.6h1.0v1.0h-1.0zM173.1 336.5h1.0v1.0h-1.0zM172.9 336.8h1.0v1.0h-1.0zM170.9 335.7h1.0v1.0h-1.0zM171.5 333.4h1.0v1.0h-1.0zM171.3 334.9h1.0v1.0h-1.0zM172.6 332.5h1.0v1.0h-1.0zM172.4 333.5h1.0v1.0h-1.0zM171.0 336.4h1.0v1.0h-1.0zM175.7 336.6h1.0v1.0h-1.0zM171.8 335.0h1.0v1.0h-1.0zM176.3 332.4h1.0v1.0h-1.0zM175.8 332.6h1.0v1.0h-1.0zM171.4 336.1h1.0v1.0h-1.0zM172.5 339.7h1.0v1.0h-1.0zM174.2 335.9h1.0v1.0h-1.0zM175.3 336.1h1.0v1.0h-1.0zM171.0 338.5h1.0v1.0h-1.0zM176.7 338.9h1.0v1.0h-1.0zM170.1 340.3h1.0v1.0h-1.0zM172.0 337.7h1.0v1.0h-1.0zM175.9 341.3h1.0v1.0h-1.0zM169.0 333.7h1.0v1.0h-1.0zM175.9 337.1h1.0v1.0h-1.0zM172.2 329.4h1.0v1.0h-1.0zM174.1 335.6h1.0v1.0h-1.0zM166.6 342.0h1.0v1.0h-1.0zM166.9 334.7h1.0v1.0h-1.0zM173.0 336.5h1.0v1.0h-1.0zM174.8 335.4h1.0v1.0h-1.0zM170.8 335.2h1.0v1.0h-1.0zM167.9 333.5h1.0v1.0h-1.0zM177.8 334.5h1.0v1.0h-1.0zM172.8 340.3h1.0v1.0h-1.0zM175.6 336.3h1.0v1.0h-1.0zM174.8 335.4h1.0v1.0h-1.0zM170.8 338.2h1.0v1.0h-1.0zM173.3 339.6h1.0v1.0h-1.0zM172.4 335.2h1.0v1.0h-1.0zM173.8 335.6h1.0v1.0h-1.0zM172.2 334.0h1.0v1.0h-1.0zM173.6 336.7h1.0v1.0h-1.0zM177.5 335.9h1.0v1.0h-1.0zM168.7 337.0h1.0v1.0h-1.0zM178.6 335.0h1.0v1.0h-1.0zM171.0 335.6h1.0v1.0h-1.0zM166.0 335.2h1.0v1.0h-1.0zM172.5 332.6h1.0v1.0h-1.0zM174.4 334.0h1.0v1.0h-1.0zM168.5 334.4h1.0v1.0h-1.0zM174.6 340.3h1.0v1.0h-1.0zM176.1 336.4h1.0v1.0h-1.0zM171.7 335.4h1.0v1.0h-1.0zM175.4 334.8h1.0v1.0h-1.0zM174.0 338.2h1.0v1.0h-1.0zM170.8 334.7h1.0v1.0h-1.0zM174.1 336.0h1.0v1.0h-1.0zM172.7 334.8h1.0v1.0h-1.0zM172.8 340.2h1.0v1.0h-1.0zM176.3 332.4h1.0v1.0h-1.0zM173.1 336.2h1.0v1.0h-1.0zM173.1 332.9h1.0v1.0h-1.0zM172.7 336.3h1.0v1.0h-1.0zM171.3 336.7h1.0v1.0h-1.0zM167.0 332.6h1.0v1.0h-1.0zM173.2 336.9h1.0v1.0h-1.0zM172.6 335.0h1.0v1.0h-1.0zM173.5 338.4h1.0v1.0h-1.0zM175.2 335.8h1.0v1.0h-1.0zM171.9 338.4h1.0v1.0h-1.0zM174.3 338.0h1.0v1.0h-1.0zM172.3 334.1h1.0v1.0h-1.0zM173.5 334.6h1.0v1.0h-1.0zM175.8 337.9h1.0v1.0h-1.0zM167.6 337.5h1.0v1.0h-1.0zM176.3 338.3h1.0v1.0h-1.0zM171.8 334.1h1.0v1.0h-1.0zM175.4 338.3h1.0v1.0h-1.0z" fill="#000" fill-opacity="0.68"/>
<path d="M178.3 334.5h1.0v1.0h-1.0zM171.6 340.0h1.0v1.0h-1.0zM174.5 336.3h1.0v1.0h-1.0zM179.9 343.1h1.0v1.0h-1.0zM169.3 336.4h1.0v1.0h-1.0zM183.5 338.8h1.0v1.0h-1.0zM176.6 341.5h1.0v1.0h-1.0zM173.2 334.2h1.0v1.0h-1.0zM178.1 345.1h1.0v1.0h-1.0zM182.3 339.0h1.0v1.0h-1.0zM182.3 337.4h1.0v1.0h-1.0zM173.0 332.4h1.0v1.0h-1.0zM179.1 342.5h1.0v1.0h-1.0zM179.6 338.9h1.0v1.0h-1.0zM176.3 343.3h1.0v1.0h-1.0zM177.8 333.4h1.0v1.0h-1.0zM183.8 336.5h1.0v1.0h-1.0zM179.7 339.0h1.0v1.0h-1.0zM182.5 340.0h1.0v1.0h-1.0zM183.2 339.8h1.0v1.0h-1.0zM176.1 337.0h1.0v1.0h-1.0zM180.7 335.8h1.0v1.0h-1.0zM181.9 338.1h1.0v1.0h-1.0zM174.1 335.6h1.0v1.0h-1.0zM177.4 345.9h1.0v1.0h-1.0zM181.3 339.1h1.0v1.0h-1.0zM174.2 346.5h1.0v1.0h-1.0zM176.8 339.0h1.0v1.0h-1.0zM176.2 344.2h1.0v1.0h-1.0zM178.7 337.2h1.0v1.0h-1.0zM178.8 335.1h1.0v1.0h-1.0zM173.6 338.4h1.0v1.0h-1.0zM165.8 343.6h1.0v1.0h-1.0zM186.4 334.6h1.0v1.0h-1.0zM177.4 332.8h1.0v1.0h-1.0zM178.7 339.8h1.0v1.0h-1.0zM181.1 333.8h1.0v1.0h-1.0zM175.5 336.5h1.0v1.0h-1.0zM177.0 348.0h1.0v1.0h-1.0zM177.2 338.8h1.0v1.0h-1.0zM175.9 342.1h1.0v1.0h-1.0zM188.8 343.6h1.0v1.0h-1.0zM184.5 334.8h1.0v1.0h-1.0zM182.5 339.1h1.0v1.0h-1.0zM183.3 343.2h1.0v1.0h-1.0zM180.8 332.4h1.0v1.0h-1.0zM178.6 337.0h1.0v1.0h-1.0zM179.9 339.1h1.0v1.0h-1.0zM182.4 332.7h1.0v1.0h-1.0zM174.9 338.7h1.0v1.0h-1.0zM179.4 337.4h1.0v1.0h-1.0zM177.9 339.2h1.0v1.0h-1.0zM182.4 338.6h1.0v1.0h-1.0zM179.0 331.9h1.0v1.0h-1.0zM166.9 333.3h1.0v1.0h-1.0zM179.5 330.0h1.0v1.0h-1.0zM179.7 338.6h1.0v1.0h-1.0zM178.0 336.1h1.0v1.0h-1.0zM176.2 342.3h1.0v1.0h-1.0zM179.5 338.9h1.0v1.0h-1.0zM175.9 339.8h1.0v1.0h-1.0zM183.0 338.9h1.0v1.0h-1.0zM176.4 334.4h1.0v1.0h-1.0zM178.4 335.4h1.0v1.0h-1.0zM171.9 342.4h1.0v1.0h-1.0zM175.4 331.0h1.0v1.0h-1.0zM175.0 346.2h1.0v1.0h-1.0zM177.5 333.8h1.0v1.0h-1.0zM173.3 341.8h1.0v1.0h-1.0zM179.7 339.8h1.0v1.0h-1.0zM177.2 340.9h1.0v1.0h-1.0zM184.5 340.9h1.0v1.0h-1.0zM177.3 333.5h1.0v1.0h-1.0zM179.9 345.2h1.0v1.0h-1.0zM180.7 334.1h1.0v1.0h-1.0zM178.8 344.1h1.0v1.0h-1.0zM175.3 340.9h1.0v1.0h-1.0zM183.1 345.4h1.0v1.0h-1.0zM171.3 332.1h1.0v1.0h-1.0zM179.6 341.8h1.0v1.0h-1.0zM176.5 338.9h1.0v1.0h-1.0zM176.3 343.7h1.0v1.0h-1.0zM168.6 340.0h1.0v1.0h-1.0zM172.6 336.3h1.0v1.0h-1.0zM171.5 335.4h1.0v1.0h-1.0zM177.9 339.1h1.0v1.0h-1.0zM185.6 338.1h1.0v1.0h-1.0zM179.5 340.4h1.0v1.0h-1.0zM179.1 344.8h1.0v1.0h-1.0zM178.6 339.6h1.0v1.0h-1.0zM177.5 339.0h1.0v1.0h-1.0zM177.8 342.9h1.0v1.0h-1.0zM178.1 339.3h1.0v1.0h-1.0zM177.8 342.0h1.0v1.0h-1.0zM176.0 342.7h1.0v1.0h-1.0zM175.6 341.7h1.0v1.0h-1.0zM186.1 339.9h1.0v1.0h-1.0zM177.6 334.4h1.0v1.0h-1.0zM181.1 339.1h1.0v1.0h-1.0zM181.9 336.4h1.0v1.0h-1.0zM180.2 346.1h1.0v1.0h-1.0zM179.7 337.7h1.0v1.0h-1.0zM172.5 339.0h1.0v1.0h-1.0zM180.8 341.4h1.0v1.0h-1.0zM173.3 335.0h1.0v1.0h-1.0zM173.9 335.0h1.0v1.0h-1.0zM176.8 340.0h1.0v1.0h-1.0zM186.2 339.8h1.0v1.0h-1.0zM184.2 332.5h1.0v1.0h-1.0zM184.5 342.1h1.0v1.0h-1.0zM179.9 342.3h1.0v1.0h-1.0zM180.6 346.5h1.0v1.0h-1.0zM181.4 332.1h1.0v1.0h-1.0zM170.6 345.4h1.0v1.0h-1.0zM177.6 344.2h1.0v1.0h-1.0zM176.5 336.4h1.0v1.0h-1.0zM176.5 340.2h1.0v1.0h-1.0zM178.8 336.6h1.0v1.0h-1.0zM180.3 341.4h1.0v1.0h-1.0zM174.1 334.6h1.0v1.0h-1.0zM169.7 337.8h1.0v1.0h-1.0zM178.0 336.3h1.0v1.0h-1.0zM175.4 338.5h1.0v1.0h-1.0zM178.1 341.3h1.0v1.0h-1.0zM181.5 340.7h1.0v1.0h-1.0zM182.8 335.2h1.0v1.0h-1.0zM180.6 340.5h1.0v1.0h-1.0zM173.6 336.3h1.0v1.0h-1.0zM179.9 339.3h1.0v1.0h-1.0zM172.7 336.8h1.0v1.0h-1.0zM184.5 342.3h1.0v1.0h-1.0zM178.3 344.3h1.0v1.0h-1.0zM174.1 338.3h1.0v1.0h-1.0zM182.1 337.7h1.0v1.0h-1.0zM173.3 341.3h1.0v1.0h-1.0zM184.8 329.0h1.0v1.0h-1.0zM178.7 334.1h1.0v1.0h-1.0zM176.7 333.4h1.0v1.0h-1.0zM189.0 336.3h1.0v1.0h-1.0zM178.2 336.2h1.0v1.0h-1.0zM173.8 337.2h1.0v1.0h-1.0zM178.9 345.9h1.0v1.0h-1.0zM179.2 345.2h1.0v1.0h-1.0zM173.5 339.3h1.0v1.0h-1.0zM176.1 332.8h1.0v1.0h-1.0zM193.8 338.0h1.0v1.0h-1.0zM179.0 336.0h1.0v1.0h-1.0zM175.6 334.9h1.0v1.0h-1.0zM182.4 337.4h1.0v1.0h-1.0zM177.4 339.7h1.0v1.0h-1.0zM172.8 339.9h1.0v1.0h-1.0zM177.3 340.8h1.0v1.0h-1.0zM176.4 339.2h1.0v1.0h-1.0zM180.2 342.8h1.0v1.0h-1.0zM175.1 342.8h1.0v1.0h-1.0zM173.8 338.3h1.0v1.0h-1.0zM178.6 339.6h1.0v1.0h-1.0zM167.4 335.1h1.0v1.0h-1.0zM177.2 342.7h1.0v1.0h-1.0zM175.0 345.0h1.0v1.0h-1.0zM170.3 339.3h1.0v1.0h-1.0zM180.3 339.1h1.0v1.0h-1.0zM179.1 342.7h1.0v1.0h-1.0zM174.6 341.3h1.0v1.0h-1.0zM182.5 338.1h1.0v1.0h-1.0zM168.2 334.3h1.0v1.0h-1.0zM174.4 334.8h1.0v1.0h-1.0zM179.8 335.8h1.0v1.0h-1.0zM188.5 341.3h1.0v1.0h-1.0zM172.5 337.9h1.0v1.0h-1.0zM184.5 341.7h1.0v1.0h-1.0zM173.7 343.1h1.0v1.0h-1.0zM176.0 347.8h1.0v1.0h-1.0zM175.7 341.4h1.0v1.0h-1.0zM180.4 337.2h1.0v1.0h-1.0zM177.3 343.6h1.0v1.0h-1.0zM180.1 338.8h1.0v1.0h-1.0zM179.9 345.9h1.0v1.0h-1.0zM182.0 340.9h1.0v1.0h-1.0zM179.4 332.8h1.0v1.0h-1.0zM178.6 337.1h1.0v1.0h-1.0zM181.1 336.6h1.0v1.0h-1.0zM179.9 334.8h1.0v1.0h-1.0zM181.8 336.1h1.0v1.0h-1.0zM177.9 341.3h1.0v1.0h-1.0zM176.6 339.0h1.0v1.0h-1.0zM182.5 346.0h1.0v1.0h-1.0zM170.3 335.4h1.0v1.0h-1.0zM180.9 342.7h1.0v1.0h-1.0zM176.0 339.4h1.0v1.0h-1.0zM177.2 348.0h1.0v1.0h-1.0zM177.2 334.3h1.0v1.0h-1.0zM171.4 334.0h1.0v1.0h-1.0zM183.5 337.5h1.0v1.0h-1.0zM186.3 341.5h1.0v1.0h-1.0zM179.6 341.5h1.0v1.0h-1.0zM181.4 342.6h1.0v1.0h-1.0zM173.9 336.8h1.0v1.0h-1.0zM175.7 339.4h1.0v1.0h-1.0zM176.9 334.1h1.0v1.0h-1.0zM175.1 346.1h1.0v1.0h-1.0zM187.0 335.6h1.0v1.0h-1.0zM179.6 338.9h1.0v1.0h-1.0zM174.4 341.8h1.0v1.0h-1.0zM177.7 345.6h1.0v1.0h-1.0zM179.9 337.8h1.0v1.0h-1.0zM166.8 338.6h1.0v1.0h-1.0zM181.6 336.2h1.0v1.0h-1.0zM181.8 341.7h1.0v1.0h-1.0zM170.5 338.2h1.0v1.0h-1.0zM179.4 342.0h1.0v1.0h-1.0zM178.7 338.9h1.0v1.0h-1.0zM176.5 337.9h1.0v1.0h-1.0zM178.0 334.8h1.0v1.0h-1.0zM180.7 337.7h1.0v1.0h-1.0zM180.2 337.0h1.0v1.0h-1.0zM179.7 339.5h1.0v1.0h-1.0zM181.8 340.8h1.0v1.0h-1.0zM182.0 338.3h1.0v1.0h-1.0zM177.8 338.0h1.0v1.0h-1.0zM172.7 338.5h1.0v1.0h-1.0zM182.6 342.0h1.0v1.0h-1.0zM174.4 340.2h1.0v1.0h-1.0zM181.2 333.6h1.0v1.0h-1.0zM179.5 340.3h1.0v1.0h-1.0zM181.2 340.0h1.0v1.0h-1.0zM170.6 331.0h1.0v1.0h-1.0zM186.4 337.4h1.0v1.0h-1.0zM183.4 344.0h1.0v1.0h-1.0zM178.4 334.5h1.0v1.0h-1.0zM183.8 338.9h1.0v1.0h-1.0zM180.2 340.9h1.0v1.0h-1.0zM182.1 343.0h1.0v1.0h-1.0zM172.0 333.4h1.0v1.0h-1.0zM178.6 339.0h1.0v1.0h-1.0zM181.3 338.5h1.0v1.0h-1.0zM177.2 347.0h1.0v1.0h-1.0zM183.8 343.6h1.0v1.0h-1.0zM182.4 335.9h1.0v1.0h-1.0zM177.6 338.7h1.0v1.0h-1.0zM173.4 335.6h1.0v1.0h-1.0zM178.7 334.2h1.0v1.0h-1.0zM180.3 340.9h1.0v1.0h-1.0zM177.0 337.7h1.0v1.0h-1.0zM180.6 340.9h1.0v1.0h-1.0zM179.6 334.2h1.0v1.0h-1.0zM171.1 347.1h1.0v1.0h-1.0zM175.2 337.6h1.0v1.0h-1.0zM170.2 335.9h1.0v1.0h-1.0zM174.9 342.1h1.0v1.0h-1.0zM166.8 333.5h1.0v1.0h-1.0zM176.2 337.1h1.0v1.0h-1.0zM174.7 337.3h1.0v1.0h-1.0zM171.3 340.1h1.0v1.0h-1.0zM183.1 339.6h1.0v1.0h-1.0zM175.7 344.0h1.0v1.0h-1.0zM180.1 334.9h1.0v1.0h-1.0zM175.6 336.6h1.0v1.0h-1.0zM177.8 343.8h1.0v1.0h-1.0zM175.0 338.4h1.0v1.0h-1.0zM178.5 334.3h1.0v1.0h-1.0zM176.0 341.4h1.0v1.0h-1.0zM182.8 331.6h1.0v1.0h-1.0zM181.0 337.9h1.0v1.0h-1.0zM183.5 341.4h1.0v1.0h-1.0zM186.4 340.2h1.0v1.0h-1.0zM176.3 335.7h1.0v1.0h-1.0zM171.9 341.2h1.0v1.0h-1.0zM180.2 342.2h1.0v1.0h-1.0zM179.5 333.1h1.0v1.0h-1.0zM176.3 338.0h1.0v1.0h-1.0zM178.7 342.0h1.0v1.0h-1.0zM184.0 340.1h1.0v1.0h-1.0zM169.2 335.0h1.0v1.0h-1.0zM168.9 336.0h1.0v1.0h-1.0zM172.9 339.9h1.0v1.0h-1.0zM177.1 343.4h1.0v1.0h-1.0zM182.6 337.2h1.0v1.0h-1.0zM182.0 339.1h1.0v1.0h-1.0zM179.9 344.3h1.0v1.0h-1.0zM173.1 338.7h1.0v1.0h-1.0zM184.5 336.0h1.0v1.0h-1.0zM178.9 339.5h1.0v1.0h-1.0zM176.2 333.9h1.0v1.0h-1.0zM175.1 335.1h1.0v1.0h-1.0zM182.6 340.0h1.0v1.0h-1.0zM181.0 334.3h1.0v1.0h-1.0zM180.1 339.6h1.0v1.0h-1.0zM182.5 336.2h1.0v1.0h-1.0zM181.4 344.4h1.0v1.0h-1.0zM185.7 335.4h1.0v1.0h-1.0zM173.2 333.3h1.0v1.0h-1.0zM182.1 341.3h1.0v1.0h-1.0zM179.5 335.6h1.0v1.0h-1.0zM183.3 345.3h1.0v1.0h-1.0zM177.9 338.5h1.0v1.0h-1.0zM183.1 341.0h1.0v1.0h-1.0zM183.7 337.4h1.0v1.0h-1.0zM179.4 337.7h1.0v1.0h-1.0zM175.6 337.8h1.0v1.0h-1.0zM176.8 341.0h1.0v1.0h-1.0zM176.7 339.3h1.0v1.0h-1.0zM174.6 334.2h1.0v1.0h-1.0zM184.1 335.1h1.0v1.0h-1.0zM185.7 342.7h1.0v1.0h-1.0zM168.3 336.5h1.0v1.0h-1.0zM176.2 339.1h1.0v1.0h-1.0zM177.2 336.6h1.0v1.0h-1.0zM183.3 338.5h1.0v1.0h-1.0zM182.1 336.3h1.0v1.0h-1.0zM175.1 344.2h1.0v1.0h-1.0zM176.8 334.7h1.0v1.0h-1.0zM177.3 343.1h1.0v1.0h-1.0zM177.3 336.2h1.0v1.0h-1.0zM180.7 342.9h1.0v1.0h-1.0zM177.1 337.8h1.0v1.0h-1.0zM176.5 349.6h1.0v1.0h-1.0zM177.2 345.8h1.0v1.0h-1.0zM177.4 340.6h1.0v1.0h-1.0zM169.4 339.7h1.0v1.0h-1.0zM178.2 337.8h1.0v1.0h-1.0zM176.3 333.7h1.0v1.0h-1.0zM171.7 339.7h1.0v1.0h-1.0zM175.3 338.7h1.0v1.0h-1.0zM177.2 337.0h1.0v1.0h-1.0zM174.9 346.3h1.0v1.0h-1.0zM173.3 337.0h1.0v1.0h-1.0zM176.8 334.5h1.0v1.0h-1.0zM173.9 342.4h1.0v1.0h-1.0zM182.0 339.5h1.0v1.0h-1.0zM191.8 342.2h1.0v1.0h-1.0zM183.2 335.8h1.0v1.0h-1.0zM182.6 345.6h1.0v1.0h-1.0zM176.4 346.1h1.0v1.0h-1.0zM174.6 334.6h1.0v1.0h-1.0zM177.8 335.8h1.0v1.0h-1.0zM180.7 334.7h1.0v1.0h-1.0zM178.4 331.4h1.0v1.0h-1.0zM177.9 343.1h1.0v1.0h-1.0zM176.9 340.2h1.0v1.0h-1.0zM182.6 334.7h1.0v1.0h-1.0zM172.6 339.3h1.0v1.0h-1.0zM179.2 338.0h1.0v1.0h-1.0zM173.9 343.7h1.0v1.0h-1.0zM173.1 338.0h1.0v1.0h-1.0zM177.8 341.8h1.0v1.0h-1.0zM176.1 335.8h1.0v1.0h-1.0zM186.6 335.7h1.0v1.0h-1.0zM181.4 338.4h1.0v1.0h-1.0zM176.0 338.8h1.0v1.0h-1.0zM176.9 340.2h1.0v1.0h-1.0zM167.2 338.9h1.0v1.0h-1.0zM178.3 335.2h1.0v1.0h-1.0zM176.4 348.1h1.0v1.0h-1.0zM185.9 341.5h1.0v1.0h-1.0zM179.0 337.8h1.0v1.0h-1.0zM183.9 337.3h1.0v1.0h-1.0zM174.5 341.7h1.0v1.0h-1.0zM173.9 335.9h1.0v1.0h-1.0zM184.2 332.7h1.0v1.0h-1.0zM177.7 339.5h1.0v1.0h-1.0zM179.1 333.3h1.0v1.0h-1.0zM177.1 337.7h1.0v1.0h-1.0zM186.2 342.9h1.0v1.0h-1.0zM174.8 342.4h1.0v1.0h-1.0zM180.8 338.6h1.0v1.0h-1.0zM177.0 337.9h1.0v1.0h-1.0zM171.5 336.5h1.0v1.0h-1.0zM182.0 344.6h1.0v1.0h-1.0zM185.9 337.5h1.0v1.0h-1.0zM180.6 329.6h1.0v1.0h-1.0zM176.9 334.1h1.0v1.0h-1.0zM181.5 332.5h1.0v1.0h-1.0zM173.6 334.7h1.0v1.0h-1.0zM179.7 342.3h1.0v1.0h-1.0zM174.1 346.0h1.0v1.0h-1.0zM178.7 335.7h1.0v1.0h-1.0zM179.5 338.9h1.0v1.0h-1.0zM181.5 340.3h1.0v1.0h-1.0zM187.3 343.6h1.0v1.0h-1.0z" fill="#000" fill-opacity="0.48"/>
<path d="M184.9 342.3h1.0v1.0h-1.0zM189.6 336.0h1.0v1.0h-1.0zM184.5 336.7h1.0v1.0h-1.0zM178.7 341.7h1.0v1.0h-1.0zM186.3 343.8h1.0v1.0h-1.0zM185.1 339.8h1.0v1.0h-1.0zM189.5 342.9h1.0v1.0h-1.0zM188.1 335.8h1.0v1.0h-1.0zM194.4 342.6h1.0v1.0h-1.0zM191.6 345.2h1.0v1.0h-1.0zM191.7 341.0h1.0v1.0h-1.0zM188.6 341.7h1.0v1.0h-1.0zM182.0 342.4h1.0v1.0h-1.0zM183.8 341.0h1.0v1.0h-1.0zM183.6 342.0h1.0v1.0h-1.0zM185.4 348.2h1.0v1.0h-1.0zM187.7 341.3h1.0v1.0h-1.0zM184.0 338.5h1.0v1.0h-1.0zM186.8 338.5h1.0v1.0h-1.0zM185.6 336.4h1.0v1.0h-1.0zM189.6 338.2h1.0v1.0h-1.0zM184.3 340.8h1.0v1.0h-1.0zM184.3 338.9h1.0v1.0h-1.0zM185.3 336.3h1.0v1.0h-1.0zM186.3 336.6h1.0v1.0h-1.0zM182.8 340.7h1.0v1.0h-1.0zM186.0 334.4h1.0v1.0h-1.0zM185.7 340.2h1.0v1.0h-1.0zM188.5 340.8h1.0v1.0h-1.0zM187.9 341.6h1.0v1.0h-1.0zM185.4 336.7h1.0v1.0h-1.0zM189.1 338.1h1.0v1.0h-1.0zM187.1 341.8h1.0v1.0h-1.0zM190.2 343.8h1.0v1.0h-1.0zM184.7 338.2h1.0v1.0h-1.0zM188.9 334.5h1.0v1.0h-1.0zM182.8 341.6h1.0v1.0h-1.0zM185.0 336.3h1.0v1.0h-1.0zM189.7 341.4h1.0v1.0h-1.0zM190.1 338.3h1.0v1.0h-1.0zM186.1 338.3h1.0v1.0h-1.0zM188.0 332.4h1.0v1.0h-1.0zM184.7 342.0h1.0v1.0h-1.0zM184.4 339.3h1.0v1.0h-1.0zM187.4 341.3h1.0v1.0h-1.0zM185.4 335.5h1.0v1.0h-1.0zM195.4 337.0h1.0v1.0h-1.0zM192.8 333.3h1.0v1.0h-1.0zM187.4 338.8h1.0v1.0h-1.0zM193.4 346.6h1.0v1.0h-1.0zM190.3 336.0h1.0v1.0h-1.0zM184.3 336.9h1.0v1.0h-1.0zM185.3 340.4h1.0v1.0h-1.0zM184.4 338.6h1.0v1.0h-1.0zM192.0 344.5h1.0v1.0h-1.0zM180.8 336.2h1.0v1.0h-1.0zM185.8 344.0h1.0v1.0h-1.0zM185.9 346.2h1.0v1.0h-1.0zM188.3 344.5h1.0v1.0h-1.0zM184.2 338.4h1.0v1.0h-1.0zM190.4 341.5h1.0v1.0h-1.0zM180.8 338.5h1.0v1.0h-1.0zM187.6 341.7h1.0v1.0h-1.0zM184.9 345.6h1.0v1.0h-1.0zM187.5 344.6h1.0v1.0h-1.0zM188.4 339.8h1.0v1.0h-1.0zM186.0 335.4h1.0v1.0h-1.0zM189.9 342.2h1.0v1.0h-1.0zM190.2 338.2h1.0v1.0h-1.0zM183.7 338.2h1.0v1.0h-1.0zM186.0 339.5h1.0v1.0h-1.0zM190.3 336.3h1.0v1.0h-1.0zM185.4 341.9h1.0v1.0h-1.0zM190.1 347.2h1.0v1.0h-1.0zM188.8 336.5h1.0v1.0h-1.0zM183.6 336.7h1.0v1.0h-1.0zM187.3 340.4h1.0v1.0h-1.0zM186.8 337.4h1.0v1.0h-1.0zM186.4 339.2h1.0v1.0h-1.0zM189.0 339.8h1.0v1.0h-1.0zM184.3 335.4h1.0v1.0h-1.0zM192.0 339.2h1.0v1.0h-1.0zM186.5 339.4h1.0v1.0h-1.0zM190.8 338.4h1.0v1.0h-1.0zM187.6 338.7h1.0v1.0h-1.0zM189.0 336.0h1.0v1.0h-1.0zM187.7 343.1h1.0v1.0h-1.0zM191.0 341.7h1.0v1.0h-1.0zM188.0 345.0h1.0v1.0h-1.0zM189.4 344.4h1.0v1.0h-1.0zM183.0 335.7h1.0v1.0h-1.0zM189.7 338.6h1.0v1.0h-1.0zM185.6 336.2h1.0v1.0h-1.0zM192.0 335.3h1.0v1.0h-1.0zM187.4 334.6h1.0v1.0h-1.0zM186.5 347.3h1.0v1.0h-1.0zM195.2 337.8h1.0v1.0h-1.0zM183.7 345.2h1.0v1.0h-1.0zM184.2 333.3h1.0v1.0h-1.0zM188.2 335.7h1.0v1.0h-1.0zM182.2 343.4h1.0v1.0h-1.0zM184.6 335.8h1.0v1.0h-1.0zM187.6 338.8h1.0v1.0h-1.0zM190.8 339.8h1.0v1.0h-1.0zM192.3 343.5h1.0v1.0h-1.0zM193.0 343.4h1.0v1.0h-1.0zM187.3 341.4h1.0v1.0h-1.0zM187.1 334.1h1.0v1.0h-1.0zM183.1 342.1h1.0v1.0h-1.0zM179.2 336.6h1.0v1.0h-1.0zM182.8 339.3h1.0v1.0h-1.0zM183.6 340.4h1.0v1.0h-1.0zM186.4 337.9h1.0v1.0h-1.0zM184.2 331.8h1.0v1.0h-1.0zM187.3 335.0h1.0v1.0h-1.0zM186.1 340.8h1.0v1.0h-1.0zM190.5 342.0h1.0v1.0h-1.0zM192.0 334.6h1.0v1.0h-1.0zM189.3 345.0h1.0v1.0h-1.0zM188.4 335.6h1.0v1.0h-1.0zM188.4 337.7h1.0v1.0h-1.0zM184.9 343.2h1.0v1.0h-1.0zM186.5 335.6h1.0v1.0h-1.0zM184.8 346.3h1.0v1.0h-1.0zM184.2 341.9h1.0v1.0h-1.0zM187.6 343.6h1.0v1.0h-1.0zM186.1 336.2h1.0v1.0h-1.0zM184.9 335.9h1.0v1.0h-1.0zM195.7 340.2h1.0v1.0h-1.0zM186.0 343.9h1.0v1.0h-1.0zM189.2 338.9h1.0v1.0h-1.0zM189.1 340.5h1.0v1.0h-1.0zM190.8 345.3h1.0v1.0h-1.0zM186.0 339.4h1.0v1.0h-1.0zM186.4 343.8h1.0v1.0h-1.0zM188.3 342.2h1.0v1.0h-1.0zM190.0 337.3h1.0v1.0h-1.0zM187.5 344.3h1.0v1.0h-1.0zM190.1 342.3h1.0v1.0h-1.0zM186.1 338.3h1.0v1.0h-1.0zM184.2 338.6h1.0v1.0h-1.0zM186.8 334.5h1.0v1.0h-1.0zM190.9 336.8h1.0v1.0h-1.0zM187.9 341.6h1.0v1.0h-1.0zM185.2 333.2h1.0v1.0h-1.0zM190.3 340.9h1.0v1.0h-1.0zM186.2 343.5h1.0v1.0h-1.0zM190.0 336.2h1.0v1.0h-1.0zM186.8 333.4h1.0v1.0h-1.0zM186.2 344.4h1.0v1.0h-1.0zM184.3 342.4h1.0v1.0h-1.0zM182.0 338.5h1.0v1.0h-1.0zM190.2 345.5h1.0v1.0h-1.0zM188.6 342.1h1.0v1.0h-1.0zM192.8 331.0h1.0v1.0h-1.0zM181.4 346.1h1.0v1.0h-1.0zM195.2 341.6h1.0v1.0h-1.0zM187.3 340.4h1.0v1.0h-1.0zM187.2 337.4h1.0v1.0h-1.0zM187.0 339.1h1.0v1.0h-1.0zM189.3 341.9h1.0v1.0h-1.0zM190.3 341.6h1.0v1.0h-1.0zM183.8 344.4h1.0v1.0h-1.0zM178.2 339.9h1.0v1.0h-1.0zM188.2 337.7h1.0v1.0h-1.0zM193.3 335.7h1.0v1.0h-1.0zM183.2 337.8h1.0v1.0h-1.0zM188.4 342.3h1.0v1.0h-1.0zM187.4 341.8h1.0v1.0h-1.0zM184.7 337.4h1.0v1.0h-1.0zM187.5 334.8h1.0v1.0h-1.0zM187.7 338.1h1.0v1.0h-1.0zM189.3 336.0h1.0v1.0h-1.0zM185.3 337.5h1.0v1.0h-1.0zM185.8 336.0h1.0v1.0h-1.0zM186.2 334.8h1.0v1.0h-1.0zM188.8 341.8h1.0v1.0h-1.0zM187.0 338.9h1.0v1.0h-1.0zM184.1 336.2h1.0v1.0h-1.0zM186.3 336.4h1.0v1.0h-1.0zM183.2 340.1h1.0v1.0h-1.0zM187.0 338.1h1.0v1.0h-1.0zM184.4 339.3h1.0v1.0h-1.0zM184.8 338.0h1.0v1.0h-1.0zM187.7 342.0h1.0v1.0h-1.0zM189.6 337.4h1.0v1.0h-1.0zM191.0 335.5h1.0v1.0h-1.0zM186.5 344.0h1.0v1.0h-1.0zM194.9 340.0h1.0v1.0h-1.0zM185.9 338.2h1.0v1.0h-1.0zM183.1 339.0h1.0v1.0h-1.0zM185.7 336.9h1.0v1.0h-1.0zM191.0 336.8h1.0v1.0h-1.0zM192.6 342.4h1.0v1.0h-1.0zM189.2 337.5h1.0v1.0h-1.0zM185.4 332.6h1.0v1.0h-1.0zM188.0 338.6h1.0v1.0h-1.0zM188.3 337.2h1.0v1.0h-1.0zM188.7 334.3h1.0v1.0h-1.0zM179.8 341.2h1.0v1.0h-1.0zM190.6 328.6h1.0v1.0h-1.0zM191.3 338.3h1.0v1.0h-1.0zM186.5 334.2h1.0v1.0h-1.0zM183.8 342.0h1.0v1.0h-1.0zM184.6 339.4h1.0v1.0h-1.0zM186.5 346.4h1.0v1.0h-1.0zM190.0 334.9h1.0v1.0h-1.0zM185.5 335.5h1.0v1.0h-1.0zM182.5 337.1h1.0v1.0h-1.0zM190.7 339.7h1.0v1.0h-1.0zM189.3 339.0h1.0v1.0h-1.0zM185.7 339.8h1.0v1.0h-1.0zM186.8 346.2h1.0v1.0h-1.0zM193.0 340.8h1.0v1.0h-1.0zM189.0 332.6h1.0v1.0h-1.0zM186.6 347.8h1.0v1.0h-1.0zM184.4 342.3h1.0v1.0h-1.0zM191.1 338.1h1.0v1.0h-1.0zM186.3 337.9h1.0v1.0h-1.0zM189.7 339.6h1.0v1.0h-1.0zM192.0 343.6h1.0v1.0h-1.0zM187.0 348.6h1.0v1.0h-1.0zM186.0 337.4h1.0v1.0h-1.0zM186.3 336.4h1.0v1.0h-1.0zM185.7 339.3h1.0v1.0h-1.0zM190.0 334.0h1.0v1.0h-1.0zM182.4 336.8h1.0v1.0h-1.0zM186.0 341.1h1.0v1.0h-1.0zM184.5 344.8h1.0v1.0h-1.0zM185.3 338.8h1.0v1.0h-1.0zM187.2 343.6h1.0v1.0h-1.0zM188.0 339.6h1.0v1.0h-1.0zM185.3 340.1h1.0v1.0h-1.0zM188.4 338.3h1.0v1.0h-1.0zM187.0 333.1h1.0v1.0h-1.0zM185.3 343.6h1.0v1.0h-1.0zM191.7 339.3h1.0v1.0h-1.0zM180.0 345.9h1.0v1.0h-1.0zM186.5 348.5h1.0v1.0h-1.0zM185.7 343.0h1.0v1.0h-1.0zM185.0 344.3h1.0v1.0h-1.0zM190.8 335.8h1.0v1.0h-1.0zM191.3 349.5h1.0v1.0h-1.0zM186.3 335.3h1.0v1.0h-1.0zM187.9 338.1h1.0v1.0h-1.0zM182.1 335.8h1.0v1.0h-1.0zM187.8 334.2h1.0v1.0h-1.0zM190.6 341.1h1.0v1.0h-1.0zM186.5 344.4h1.0v1.0h-1.0zM184.0 341.9h1.0v1.0h-1.0zM182.6 338.4h1.0v1.0h-1.0zM189.1 337.6h1.0v1.0h-1.0zM186.7 341.8h1.0v1.0h-1.0zM192.0 344.0h1.0v1.0h-1.0zM188.5 338.6h1.0v1.0h-1.0zM182.3 345.5h1.0v1.0h-1.0zM193.2 332.0h1.0v1.0h-1.0zM189.9 339.4h1.0v1.0h-1.0zM189.4 340.6h1.0v1.0h-1.0zM186.4 339.5h1.0v1.0h-1.0zM186.9 343.6h1.0v1.0h-1.0zM186.2 337.6h1.0v1.0h-1.0zM189.2 341.8h1.0v1.0h-1.0zM188.5 340.5h1.0v1.0h-1.0zM191.9 343.4h1.0v1.0h-1.0zM187.7 338.8h1.0v1.0h-1.0zM189.2 333.0h1.0v1.0h-1.0zM185.3 337.0h1.0v1.0h-1.0zM187.6 338.2h1.0v1.0h-1.0zM195.1 342.1h1.0v1.0h-1.0zM188.4 347.4h1.0v1.0h-1.0zM187.0 338.4h1.0v1.0h-1.0zM191.1 342.4h1.0v1.0h-1.0zM190.1 343.7h1.0v1.0h-1.0zM185.8 337.2h1.0v1.0h-1.0zM184.7 339.9h1.0v1.0h-1.0zM190.3 335.8h1.0v1.0h-1.0zM185.3 334.8h1.0v1.0h-1.0zM193.6 342.3h1.0v1.0h-1.0zM187.7 335.2h1.0v1.0h-1.0zM183.7 337.2h1.0v1.0h-1.0zM187.1 335.1h1.0v1.0h-1.0zM186.3 343.8h1.0v1.0h-1.0zM187.1 339.8h1.0v1.0h-1.0zM180.2 338.6h1.0v1.0h-1.0zM186.6 337.1h1.0v1.0h-1.0zM182.5 339.3h1.0v1.0h-1.0zM183.7 337.6h1.0v1.0h-1.0zM181.8 339.2h1.0v1.0h-1.0zM190.0 336.6h1.0v1.0h-1.0zM188.1 334.2h1.0v1.0h-1.0zM188.9 341.4h1.0v1.0h-1.0zM185.8 342.6h1.0v1.0h-1.0zM184.2 339.7h1.0v1.0h-1.0zM192.5 339.4h1.0v1.0h-1.0zM183.4 343.5h1.0v1.0h-1.0zM188.8 338.5h1.0v1.0h-1.0zM181.1 332.9h1.0v1.0h-1.0zM182.1 344.7h1.0v1.0h-1.0zM188.0 336.5h1.0v1.0h-1.0zM190.8 344.6h1.0v1.0h-1.0zM184.3 341.2h1.0v1.0h-1.0zM181.7 340.8h1.0v1.0h-1.0zM193.0 334.5h1.0v1.0h-1.0zM187.2 337.3h1.0v1.0h-1.0zM186.7 339.8h1.0v1.0h-1.0zM187.9 342.6h1.0v1.0h-1.0zM188.7 343.2h1.0v1.0h-1.0zM190.3 343.4h1.0v1.0h-1.0zM184.8 340.9h1.0v1.0h-1.0zM185.8 336.5h1.0v1.0h-1.0zM193.4 340.5h1.0v1.0h-1.0zM187.2 332.1h1.0v1.0h-1.0zM186.3 342.2h1.0v1.0h-1.0zM186.4 337.6h1.0v1.0h-1.0zM191.8 338.4h1.0v1.0h-1.0zM185.9 339.1h1.0v1.0h-1.0zM186.3 343.2h1.0v1.0h-1.0zM188.9 339.3h1.0v1.0h-1.0zM185.9 338.7h1.0v1.0h-1.0zM192.5 338.4h1.0v1.0h-1.0zM189.2 334.0h1.0v1.0h-1.0zM188.1 341.9h1.0v1.0h-1.0zM191.2 340.6h1.0v1.0h-1.0zM188.9 340.6h1.0v1.0h-1.0zM190.5 346.7h1.0v1.0h-1.0zM187.7 336.6h1.0v1.0h-1.0zM189.0 339.1h1.0v1.0h-1.0zM189.1 342.2h1.0v1.0h-1.0zM187.5 338.0h1.0v1.0h-1.0zM188.0 335.1h1.0v1.0h-1.0zM187.9 336.4h1.0v1.0h-1.0zM188.5 339.9h1.0v1.0h-1.0zM186.3 335.3h1.0v1.0h-1.0zM187.2 337.1h1.0v1.0h-1.0zM186.6 341.9h1.0v1.0h-1.0zM190.1 335.0h1.0v1.0h-1.0zM190.1 344.3h1.0v1.0h-1.0zM190.7 340.5h1.0v1.0h-1.0zM186.7 345.6h1.0v1.0h-1.0zM186.0 334.1h1.0v1.0h-1.0zM187.3 340.5h1.0v1.0h-1.0zM183.7 335.2h1.0v1.0h-1.0zM193.5 339.9h1.0v1.0h-1.0zM189.6 337.5h1.0v1.0h-1.0zM182.1 338.9h1.0v1.0h-1.0zM191.4 337.2h1.0v1.0h-1.0zM181.2 338.9h1.0v1.0h-1.0zM186.1 339.6h1.0v1.0h-1.0zM183.6 338.4h1.0v1.0h-1.0zM185.3 342.6h1.0v1.0h-1.0zM187.5 342.6h1.0v1.0h-1.0zM186.9 332.0h1.0v1.0h-1.0zM180.7 341.4h1.0v1.0h-1.0zM189.9 342.6h1.0v1.0h-1.0zM186.8 333.2h1.0v1.0h-1.0zM185.4 340.9h1.0v1.0h-1.0zM191.5 338.3h1.0v1.0h-1.0zM185.2 336.8h1.0v1.0h-1.0zM190.4 342.6h1.0v1.0h-1.0zM181.1 343.8h1.0v1.0h-1.0zM184.0 334.3h1.0v1.0h-1.0zM181.9 336.9h1.0v1.0h-1.0zM194.6 348.5h1.0v1.0h-1.0zM183.0 337.1h1.0v1.0h-1.0zM187.5 341.0h1.0v1.0h-1.0zM185.5 333.9h1.0v1.0h-1.0zM185.7 337.1h1.0v1.0h-1.0zM181.2 340.0h1.0v1.0h-1.0zM182.3 333.4h1.0v1.0h-1.0zM192.0 342.8h1.0v1.0h-1.0zM191.7 339.9h1.0v1.0h-1.0zM185.7 339.2h1.0v1.0h-1.0zM182.6 342.1h1.0v1.0h-1.0zM187.9 338.4h1.0v1.0h-1.0zM181.0 339.1h1.0v1.0h-1.0zM192.3 344.6h1.0v1.0h-1.0zM189.9 338.3h1.0v1.0h-1.0zM187.5 341.5h1.0v1.0h-1.0zM187.7 343.2h1.0v1.0h-1.0zM184.9 331.3h1.0v1.0h-1.0zM179.1 336.3h1.0v1.0h-1.0zM182.5 341.8h1.0v1.0h-1.0zM190.5 339.5h1.0v1.0h-1.0zM188.8 339.8h1.0v1.0h-1.0zM187.6 337.8h1.0v1.0h-1.0zM185.7 343.7h1.0v1.0h-1.0zM186.2 339.4h1.0v1.0h-1.0zM190.9 343.0h1.0v1.0h-1.0zM185.8 340.4h1.0v1.0h-1.0zM183.7 340.0h1.0v1.0h-1.0zM188.1 339.5h1.0v1.0h-1.0zM187.6 340.8h1.0v1.0h-1.0zM178.8 336.6h1.0v1.0h-1.0zM187.3 337.8h1.0v1.0h-1.0zM183.9 338.7h1.0v1.0h-1.0zM192.3 338.7h1.0v1.0h-1.0zM184.9 337.8h1.0v1.0h-1.0zM183.2 341.2h1.0v1.0h-1.0zM183.8 342.7h1.0v1.0h-1.0zM190.0 341.5h1.0v1.0h-1.0zM190.4 339.2h1.0v1.0h-1.0zM181.3 339.3h1.0v1.0h-1.0zM189.1 334.1h1.0v1.0h-1.0zM183.1 343.4h1.0v1.0h-1.0zM188.5 344.2h1.0v1.0h-1.0zM189.2 339.7h1.0v1.0h-1.0zM188.4 342.5h1.0v1.0h-1.0zM186.9 338.8h1.0v1.0h-1.0zM188.1 338.4h1.0v1.0h-1.0zM194.9 336.8h1.0v1.0h-1.0zM182.1 335.0h1.0v1.0h-1.0zM190.5 338.1h1.0v1.0h-1.0zM187.6 338.7h1.0v1.0h-1.0zM187.9 334.4h1.0v1.0h-1.0zM187.3 337.5h1.0v1.0h-1.0zM190.6 341.7h1.0v1.0h-1.0zM182.9 336.1h1.0v1.0h-1.0zM188.9 343.7h1.0v1.0h-1.0zM189.5 339.0h1.0v1.0h-1.0zM190.7 331.2h1.0v1.0h-1.0zM185.3 336.1h1.0v1.0h-1.0zM183.7 341.5h1.0v1.0h-1.0zM187.9 340.5h1.0v1.0h-1.0zM186.6 341.7h1.0v1.0h-1.0zM189.6 337.5h1.0v1.0h-1.0zM190.1 336.2h1.0v1.0h-1.0zM192.8 334.9h1.0v1.0h-1.0zM186.1 335.7h1.0v1.0h-1.0zM187.2 344.1h1.0v1.0h-1.0zM184.6 345.8h1.0v1.0h-1.0zM191.7 340.9h1.0v1.0h-1.0zM185.1 342.7h1.0v1.0h-1.0zM177.7 336.8h1.0v1.0h-1.0zM190.2 339.4h1.0v1.0h-1.0zM195.2 337.1h1.0v1.0h-1.0zM182.7 338.7h1.0v1.0h-1.0zM188.9 345.5h1.0v1.0h-1.0zM181.3 340.1h1.0v1.0h-1.0zM191.2 337.1h1.0v1.0h-1.0zM185.5 335.2h1.0v1.0h-1.0zM189.6 342.4h1.0v1.0h-1.0zM189.0 340.4h1.0v1.0h-1.0zM190.3 339.1h1.0v1.0h-1.0zM189.4 342.4h1.0v1.0h-1.0zM191.3 341.3h1.0v1.0h-1.0zM187.3 342.0h1.0v1.0h-1.0zM181.9 333.3h1.0v1.0h-1.0zM192.4 340.0h1.0v1.0h-1.0zM183.6 337.4h1.0v1.0h-1.0z" fill="#000" fill-opacity="0.45"/>
<path d="M178.3 347.2h1.0v1.0h-1.0zM175.4 349.7h1.0v1.0h-1.0zM173.8 351.6h1.0v1.0h-1.0zM182.3 342.4h1.0v1.0h-1.0zM173.1 347.2h1.0v1.0h-1.0zM180.4 345.8h1.0v1.0h-1.0zM179.1 347.4h1.0v1.0h-1.0zM173.5 347.2h1.0v1.0h-1.0zM190.1 345.2h1.0v1.0h-1.0zM174.1 348.8h1.0v1.0h-1.0zM185.6 349.9h1.0v1.0h-1.0zM176.0 346.8h1.0v1.0h-1.0zM180.1 346.4h1.0v1.0h-1.0zM181.0 350.0h1.0v1.0h-1.0zM181.7 347.0h1.0v1.0h-1.0zM178.1 351.9h1.0v1.0h-1.0zM173.1 352.5h1.0v1.0h-1.0zM182.7 347.2h1.0v1.0h-1.0zM175.4 352.1h1.0v1.0h-1.0zM185.0 349.5h1.0v1.0h-1.0zM189.2 342.1h1.0v1.0h-1.0zM179.6 346.2h1.0v1.0h-1.0zM175.5 347.2h1.0v1.0h-1.0zM181.7 348.4h1.0v1.0h-1.0zM178.4 343.4h1.0v1.0h-1.0zM181.8 348.7h1.0v1.0h-1.0zM189.4 349.6h1.0v1.0h-1.0zM179.1 343.8h1.0v1.0h-1.0zM192.4 345.1h1.0v1.0h-1.0zM180.0 349.1h1.0v1.0h-1.0zM181.5 350.7h1.0v1.0h-1.0zM174.0 345.1h1.0v1.0h-1.0zM179.9 343.6h1.0v1.0h-1.0zM176.1 350.8h1.0v1.0h-1.0zM180.5 346.7h1.0v1.0h-1.0zM176.3 347.1h1.0v1.0h-1.0zM178.9 344.0h1.0v1.0h-1.0zM182.9 343.5h1.0v1.0h-1.0zM185.4 346.1h1.0v1.0h-1.0zM167.8 342.7h1.0v1.0h-1.0zM180.5 344.6h1.0v1.0h-1.0zM188.0 350.8h1.0v1.0h-1.0zM189.4 349.5h1.0v1.0h-1.0zM185.7 345.3h1.0v1.0h-1.0zM185.5 345.8h1.0v1.0h-1.0zM178.8 343.2h1.0v1.0h-1.0zM179.3 348.1h1.0v1.0h-1.0zM178.8 343.9h1.0v1.0h-1.0zM183.5 349.5h1.0v1.0h-1.0zM178.6 349.2h1.0v1.0h-1.0zM183.9 344.3h1.0v1.0h-1.0zM178.9 341.8h1.0v1.0h-1.0zM173.9 348.2h1.0v1.0h-1.0zM174.7 348.1h1.0v1.0h-1.0zM180.9 341.3h1.0v1.0h-1.0zM176.7 351.2h1.0v1.0h-1.0zM179.1 347.3h1.0v1.0h-1.0zM175.6 342.6h1.0v1.0h-1.0zM178.1 344.6h1.0v1.0h-1.0zM179.6 341.6h1.0v1.0h-1.0zM186.0 351.8h1.0v1.0h-1.0zM175.3 347.9h1.0v1.0h-1.0zM174.6 349.4h1.0v1.0h-1.0zM174.9 346.6h1.0v1.0h-1.0zM185.6 348.5h1.0v1.0h-1.0zM177.4 342.8h1.0v1.0h-1.0zM171.1 350.3h1.0v1.0h-1.0zM181.6 347.2h1.0v1.0h-1.0zM185.3 347.4h1.0v1.0h-1.0zM175.4 346.7h1.0v1.0h-1.0zM178.6 347.0h1.0v1.0h-1.0zM191.5 348.6h1.0v1.0h-1.0zM180.4 346.3h1.0v1.0h-1.0zM175.7 344.2h1.0v1.0h-1.0zM169.7 345.7h1.0v1.0h-1.0zM171.5 341.8h1.0v1.0h-1.0zM174.4 341.3h1.0v1.0h-1.0zM185.9 350.5h1.0v1.0h-1.0zM174.2 352.7h1.0v1.0h-1.0zM182.4 340.0h1.0v1.0h-1.0zM179.2 344.2h1.0v1.0h-1.0zM170.4 346.3h1.0v1.0h-1.0zM184.8 348.2h1.0v1.0h-1.0zM171.8 345.2h1.0v1.0h-1.0zM175.3 350.2h1.0v1.0h-1.0zM178.6 344.3h1.0v1.0h-1.0zM174.5 341.5h1.0v1.0h-1.0zM174.8 349.5h1.0v1.0h-1.0zM169.5 347.5h1.0v1.0h-1.0zM178.5 349.3h1.0v1.0h-1.0zM173.3 349.5h1.0v1.0h-1.0zM170.9 346.9h1.0v1.0h-1.0zM178.0 347.3h1.0v1.0h-1.0zM174.1 349.4h1.0v1.0h-1.0zM190.8 351.2h1.0v1.0h-1.0zM174.3 345.4h1.0v1.0h-1.0zM182.7 347.4h1.0v1.0h-1.0zM175.2 350.5h1.0v1.0h-1.0zM181.6 349.9h1.0v1.0h-1.0zM178.2 350.6h1.0v1.0h-1.0zM176.7 343.9h1.0v1.0h-1.0zM179.0 343.1h1.0v1.0h-1.0zM185.3 349.1h1.0v1.0h-1.0zM170.6 347.5h1.0v1.0h-1.0zM183.3 346.0h1.0v1.0h-1.0zM181.1 345.4h1.0v1.0h-1.0zM178.7 346.8h1.0v1.0h-1.0zM181.5 344.3h1.0v1.0h-1.0zM173.4 347.9h1.0v1.0h-1.0zM176.5 348.5h1.0v1.0h-1.0zM176.5 343.3h1.0v1.0h-1.0zM182.7 347.7h1.0v1.0h-1.0zM182.7 346.0h1.0v1.0h-1.0zM177.2 350.5h1.0v1.0h-1.0zM170.5 351.9h1.0v1.0h-1.0zM181.6 346.8h1.0v1.0h-1.0zM179.5 348.7h1.0v1.0h-1.0zM175.2 347.8h1.0v1.0h-1.0zM174.2 341.8h1.0v1.0h-1.0zM180.0 347.3h1.0v1.0h-1.0zM182.3 348.6h1.0v1.0h-1.0zM182.5 349.2h1.0v1.0h-1.0zM173.7 350.4h1.0v1.0h-1.0zM192.5 345.4h1.0v1.0h-1.0zM172.7 348.9h1.0v1.0h-1.0zM183.6 349.8h1.0v1.0h-1.0zM186.7 343.1h1.0v1.0h-1.0zM180.9 348.3h1.0v1.0h-1.0zM185.3 344.5h1.0v1.0h-1.0zM179.1 346.0h1.0v1.0h-1.0zM178.2 346.6h1.0v1.0h-1.0zM178.3 342.0h1.0v1.0h-1.0zM178.8 347.2h1.0v1.0h-1.0zM177.1 337.0h1.0v1.0h-1.0zM175.5 345.2h1.0v1.0h-1.0zM174.6 351.5h1.0v1.0h-1.0zM183.7 346.5h1.0v1.0h-1.0zM174.1 348.3h1.0v1.0h-1.0zM176.0 351.2h1.0v1.0h-1.0zM184.6 346.7h1.0v1.0h-1.0zM182.1 344.8h1.0v1.0h-1.0zM171.1 349.4h1.0v1.0h-1.0zM187.2 346.1h1.0v1.0h-1.0zM176.4 342.0h1.0v1.0h-1.0zM189.8 343.6h1.0v1.0h-1.0zM174.1 346.5h1.0v1.0h-1.0zM185.1 347.2h1.0v1.0h-1.0zM178.9 347.1h1.0v1.0h-1.0zM183.3 346.9h1.0v1.0h-1.0zM179.8 346.8h1.0v1.0h-1.0zM173.4 350.8h1.0v1.0h-1.0zM175.5 343.3h1.0v1.0h-1.0zM176.8 347.1h1.0v1.0h-1.0zM183.1 342.9h1.0v1.0h-1.0zM172.6 347.5h1.0v1.0h-1.0zM180.9 343.9h1.0v1.0h-1.0zM173.3 347.5h1.0v1.0h-1.0zM178.3 342.5h1.0v1.0h-1.0zM174.6 351.2h1.0v1.0h-1.0zM173.7 350.0h1.0v1.0h-1.0zM171.3 351.2h1.0v1.0h-1.0zM187.1 345.2h1.0v1.0h-1.0zM175.6 348.8h1.0v1.0h-1.0zM172.8 348.6h1.0v1.0h-1.0zM185.1 347.7h1.0v1.0h-1.0zM180.6 346.6h1.0v1.0h-1.0zM184.1 344.7h1.0v1.0h-1.0zM187.0 346.9h1.0v1.0h-1.0zM177.4 342.4h1.0v1.0h-1.0zM176.8 347.7h1.0v1.0h-1.0zM185.3 342.5h1.0v1.0h-1.0zM178.4 345.1h1.0v1.0h-1.0zM173.0 347.0h1.0v1.0h-1.0zM175.2 349.4h1.0v1.0h-1.0zM165.5 349.1h1.0v1.0h-1.0zM169.4 341.5h1.0v1.0h-1.0zM181.6 346.0h1.0v1.0h-1.0zM179.7 344.3h1.0v1.0h-1.0zM173.7 344.9h1.0v1.0h-1.0zM178.7 344.6h1.0v1.0h-1.0zM176.9 344.6h1.0v1.0h-1.0zM180.2 343.8h1.0v1.0h-1.0zM168.6 339.6h1.0v1.0h-1.0zM178.9 347.3h1.0v1.0h-1.0zM183.8 344.9h1.0v1.0h-1.0zM173.3 342.8h1.0v1.0h-1.0zM182.8 345.2h1.0v1.0h-1.0zM184.0 346.8h1.0v1.0h-1.0zM177.6 341.8h1.0v1.0h-1.0zM175.6 349.2h1.0v1.0h-1.0zM175.9 348.9h1.0v1.0h-1.0zM170.7 349.9h1.0v1.0h-1.0zM193.0 350.1h1.0v1.0h-1.0zM180.6 343.5h1.0v1.0h-1.0zM176.4 345.2h1.0v1.0h-1.0zM179.9 341.3h1.0v1.0h-1.0zM174.7 349.2h1.0v1.0h-1.0zM179.7 349.1h1.0v1.0h-1.0zM183.3 343.8h1.0v1.0h-1.0zM172.2 348.3h1.0v1.0h-1.0zM179.2 347.2h1.0v1.0h-1.0zM174.9 349.9h1.0v1.0h-1.0zM181.5 350.2h1.0v1.0h-1.0zM177.2 348.9h1.0v1.0h-1.0zM178.7 344.4h1.0v1.0h-1.0zM178.6 342.3h1.0v1.0h-1.0zM178.1 347.5h1.0v1.0h-1.0zM182.5 344.0h1.0v1.0h-1.0zM172.3 344.9h1.0v1.0h-1.0zM168.6 345.2h1.0v1.0h-1.0zM192.1 347.4h1.0v1.0h-1.0zM175.2 345.1h1.0v1.0h-1.0zM187.9 343.7h1.0v1.0h-1.0zM178.4 346.8h1.0v1.0h-1.0zM175.3 345.0h1.0v1.0h-1.0zM170.6 344.6h1.0v1.0h-1.0zM185.5 351.0h1.0v1.0h-1.0zM177.6 349.0h1.0v1.0h-1.0zM181.3 347.3h1.0v1.0h-1.0zM178.3 350.4h1.0v1.0h-1.0zM181.9 346.4h1.0v1.0h-1.0zM177.8 349.6h1.0v1.0h-1.0zM176.0 345.0h1.0v1.0h-1.0zM177.6 345.6h1.0v1.0h-1.0zM185.3 348.0h1.0v1.0h-1.0zM178.6 345.5h1.0v1.0h-1.0zM186.1 348.2h1.0v1.0h-1.0zM189.4 349.6h1.0v1.0h-1.0zM177.9 345.5h1.0v1.0h-1.0zM177.6 347.5h1.0v1.0h-1.0zM183.0 348.4h1.0v1.0h-1.0zM186.9 342.7h1.0v1.0h-1.0zM179.1 343.0h1.0v1.0h-1.0zM173.8 345.3h1.0v1.0h-1.0zM175.7 344.3h1.0v1.0h-1.0zM171.4 350.2h1.0v1.0h-1.0zM177.4 349.7h1.0v1.0h-1.0zM173.5 340.5h1.0v1.0h-1.0zM176.0 349.5h1.0v1.0h-1.0zM176.2 348.1h1.0v1.0h-1.0zM173.6 350.9h1.0v1.0h-1.0zM181.2 350.0h1.0v1.0h-1.0zM177.6 350.6h1.0v1.0h-1.0zM179.4 345.6h1.0v1.0h-1.0zM175.8 347.2h1.0v1.0h-1.0zM174.4 343.6h1.0v1.0h-1.0zM179.7 349.0h1.0v1.0h-1.0zM177.5 349.4h1.0v1.0h-1.0zM186.9 343.4h1.0v1.0h-1.0zM180.3 344.3h1.0v1.0h-1.0zM175.8 347.5h1.0v1.0h-1.0zM167.1 348.7h1.0v1.0h-1.0zM183.2 348.5h1.0v1.0h-1.0zM182.2 352.1h1.0v1.0h-1.0zM177.2 350.1h1.0v1.0h-1.0zM186.3 348.4h1.0v1.0h-1.0z" fill="#000" fill-opacity="0.38"/>
<line x1="180.5" y1="314.4" x2="180.5" y2="354.4" stroke="#8a8a8a" stroke-width="1"/>
<line x1="164.4" y1="342.6" x2="222.2" y2="342.6" stroke="#3a3a3a" stroke-width="1"/>
<line x1="164.4" y1="314.9" x2="222.2" y2="314.9" stroke="#8a8a8a" stroke-width="1"/>
<line x1="221.7" y1="314.4" x2="221.7" y2="354.4" stroke="#777" stroke-width="1"/>
<line x1="165.1" y1="314.4" x2="165.1" y2="355.0" stroke="#111" stroke-width="1.5"/>
<line x1="164.4" y1="353.7" x2="222.2" y2="353.7" stroke="#111" stroke-width="1.5"/>
<text transform="translate(150.18,320.80) scale(0.86,1.0)" font-size="7.9" fill="#111" stroke="#111" stroke-width="0.4">10</text>
<text transform="translate(158.26,317.30) scale(0.86,1)" font-size="6.00" fill="#111" stroke="#111" stroke-width="0.3">4</text>
<text transform="translate(150.18,330.10) scale(0.86,1.0)" font-size="7.9" fill="#111" stroke="#111" stroke-width="0.4">10</text>
<text transform="translate(158.18,326.60) scale(0.86,1)" font-size="6.00" fill="#111" stroke="#111" stroke-width="0.3">3</text>
<text transform="translate(150.18,340.10) scale(0.86,1.0)" font-size="7.9" fill="#111" stroke="#111" stroke-width="0.4">10</text>
<text transform="translate(158.11,336.60) scale(0.86,1)" font-size="6.00" fill="#111" stroke="#111" stroke-width="0.3">2</text>
<text transform="translate(150.18,350.20) scale(0.86,1.0)" font-size="7.9" fill="#111" stroke="#111" stroke-width="0.4">10</text>
<text transform="translate(157.98,346.70) scale(0.86,1)" font-size="6.00" fill="#111" stroke="#111" stroke-width="0.3">1</text>
<text transform="translate(150.18,360.00) scale(0.86,1.0)" font-size="7.9" fill="#111" stroke="#111" stroke-width="0.4">10</text>
<text transform="translate(158.17,356.50) scale(0.86,1)" font-size="6.00" fill="#111" stroke="#111" stroke-width="0.3">0</text>
<text transform="translate(154.58,366.80) scale(0.86,1.0)" font-size="7.9" fill="#111" stroke="#111" stroke-width="0.4">10</text>
<text transform="translate(162.57,363.30) scale(0.86,1)" font-size="6.00" fill="#111" stroke="#111" stroke-width="0.3">0</text>
<text transform="translate(169.68,366.80) scale(0.86,1.0)" font-size="7.9" fill="#111" stroke="#111" stroke-width="0.4">10</text>
<text transform="translate(177.48,363.30) scale(0.86,1)" font-size="6.00" fill="#111" stroke="#111" stroke-width="0.3">1</text>
<text transform="translate(182.78,366.80) scale(0.86,1.0)" font-size="7.9" fill="#111" stroke="#111" stroke-width="0.4">10</text>
<text transform="translate(190.71,363.30) scale(0.86,1)" font-size="6.00" fill="#111" stroke="#111" stroke-width="0.3">2</text>
<text transform="translate(197.18,366.80) scale(0.86,1.0)" font-size="7.9" fill="#111" stroke="#111" stroke-width="0.4">10</text>
<text transform="translate(205.18,363.30) scale(0.86,1)" font-size="6.00" fill="#111" stroke="#111" stroke-width="0.3">3</text>
<text transform="translate(210.28,366.80) scale(0.86,1.0)" font-size="7.9" fill="#111" stroke="#111" stroke-width="0.4">10</text>
<text transform="translate(218.36,363.30) scale(0.86,1)" font-size="6.00" fill="#111" stroke="#111" stroke-width="0.3">4</text>
<text transform="translate(166.27,324.00) scale(0.9988,1.0000)" font-size="8.6" font-weight="bold" font-style="normal" fill="#000" >47.9%</text>
<text transform="translate(198.77,330.80) scale(0.9739,1.0000)" font-size="8.6" font-weight="bold" font-style="normal" fill="#000" >16.8%</text>
<text transform="translate(199.88,351.90) scale(0.9654,1.0000)" font-size="8.6" font-weight="bold" font-style="normal" fill="#000" >19.1%</text>
<text transform="translate(145.13,357.02) rotate(-90) scale(1.0208,1.0000)" font-size="12.5" font-weight="bold" font-style="normal" fill="#000">CD62L</text>
<text transform="translate(178.01,379.60) scale(1.0173,1.0000)" font-size="12.3" font-weight="bold" font-style="normal" fill="#000" >4-1BB</text>
<line x1="93.0" y1="277.2" x2="132.0" y2="262.9" stroke="#000" stroke-width="1.8"/>
<line x1="93.0" y1="316.2" x2="132.0" y2="327.7" stroke="#000" stroke-width="1.8"/>
<text transform="translate(89.91,262.10) scale(1.0503,1.0000)" font-size="14.5" font-weight="bold" font-style="normal" fill="#000" >- IL-4</text>
<text transform="translate(87.99,341.50) scale(1.0003,1.0000)" font-size="14.5" font-weight="bold" font-style="normal" fill="#000" >+ IL-4</text>
<text transform="translate(230.09,228.80) scale(1.0510,1.0000)" font-size="23.5" font-weight="bold" font-style="normal" fill="#000" >Cii</text>
<text transform="translate(259.93,365.10) scale(1,1.06)" font-size="11" font-weight="bold">0</text>
<text transform="translate(253.82,353.69) scale(1,1.06)" font-size="11" font-weight="bold">10</text>
<text transform="translate(253.82,342.28) scale(1,1.06)" font-size="11" font-weight="bold">20</text>
<text transform="translate(253.82,330.87) scale(1,1.06)" font-size="11" font-weight="bold">30</text>
<text transform="translate(253.82,319.46) scale(1,1.06)" font-size="11" font-weight="bold">40</text>
<text transform="translate(253.82,308.05) scale(1,1.06)" font-size="11" font-weight="bold">50</text>
<text transform="translate(253.82,296.64) scale(1,1.06)" font-size="11" font-weight="bold">60</text>
<text transform="translate(253.82,285.23) scale(1,1.06)" font-size="11" font-weight="bold">70</text>
<text transform="translate(253.82,273.82) scale(1,1.06)" font-size="11" font-weight="bold">80</text>
<text transform="translate(253.82,262.41) scale(1,1.06)" font-size="11" font-weight="bold">90</text>
<text transform="translate(247.70,251.00) scale(1,1.06)" font-size="11" font-weight="bold">100</text>
<text transform="translate(240.36,359.92) rotate(-90) scale(1.1625,1.0000)" font-size="12.5" font-weight="normal" font-style="normal" fill="#000">% Subpopulations</text>
<rect x="280.6" y="261.5" width="17.4" height="98.10000000000002" fill="#fff" stroke="#7a7a7a" stroke-width="0.9"/>
<rect x="298.3" y="356.3" width="16.3" height="3.3000000000000114" fill="url(#hatch)" stroke="none" stroke-width="1"/>
<rect x="315.0" y="355.0" width="17.6" height="4.600000000000023" fill="#5a5a5a" stroke="#333" stroke-width="0.9"/>
<line x1="289.3" y1="249.5" x2="289.3" y2="273.8" stroke="#555" stroke-width="0.8"/>
<line x1="287.6" y1="249.5" x2="291.0" y2="249.5" stroke="#555" stroke-width="0.8"/>
<line x1="287.6" y1="273.8" x2="291.0" y2="273.8" stroke="#555" stroke-width="0.8"/>
<line x1="323.8" y1="352.4" x2="323.8" y2="357.5" stroke="#444" stroke-width="0.9"/>
<line x1="322.3" y1="352.4" x2="325.3" y2="352.4" stroke="#444" stroke-width="0.9"/>
<line x1="268.2" y1="245.5" x2="345.5" y2="245.5" stroke="#7f7f7f" stroke-width="1"/>
<line x1="345.5" y1="245.5" x2="345.5" y2="359.6" stroke="#7f7f7f" stroke-width="1"/>
<line x1="268.2" y1="245.5" x2="268.2" y2="359.6" stroke="#7f7f7f" stroke-width="1"/>
<line x1="268.2" y1="359.6" x2="345.5" y2="359.6" stroke="#7f7f7f" stroke-width="1.2"/>
<text transform="translate(234.11,380.30) scale(1.0200,1.0000)" font-size="16" font-weight="bold" font-style="normal" fill="#000" >Before activation</text>
<text transform="translate(349.90,228.50) scale(1.0404,1.0000)" font-size="23.5" font-weight="bold" font-style="normal" fill="#000" >Ciii</text>
<text transform="translate(364.33,362.50) scale(1,1.1)" font-size="11" font-weight="bold">0</text>
<text transform="translate(358.22,351.18) scale(1,1.1)" font-size="11" font-weight="bold">10</text>
<text transform="translate(358.22,339.86) scale(1,1.1)" font-size="11" font-weight="bold">20</text>
<text transform="translate(358.22,328.54) scale(1,1.1)" font-size="11" font-weight="bold">30</text>
<text transform="translate(358.22,317.22) scale(1,1.1)" font-size="11" font-weight="bold">40</text>
<text transform="translate(358.22,305.90) scale(1,1.1)" font-size="11" font-weight="bold">50</text>
<text transform="translate(358.22,294.58) scale(1,1.1)" font-size="11" font-weight="bold">60</text>
<text transform="translate(358.22,283.26) scale(1,1.1)" font-size="11" font-weight="bold">70</text>
<text transform="translate(358.22,271.94) scale(1,1.1)" font-size="11" font-weight="bold">80</text>
<text transform="translate(358.22,260.62) scale(1,1.1)" font-size="11" font-weight="bold">90</text>
<text transform="translate(352.10,249.30) scale(1,1.1)" font-size="11" font-weight="bold">100</text>
<rect x="383.7" y="341.4" width="15.899999999999988" height="16.600000000000023" fill="#fff" stroke="#7a7a7a" stroke-width="0.9"/>
<rect x="400.5" y="329.6" width="15.899999999999977" height="28.399999999999977" fill="url(#hatch)" stroke="#222" stroke-width="0.9"/>
<rect x="417.4" y="297.1" width="16.100000000000023" height="60.89999999999998" fill="#5a5a5a" stroke="#333" stroke-width="0.9"/>
<rect x="457.5" y="302.3" width="15.899999999999988" height="55.69999999999999" fill="#fff" stroke="#7a7a7a" stroke-width="0.9"/>
<rect x="474.3" y="337.3" width="15.599999999999966" height="20.69999999999999" fill="url(#hatch)" stroke="#222" stroke-width="0.9"/>
<rect x="490.9" y="336.7" width="15.200000000000045" height="21.30000000000001" fill="#5a5a5a" stroke="#333" stroke-width="0.9"/>
<line x1="391.65" y1="337.1" x2="391.65" y2="345.9" stroke="#555" stroke-width="0.8"/>
<line x1="389.95" y1="337.1" x2="393.34999999999997" y2="337.1" stroke="#555" stroke-width="0.9"/>
<line x1="389.95" y1="345.9" x2="393.34999999999997" y2="345.9" stroke="#555" stroke-width="0.9"/>
<line x1="408.45" y1="318.5" x2="408.45" y2="341.0" stroke="#555" stroke-width="0.8"/>
<line x1="406.75" y1="318.5" x2="410.15" y2="318.5" stroke="#555" stroke-width="0.9"/>
<line x1="406.75" y1="341.0" x2="410.15" y2="341.0" stroke="#555" stroke-width="0.9"/>
<line x1="425.45" y1="282.6" x2="425.45" y2="312.5" stroke="#555" stroke-width="0.8"/>
<line x1="423.75" y1="282.6" x2="427.15" y2="282.6" stroke="#555" stroke-width="0.9"/>
<line x1="423.75" y1="312.5" x2="427.15" y2="312.5" stroke="#555" stroke-width="0.9"/>
<line x1="465.45000000000005" y1="285.4" x2="465.45000000000005" y2="319.8" stroke="#555" stroke-width="0.8"/>
<line x1="463.75000000000006" y1="285.4" x2="467.15000000000003" y2="285.4" stroke="#555" stroke-width="0.9"/>
<line x1="463.75000000000006" y1="319.8" x2="467.15000000000003" y2="319.8" stroke="#555" stroke-width="0.9"/>
<line x1="482.1" y1="328.4" x2="482.1" y2="345.9" stroke="#555" stroke-width="0.8"/>
<line x1="480.40000000000003" y1="328.4" x2="483.8" y2="328.4" stroke="#555" stroke-width="0.9"/>
<line x1="480.40000000000003" y1="345.9" x2="483.8" y2="345.9" stroke="#555" stroke-width="0.9"/>
<line x1="498.5" y1="328.4" x2="498.5" y2="344.5" stroke="#555" stroke-width="0.8"/>
<line x1="496.8" y1="328.4" x2="500.2" y2="328.4" stroke="#555" stroke-width="0.9"/>
<line x1="496.8" y1="344.5" x2="500.2" y2="344.5" stroke="#555" stroke-width="0.9"/>
<line x1="371.6" y1="243.8" x2="518.1" y2="243.8" stroke="#7f7f7f" stroke-width="1"/>
<line x1="518.1" y1="243.8" x2="518.1" y2="358.0" stroke="#7f7f7f" stroke-width="1"/>
<line x1="371.6" y1="243.8" x2="371.6" y2="358.0" stroke="#7f7f7f" stroke-width="1"/>
<line x1="371.6" y1="358.0" x2="518.1" y2="358.0" stroke="#7f7f7f" stroke-width="1.2"/>
<polyline points="390.4,298.2 390.4,275.1 465.8,275.1 465.8,284.0" fill="none" stroke="#2a2a2a" stroke-width="1.3"/>
<polyline points="424.6,262.9 424.6,256.6 496.5,256.6 496.5,298.3" fill="none" stroke="#2a2a2a" stroke-width="1.3"/>
<text transform="translate(447.81,254.60) scale(0.9218,1.0000)" font-size="12" font-weight="bold" font-style="italic" fill="#000" >P</text>
<text transform="translate(456.57,254.60) scale(1.0546,1.0000)" font-size="12" font-weight="bold" font-style="normal" fill="#000" >&lt;.05</text>
<text transform="translate(417.11,273.30) scale(0.9218,1.0000)" font-size="12" font-weight="bold" font-style="italic" fill="#000" >P</text>
<text transform="translate(425.89,273.30) scale(1.0196,1.0000)" font-size="12" font-weight="bold" font-style="normal" fill="#000" >&lt;.05</text>
<text transform="translate(384.06,374.10) scale(1.3070,1.0000)" font-size="12.5" font-weight="bold" font-style="normal" fill="#000" >- IL-4</text>
<text transform="translate(456.61,374.40) scale(1.3116,1.0000)" font-size="12.5" font-weight="bold" font-style="normal" fill="#000" >+ IL-4</text>
</svg></body></html>
